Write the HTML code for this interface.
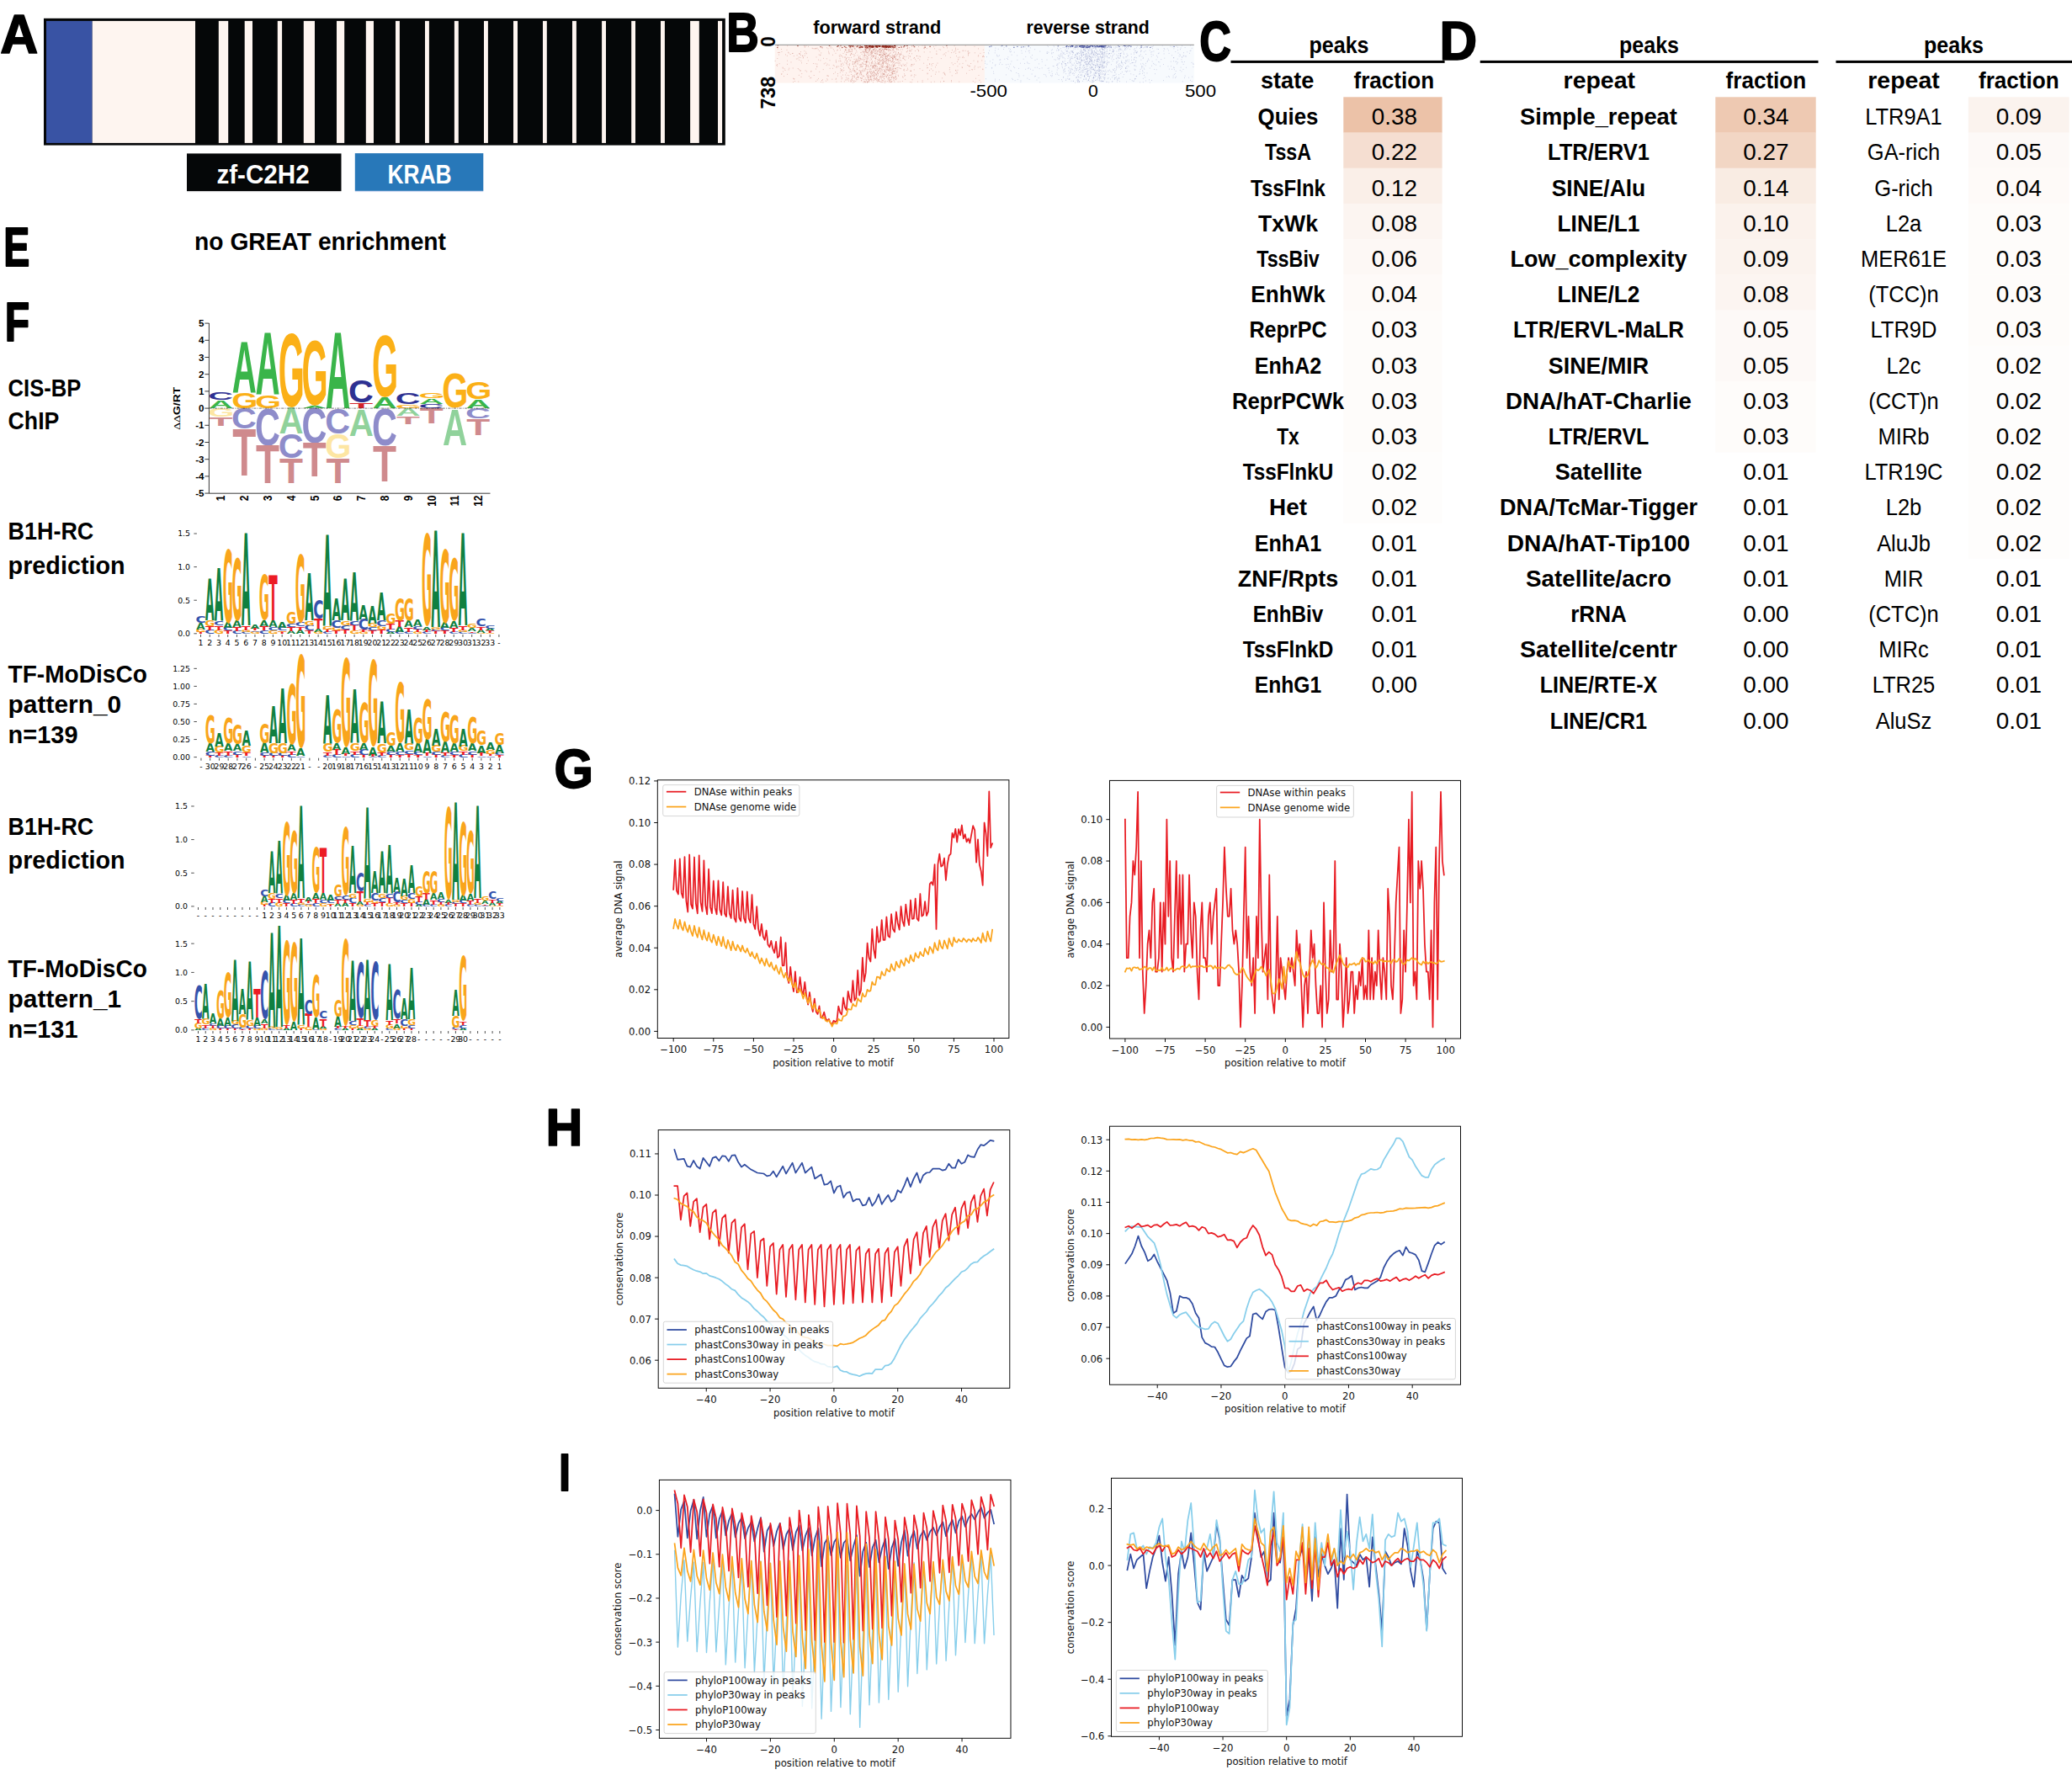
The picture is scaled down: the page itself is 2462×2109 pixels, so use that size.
<!DOCTYPE html>
<html><head><meta charset="utf-8"><title>figure</title>
<style>html,body{margin:0;padding:0;background:#fff}svg{display:block}</style></head>
<body>
<svg width="2462" height="2109" viewBox="0 0 2462 2109" font-family="'Liberation Sans', sans-serif" fill="#000">
<text transform="matrix(0.6230 0 0 0.6526 0.30 63.15)" font-size="100" fill="#000" font-weight="bold" stroke="#000" stroke-width="2.67" stroke-linejoin="round">A</text>
<text transform="matrix(0.5345 0 0 0.6541 863.17 60.95)" font-size="100" fill="#000" font-weight="bold" stroke="#000" stroke-width="2.86" stroke-linejoin="round">B</text>
<text transform="matrix(0.5216 0 0 0.6667 1425.31 71.50)" font-size="100" fill="#000" font-weight="bold" stroke="#000" stroke-width="2.86" stroke-linejoin="round">C</text>
<text transform="matrix(0.6180 0 0 0.6395 1710.42 70.95)" font-size="100" fill="#000" font-weight="bold" stroke="#000" stroke-width="2.7" stroke-linejoin="round">D</text>
<text transform="matrix(0.4652 0 0 0.6483 4.14 315.85)" font-size="100" fill="#000" font-weight="bold" stroke="#000" stroke-width="3.05" stroke-linejoin="round">E</text>
<text transform="matrix(0.4810 0 0 0.6483 5.73 404.75)" font-size="100" fill="#000" font-weight="bold" stroke="#000" stroke-width="3.01" stroke-linejoin="round">F</text>
<text transform="matrix(0.5972 0 0 0.6398 658.40 936.03)" font-size="100" fill="#000" font-weight="bold" stroke="#000" stroke-width="2.75" stroke-linejoin="round">G</text>
<text transform="matrix(0.6073 0 0 0.6352 648.39 1360.55)" font-size="100" fill="#000" font-weight="bold" stroke="#000" stroke-width="2.74" stroke-linejoin="round">H</text>
<text transform="matrix(0.5068 0 0 0.6352 664.06 1770.55)" font-size="100" fill="#000" font-weight="bold" stroke="#000" stroke-width="2.98" stroke-linejoin="round">I</text>
<rect x="52" y="21.8" width="809.8" height="150.8" fill="#050708"/>
<rect x="55" y="24.9" width="54.7" height="145" fill="#3953a4"/>
<rect x="109.7" y="24.9" width="122.3" height="145" fill="#fef5f0"/>
<rect x="259.8" y="24.9" width="11.4" height="145" fill="#fef5f0"/>
<rect x="290.7" y="24.9" width="9.3" height="145" fill="#fef5f0"/>
<rect x="329.8" y="24.9" width="5.3" height="145" fill="#fef5f0"/>
<rect x="360.8" y="24.9" width="13.2" height="145" fill="#fef5f0"/>
<rect x="400" y="24.9" width="9.2" height="145" fill="#fef5f0"/>
<rect x="434.8" y="24.9" width="9.2" height="145" fill="#fef5f0"/>
<rect x="470" y="24.9" width="4.9" height="145" fill="#fef5f0"/>
<rect x="505" y="24.9" width="4.9" height="145" fill="#fef5f0"/>
<rect x="539.9" y="24.9" width="4.9" height="145" fill="#fef5f0"/>
<rect x="575" y="24.9" width="4.9" height="145" fill="#fef5f0"/>
<rect x="610" y="24.9" width="5" height="145" fill="#fef5f0"/>
<rect x="645" y="24.9" width="4.8" height="145" fill="#fef5f0"/>
<rect x="680" y="24.9" width="4.9" height="145" fill="#fef5f0"/>
<rect x="715.1" y="24.9" width="4.9" height="145" fill="#fef5f0"/>
<rect x="750.2" y="24.9" width="4.8" height="145" fill="#fef5f0"/>
<rect x="785" y="24.9" width="4.9" height="145" fill="#fef5f0"/>
<rect x="820.1" y="24.9" width="10.7" height="145" fill="#fef5f0"/>
<rect x="853" y="24.9" width="5.1" height="145" fill="#fef5f0"/>
<rect x="222" y="182.4" width="183.5" height="44.6" fill="#050708"/>
<rect x="421.8" y="182.1" width="152.5" height="44.8" fill="#2878b9"/>
<rect x="222" y="227" width="183.5" height="1.2" fill="#d9d9d9"/>
<rect x="421.8" y="226.9" width="152.5" height="1.2" fill="#d5dcf3"/>
<text x="257.4" y="217.9" font-size="31.3" font-weight="bold" fill="#fff" textLength="110.3" lengthAdjust="spacingAndGlyphs">zf-C2H2</text>
<text x="460.4" y="218" font-size="31.3" font-weight="bold" fill="#fff" textLength="76.2" lengthAdjust="spacingAndGlyphs">KRAB</text>
<rect x="920.7" y="53.4" width="249.3" height="45.2" fill="#fef3ef"/>
<rect x="1170" y="53.4" width="248.8" height="45.2" fill="#f7fafd"/>
<path d="M935.1 76.3h.8M1028.4 57.0h.8M1026.1 90.4h.8M958.4 75.5h.8M1018.1 71.5h.8M1078.2 56.7h.8M945.9 70.0h.8M1036.4 75.3h.8M1126.5 61.0h.8M1055.6 55.1h.8M1049.2 69.6h.8M1011.2 63.6h.8M1082.8 89.2h.8M1056.9 59.7h.8M1050.7 54.7h.8M1058.9 68.3h.8M1058.6 88.6h.8M1059.8 64.9h.8M938.7 64.5h.8M1030.1 54.7h.8M1075.6 76.5h.8M946.7 65.6h.8M1062.4 84.9h.8M1044.9 61.8h.8M925.2 65.0h.8M1038.6 95.2h.8M1021.2 69.3h.8M984.2 61.1h.8M1034.8 60.9h.8M997.6 69.7h.8M970.6 76.2h.8M1042.2 54.0h.8M1073.9 82.3h.8M996.3 79.0h.8M1049.0 74.4h.8M1163.6 95.3h.8M1032.3 65.8h.8M1143.6 75.4h.8M999.2 91.0h.8M1027.0 66.1h.8M1047.6 62.3h.8M1057.1 85.7h.8M1080.7 66.6h.8M1005.6 57.9h.8M1050.9 70.6h.8M1034.3 78.3h.8M1081.0 67.3h.8M1065.4 71.1h.8M1069.9 54.4h.8M955.9 56.2h.8M1014.7 70.4h.8M1008.0 96.1h.8M1122.3 87.8h.8M999.3 66.1h.8M1043.2 94.9h.8M982.1 56.8h.8M1061.5 70.4h.8M1046.7 64.1h.8M1082.9 97.7h.8M1068.7 81.3h.8M1012.3 60.1h.8M1057.3 82.2h.8M1012.8 76.2h.8M1049.3 70.9h.8M1029.5 54.9h.8M1042.2 64.3h.8M1038.2 58.6h.8M1027.6 58.0h.8M1047.4 55.7h.8M1047.7 56.3h.8M1014.5 95.9h.8M1046.3 68.0h.8M1018.6 89.2h.8M1082.9 54.9h.8M1008.8 58.6h.8M1060.3 69.4h.8M982.4 93.8h.8M1052.7 71.8h.8M935.2 88.3h.8M1057.5 95.5h.8M997.5 67.2h.8M1036.2 86.7h.8M1146.8 60.3h.8M955.9 55.2h.8M971.8 58.8h.8M1029.1 88.1h.8M1109.9 97.1h.8M1044.4 58.8h.8M942.1 93.2h.8M1007.2 68.3h.8M1001.8 77.0h.8M972.0 71.1h.8M1045.0 81.9h.8M1063.2 87.0h.8M998.4 81.7h.8M1033.7 81.4h.8M1042.3 97.0h.8M1055.6 61.0h.8M1063.4 77.8h.8M1009.0 56.4h.8M1019.9 54.5h.8M1025.1 84.8h.8M1036.9 66.9h.8M1027.1 82.1h.8M1077.9 54.6h.8M1052.5 86.7h.8M1042.7 75.9h.8M1036.9 78.8h.8M1045.8 65.9h.8M1056.1 56.1h.8M1034.4 87.6h.8M1063.6 94.5h.8M973.4 60.6h.8M1098.8 54.4h.8M1082.3 90.0h.8M997.9 86.1h.8M1134.5 75.4h.8M1036.2 63.0h.8M1067.0 62.3h.8M1060.8 71.7h.8M1006.3 76.9h.8M1041.5 79.0h.8M965.6 57.6h.8M1059.1 92.4h.8M1069.2 71.5h.8M1018.3 73.7h.8M1081.3 97.5h.8M956.1 63.7h.8M999.7 93.8h.8M993.6 97.2h.8M969.5 57.4h.8M1043.1 54.6h.8M1039.0 92.4h.8M1048.7 59.2h.8M1043.6 76.6h.8M982.9 90.0h.8M1050.5 85.0h.8M1136.6 85.6h.8M1025.5 81.9h.8M1052.5 57.0h.8M1046.0 54.8h.8M1036.5 77.5h.8M1021.6 66.6h.8M1056.8 81.0h.8M1047.9 70.8h.8M1112.4 60.9h.8M1137.0 73.3h.8M1044.3 96.5h.8M1034.4 85.9h.8M1044.7 73.5h.8M1146.8 54.4h.8M1049.2 76.8h.8M1051.1 58.3h.8M1046.1 62.2h.8M1167.4 82.0h.8M1022.9 88.7h.8M1050.4 90.3h.8M1121.0 56.6h.8M1008.6 61.4h.8M1041.0 88.9h.8M1020.8 56.8h.8M1014.3 96.3h.8M1033.1 59.7h.8M1048.1 77.9h.8M1061.7 67.6h.8M1000.4 83.2h.8M1060.2 69.9h.8M953.5 66.1h.8M1076.8 61.9h.8M1090.6 69.3h.8M1033.1 56.3h.8M952.4 87.6h.8M1055.8 64.9h.8M1009.5 72.1h.8M1010.8 61.3h.8M1060.7 58.7h.8M1028.5 62.3h.8M1012.4 90.6h.8M1030.7 96.8h.8M1025.3 68.9h.8M1060.6 69.3h.8M1031.8 57.7h.8M1052.3 78.9h.8M1056.8 58.9h.8M1048.1 79.9h.8M1022.0 57.1h.8M1060.5 88.2h.8M1057.0 89.4h.8M1065.1 58.9h.8M1058.3 66.7h.8M1038.8 60.9h.8M1142.7 79.9h.8M1064.0 71.0h.8M1158.3 97.8h.8M1047.1 82.0h.8M1057.4 71.8h.8M1040.2 70.1h.8M1031.3 79.0h.8M1065.5 57.4h.8M989.2 65.3h.8M1021.3 83.9h.8M935.0 72.2h.8M1054.4 79.9h.8M1149.5 61.1h.8M1044.6 82.0h.8M1062.1 60.8h.8M1041.3 93.3h.8M1064.5 92.9h.8M1167.7 67.1h.8M948.4 97.0h.8M1045.0 58.9h.8M1043.9 94.5h.8M986.4 56.9h.8M1047.0 71.9h.8M1016.4 72.0h.8M1014.3 64.5h.8M999.1 96.8h.8M1038.2 85.8h.8M1039.0 63.7h.8M1051.7 89.9h.8M1033.1 57.8h.8M1050.0 64.4h.8M1005.1 70.7h.8M970.6 79.1h.8M1074.1 70.3h.8M1030.6 70.1h.8M1064.4 94.8h.8M1086.0 68.5h.8M1035.5 91.0h.8M1038.3 93.3h.8M1060.8 56.3h.8M1097.3 75.2h.8M1025.0 56.2h.8M984.5 62.8h.8M1054.0 70.4h.8M1042.1 79.7h.8M1058.8 56.2h.8M1053.1 72.0h.8M1031.2 92.7h.8M1028.4 82.2h.8M1091.0 60.7h.8M999.8 78.7h.8M1017.9 55.4h.8M1027.4 83.9h.8M1044.0 95.0h.8M1041.1 92.1h.8M1055.0 57.8h.8M977.1 94.8h.8M1155.2 82.9h.8M1003.4 73.8h.8M1068.6 74.3h.8M1048.2 58.2h.8M1013.7 83.2h.8M1053.7 76.3h.8M1045.3 93.3h.8M1062.3 84.4h.8M993.2 93.3h.8M1064.3 64.2h.8M1115.4 85.3h.8M1035.4 94.6h.8M950.7 84.1h.8M1046.5 97.6h.8M1033.6 89.7h.8M1011.0 97.0h.8M1101.7 87.0h.8M1063.9 56.0h.8M1016.4 96.5h.8M1037.5 78.6h.8M953.9 68.9h.8M1072.7 66.1h.8M1010.0 84.8h.8M1128.9 68.3h.8M928.3 88.3h.8M1046.0 72.6h.8M1029.6 62.6h.8M996.6 55.9h.8M1033.7 58.4h.8M1039.0 90.2h.8M972.7 65.0h.8M1066.0 70.6h.8M1029.9 56.9h.8M1120.0 55.6h.8M1058.7 90.2h.8M992.9 71.4h.8M1111.6 54.2h.8M1049.8 74.0h.8M1128.6 85.6h.8M1030.4 85.1h.8M1052.8 58.5h.8M1054.1 96.6h.8M1052.5 82.6h.8M1093.2 67.3h.8M1031.2 86.1h.8M1066.4 83.1h.8M976.1 56.8h.8M1011.0 85.8h.8M1050.6 58.8h.8M1037.2 95.3h.8M1051.0 64.5h.8M1135.4 63.3h.8M1040.3 61.9h.8M1082.8 76.6h.8M1037.5 86.6h.8M1012.0 93.8h.8M941.1 63.5h.8M1029.7 60.1h.8M1020.5 83.9h.8M1047.7 95.8h.8M960.9 90.5h.8M1060.2 85.4h.8M1065.1 93.1h.8M1082.9 76.6h.8M1062.3 61.9h.8M1050.8 83.8h.8M1087.6 89.2h.8M974.1 65.7h.8M1064.0 69.6h.8M1029.3 61.7h.8M988.3 57.0h.8M963.7 84.7h.8M1024.3 75.1h.8M1005.5 75.6h.8M1151.4 78.7h.8M1035.4 62.6h.8M1046.5 76.9h.8M1040.8 65.1h.8M1078.8 66.2h.8M1036.4 81.3h.8M1029.3 57.7h.8M944.1 96.5h.8M1052.8 90.7h.8M1004.6 59.3h.8M1004.8 64.9h.8M1037.2 97.7h.8M1063.4 54.4h.8M1008.3 70.6h.8M1015.2 91.0h.8M1033.8 68.9h.8M1005.2 64.9h.8M977.1 57.0h.8M1049.5 75.3h.8M1150.1 63.1h.8M1059.7 60.3h.8M1048.1 74.6h.8M1049.0 61.7h.8M1030.6 57.7h.8M1074.2 67.3h.8M999.1 76.2h.8M1041.4 95.7h.8M1062.9 54.2h.8M1039.8 75.8h.8M1054.5 66.1h.8M926.1 62.4h.8M1057.5 94.7h.8M1068.9 97.1h.8M934.6 59.4h.8M1048.5 54.1h.8M1038.1 59.1h.8M956.7 83.9h.8M982.6 89.9h.8M1039.4 57.7h.8M1005.9 95.1h.8M1053.0 91.7h.8M1058.3 71.8h.8M998.6 55.2h.8M1097.8 54.0h.8M1026.6 96.7h.8M1061.9 54.3h.8M1066.8 89.3h.8M1045.5 79.3h.8M1023.2 77.9h.8M1070.7 61.9h.8M1047.9 95.3h.8M943.4 93.8h.8M1027.6 60.8h.8M1040.8 59.5h.8M948.7 68.1h.8M1015.2 83.6h.8M1061.2 62.6h.8M1040.6 68.8h.8M1047.5 79.9h.8M1024.7 83.3h.8M1052.8 66.1h.8M1068.5 65.2h.8M1017.6 70.7h.8M1063.4 68.1h.8M1047.3 59.3h.8M1066.5 70.6h.8M1030.1 97.8h.8M1035.4 63.3h.8M1028.1 76.3h.8M1013.0 92.0h.8M1010.3 71.7h.8M1034.2 90.7h.8M1044.1 74.8h.8M998.7 78.2h.8M1040.7 81.2h.8M1061.4 87.2h.8M1072.7 92.0h.8M1021.5 77.1h.8M1008.4 89.8h.8M1014.3 79.5h.8M1029.3 54.0h.8M1070.1 81.6h.8M1047.2 60.5h.8M1038.7 77.7h.8M1045.8 90.9h.8M1151.6 62.7h.8M933.2 64.9h.8M949.0 63.8h.8M1030.1 73.2h.8M1063.4 64.7h.8M1139.4 97.1h.8M1037.4 59.7h.8M1069.0 68.8h.8M1045.2 72.2h.8M1015.8 73.1h.8M989.9 58.7h.8M1032.2 92.5h.8M1030.1 87.6h.8M1060.0 72.3h.8M1031.0 94.4h.8M1066.2 85.3h.8M952.1 74.8h.8M958.2 63.7h.8M1135.1 58.3h.8M1029.2 66.3h.8M1045.8 85.7h.8M1023.1 93.4h.8M1035.6 85.4h.8M1082.0 84.3h.8M1062.1 76.7h.8M951.6 91.4h.8M1057.2 89.8h.8M1054.7 65.7h.8M1035.4 87.5h.8M1031.3 89.0h.8M939.6 73.9h.8M1066.3 64.4h.8M1042.7 71.4h.8M1046.2 68.2h.8M923.7 58.0h.8M985.7 81.3h.8M1055.4 70.5h.8M1064.0 70.6h.8M1055.5 94.9h.8M1039.4 81.9h.8M1095.7 95.8h.8M1000.3 92.6h.8M1006.6 89.4h.8M1046.7 60.2h.8M1121.9 64.0h.8M1061.5 66.1h.8M1055.5 59.9h.8M1007.4 92.8h.8M1032.3 55.3h.8M1061.4 92.0h.8M1048.6 66.6h.8M1013.6 90.5h.8M1011.5 58.6h.8M1049.5 79.7h.8M1031.5 97.2h.8M1054.2 77.5h.8M1083.2 63.8h.8M1041.6 55.4h.8M1052.9 82.1h.8M1014.7 97.5h.8M1017.1 87.9h.8M1108.3 75.5h.8M1064.1 61.5h.8M1011.9 59.2h.8M1022.6 87.1h.8M1037.8 89.8h.8M1056.1 55.0h.8M1101.3 80.7h.8M1123.0 66.1h.8M1150.0 65.9h.8M1023.3 95.7h.8M1043.1 75.6h.8M1047.9 89.3h.8M1062.2 93.2h.8M1048.0 97.6h.8M951.5 72.4h.8M1043.3 87.4h.8M1028.0 78.7h.8M1017.8 72.8h.8M1162.0 57.9h.8M1067.6 70.1h.8M1029.9 89.9h.8M1079.2 69.0h.8M1048.6 65.2h.8M1026.3 94.6h.8M1015.4 65.9h.8M1035.1 77.2h.8M1055.6 54.0h.8M1028.2 56.9h.8M1083.1 58.9h.8M942.2 97.4h.8M1072.8 69.4h.8M1029.0 95.0h.8M1048.3 75.0h.8M931.1 90.6h.8M1053.7 88.7h.8M1054.3 58.4h.8M969.1 96.5h.8M1054.7 72.0h.8M1052.1 96.3h.8M1167.5 82.6h.8M1059.4 73.5h.8M1042.0 61.7h.8M1067.1 90.4h.8M1059.5 91.4h.8M1029.8 62.1h.8M1067.5 72.9h.8M1139.6 61.6h.8M1066.7 97.2h.8M1001.2 89.1h.8M1087.0 70.3h.8M1038.0 84.2h.8M1025.8 62.1h.8M1058.9 68.4h.8M1039.0 86.8h.8M1151.6 83.5h.8M1055.2 65.5h.8M1139.7 76.0h.8M1050.8 72.5h.8M1149.3 77.4h.8M1005.2 69.3h.8M1117.3 59.2h.8M950.6 68.3h.8M1049.8 87.8h.8M1061.5 57.3h.8M998.0 59.4h.8M1018.7 65.8h.8M1040.3 94.1h.8M925.7 75.7h.8M1104.0 75.7h.8M1014.5 56.9h.8M1067.6 77.3h.8M1029.8 64.1h.8M1017.2 59.8h.8M1059.6 96.8h.8M1043.2 89.1h.8M1053.4 79.6h.8M1037.8 93.3h.8M1063.2 92.1h.8M1040.0 74.6h.8M1157.5 80.2h.8M1035.0 74.7h.8M1032.4 65.2h.8M977.2 56.0h.8M1008.8 85.6h.8M1048.8 77.7h.8M1069.4 59.1h.8M1133.7 54.4h.8M1038.2 85.4h.8M1046.7 67.8h.8M1052.9 63.8h.8M1044.7 69.6h.8M974.6 65.2h.8M1058.4 94.5h.8M1049.2 66.3h.8M1153.3 75.5h.8M1110.0 57.8h.8M1045.0 55.5h.8M1128.1 80.5h.8M1095.6 54.2h.8M1035.9 55.9h.8M1054.6 93.8h.8M1034.9 66.1h.8M1040.9 83.0h.8M1040.5 83.3h.8M1047.6 85.3h.8M1016.1 78.3h.8M1022.7 69.9h.8M1056.1 92.8h.8M1044.2 65.3h.8M1048.4 58.5h.8M1143.0 68.3h.8M969.1 82.0h.8M1060.0 86.6h.8M1076.9 83.5h.8M1039.5 60.1h.8M1046.5 89.2h.8M1020.6 76.9h.8M1056.9 69.4h.8M1013.4 82.1h.8M1013.1 76.6h.8M1029.0 72.7h.8M1056.8 66.0h.8M1058.5 68.3h.8M1044.1 58.9h.8M1025.1 76.2h.8M1057.9 62.8h.8M1084.6 77.0h.8M974.5 71.8h.8M1046.7 77.8h.8M1023.0 84.4h.8M1055.5 69.5h.8M1056.2 96.3h.8M1132.1 76.8h.8M1049.8 82.5h.8M1056.9 67.6h.8M1038.5 77.3h.8M1011.8 96.0h.8M1157.9 62.8h.8M1039.1 87.0h.8M1047.4 65.4h.8M1047.4 79.2h.8M984.0 90.3h.8M1032.5 95.9h.8M1089.8 58.8h.8M1051.5 57.3h.8M980.5 74.9h.8M1046.4 91.5h.8M1033.9 77.7h.8M1167.1 67.3h.8M982.7 76.1h.8M1119.3 92.8h.8M995.2 90.1h.8M1148.0 87.2h.8M1048.6 80.0h.8M1048.9 63.3h.8M1012.4 54.2h.8M1082.9 78.1h.8M1055.8 89.2h.8M1046.6 87.7h.8M1048.7 87.9h.8M1003.9 71.3h.8M1034.0 91.3h.8M1062.2 87.2h.8M1041.6 87.8h.8M920.7 72.4h.8M1021.2 58.0h.8M1013.2 98.1h.8M1029.1 77.2h.8M1060.8 57.9h.8M1015.4 85.4h.8M1073.9 54.6h.8M1024.6 74.6h.8M1034.7 56.7h.8M1028.7 56.6h.8M949.9 63.8h.8M962.4 92.7h.8M1004.2 95.0h.8M1162.6 89.5h.8M1040.7 63.5h.8M953.1 66.5h.8M1052.2 67.8h.8M1032.8 59.4h.8M1029.1 73.8h.8M1051.6 66.9h.8M1019.2 91.8h.8M1050.6 64.0h.8M1050.8 88.5h.8M1054.6 79.0h.8M1018.2 82.7h.8M1023.1 55.1h.8M1066.5 74.2h.8M1060.9 84.3h.8M977.8 82.6h.8M1044.3 70.4h.8M1092.6 81.6h.8M937.4 81.2h.8M1030.5 67.6h.8M1052.7 71.0h.8M1051.5 69.6h.8M1043.5 74.9h.8M1028.3 80.6h.8M1056.1 94.9h.8M1044.7 76.6h.8M1168.1 66.3h.8M1015.5 76.0h.8M1031.7 82.2h.8M1143.0 80.3h.8M997.8 65.0h.8M1087.0 60.5h.8M1064.6 85.9h.8M932.6 83.5h.8M1022.4 56.4h.8M1047.6 82.9h.8M1019.4 90.9h.8M1064.3 88.1h.8M1041.5 62.2h.8M1034.2 62.8h.8M1041.7 56.2h.8M1037.4 88.9h.8M1053.9 79.8h.8M1032.0 60.9h.8M1075.3 94.3h.8M1036.1 54.4h.8M983.6 57.9h.8M1035.8 61.1h.8M1138.2 68.2h.8M1047.8 91.4h.8M1028.4 58.6h.8M1162.3 65.8h.8M1027.3 97.4h.8M968.8 58.1h.8M1055.8 58.6h.8M1027.0 62.0h.8M1106.8 78.0h.8M1038.5 58.3h.8M1048.2 72.9h.8M993.1 73.9h.8M969.6 67.9h.8M1061.6 55.8h.8M1024.1 93.6h.8M1050.0 60.3h.8M1056.2 84.1h.8M1002.6 54.8h.8M1069.6 56.3h.8M1045.8 64.4h.8M1106.4 76.2h.8M1007.4 79.1h.8M1017.0 78.6h.8M1056.0 72.0h.8M1140.0 68.0h.8M1147.4 72.2h.8M1042.1 73.5h.8M1053.2 56.3h.8M1015.5 74.5h.8M1042.4 93.8h.8M1063.3 81.5h.8M1113.6 75.1h.8M1017.7 82.1h.8M1081.6 84.2h.8M1024.3 91.7h.8M1052.3 69.2h.8M1011.9 84.0h.8M1028.7 76.0h.8M1036.4 89.4h.8M1022.7 59.0h.8M928.1 58.5h.8M1038.2 79.2h.8M992.6 63.3h.8M1122.8 89.1h.8M1053.2 69.5h.8M1037.8 62.2h.8M1127.9 82.8h.8M1021.3 87.8h.8M1046.2 84.1h.8M1029.5 74.5h.8M1091.1 59.8h.8M1033.7 94.5h.8M1016.9 88.7h.8M1150.3 60.9h.8M1030.0 86.6h.8M985.6 71.7h.8M1018.5 87.1h.8M1030.8 92.7h.8M1032.1 97.2h.8M1054.7 82.6h.8M1058.9 86.0h.8M1011.0 68.3h.8M1022.0 69.1h.8M1061.7 78.6h.8M1061.1 95.0h.8M1104.7 61.8h.8M1006.2 62.3h.8M1042.3 60.3h.8M1022.0 85.3h.8M1039.5 63.3h.8M1029.2 73.9h.8M1060.4 70.2h.8M1029.2 58.0h.8M1025.7 90.7h.8M1057.3 63.3h.8M1062.4 67.0h.8M1008.0 79.8h.8M1036.2 79.6h.8M1070.9 77.9h.8M1056.3 80.1h.8M1028.6 61.0h.8M1049.3 95.7h.8M1112.6 64.2h.8M1061.2 59.9h.8M1057.4 82.9h.8M943.3 93.9h.8M1028.3 73.7h.8M995.6 54.0h.8M1089.2 66.5h.8M1062.5 67.8h.8M1138.5 70.2h.8M923.0 78.3h.8M1059.1 55.0h.8M1074.4 77.8h.8M1055.9 97.7h.8M1057.1 71.6h.8M1007.9 62.1h.8M942.9 66.5h.8M1023.9 79.2h.8M983.1 95.0h.8M941.7 63.4h.8M1066.5 71.6h.8M1028.5 68.8h.8M1034.8 95.0h.8M1042.9 83.2h.8M1026.6 73.0h.8M1040.0 79.3h.8M1070.9 55.9h.8M1031.4 65.4h.8M1017.5 54.9h.8M1137.6 83.3h.8M1009.4 83.0h.8M1051.7 69.2h.8M1121.3 96.6h.8M1061.5 66.5h.8M1082.0 60.6h.8M1016.2 63.2h.8M1015.7 57.4h.8M1075.0 89.6h.8M1054.6 83.6h.8M1029.2 78.8h.8M1037.5 66.9h.8M1050.9 84.9h.8M1044.6 83.5h.8M1164.5 63.4h.8M1061.9 84.6h.8M1019.8 69.1h.8M1060.9 74.2h.8M1016.4 74.4h.8M1005.9 94.0h.8M1030.2 57.1h.8M1112.1 77.3h.8M1078.1 60.1h.8M1132.6 62.1h.8M1064.4 82.9h.8M1048.7 68.6h.8M947.8 81.5h.8M1031.9 54.1h.8M1066.2 80.6h.8M1022.3 76.4h.8M1060.8 92.5h.8M1018.6 94.6h.8M1027.3 70.4h.8M1026.7 84.1h.8M1165.2 97.8h.8M1080.1 60.0h.8M1058.8 97.2h.8M1035.7 89.8h.8M1042.2 54.6h.8M1023.7 64.4h.8M1025.6 97.9h.8M1005.7 60.5h.8M989.0 81.3h.8M1045.1 58.7h.8M1046.2 57.6h.8M1077.5 57.6h.8M1032.3 79.7h.8M1102.8 68.3h.8M1032.5 94.3h.8M1078.0 81.2h.8M1106.0 81.9h.8M1014.7 55.6h.8M1030.6 91.4h.8M1002.4 83.5h.8M1085.5 69.3h.8M1157.6 82.2h.8M924.1 62.5h.8M978.8 75.8h.8M1008.2 80.5h.8M1020.1 56.0h.8M1060.5 90.5h.8M1067.1 62.6h.8M975.4 62.9h.8M1135.1 57.1h.8M1051.0 65.7h.8M1045.3 65.6h.8M1024.7 89.7h.8M1054.3 89.7h.8M1032.5 91.0h.8M1008.4 59.7h.8M1058.6 89.2h.8M1076.0 67.3h.8M1077.4 61.4h.8M1042.6 56.4h.8M1019.9 73.6h.8M1053.0 74.1h.8M1029.1 88.9h.8M1023.4 95.8h.8M1024.4 70.8h.8M1043.3 54.8h.8M1063.8 91.1h.8M1036.9 59.5h.8M1030.2 57.1h.8M957.5 54.6h.8M1015.2 73.8h.8M1092.4 71.0h.8M1053.3 63.1h.8M1024.7 61.4h.8M1026.8 68.1h.8M1031.8 63.3h.8M976.3 56.0h.8M1027.6 65.9h.8M995.0 87.6h.8M1125.1 56.8h.8M1041.8 70.4h.8M1030.5 90.8h.8M936.9 63.0h.8M1055.4 91.3h.8M1037.3 78.6h.8M1022.7 70.8h.8M1022.7 62.3h.8M1053.6 75.7h.8M1040.2 54.4h.8M1034.9 54.5h.8M1044.8 74.8h.8M1052.7 85.3h.8M1041.6 94.8h.8M999.1 84.1h.8M1063.2 81.2h.8M958.9 68.3h.8M1050.6 84.3h.8M1014.9 89.1h.8M1005.3 86.8h.8M1022.4 86.7h.8M1034.1 91.6h.8M1047.2 93.8h.8M1036.4 73.7h.8M1071.0 78.5h.8M1052.0 64.0h.8M1039.7 54.0h.8M1060.3 87.8h.8M1051.0 62.2h.8M1059.4 82.1h.8M1009.6 54.4h.8M966.9 57.9h.8M1015.2 91.7h.8M1037.2 79.8h.8M1039.3 73.6h.8M1001.2 75.2h.8M1029.8 59.0h.8M1066.7 75.4h.8M1062.2 56.8h.8M1050.0 87.0h.8M1031.4 73.4h.8M1033.3 84.5h.8M1167.9 59.2h.8M1068.4 63.9h.8M1011.3 63.9h.8M1057.6 97.4h.8M1028.8 54.3h.8M1010.2 65.5h.8M1046.7 60.9h.8M1018.5 87.2h.8M1035.4 62.9h.8M1130.1 97.0h.8M1123.6 62.7h.8M1048.1 87.0h.8M1062.5 97.5h.8M1004.0 59.2h.8M1044.5 76.0h.8M936.7 82.9h.8M1025.7 61.8h.8M1055.2 71.6h.8M1027.5 61.3h.8M1055.4 92.9h.8M1091.7 66.9h.8M1012.2 95.4h.8M1057.0 77.4h.8M1026.5 63.9h.8M1085.8 82.9h.8M1097.2 57.2h.8M1053.4 59.6h.8M1042.0 56.2h.8M1020.3 71.5h.8M1049.4 72.9h.8M1045.5 61.1h.8M1059.4 83.4h.8M1065.5 65.1h.8M1058.6 79.1h.8M1045.5 62.3h.8M935.3 54.6h.8M1102.2 94.0h.8M955.5 60.6h.8M1064.3 74.4h.8M1036.7 86.8h.8M1042.5 56.3h.8M1032.4 60.1h.8M1063.5 69.0h.8M1041.4 92.2h.8M1085.8 76.2h.8M1057.9 80.3h.8M1073.4 67.2h.8M1041.2 55.9h.8M1054.6 65.9h.8M924.9 62.4h.8M1101.9 80.5h.8M1143.9 67.2h.8M1033.1 85.1h.8M1073.9 54.3h.8M1003.7 67.8h.8M1023.5 79.5h.8M1122.2 88.0h.8M1130.6 74.8h.8M954.1 68.0h.8M1047.0 91.5h.8M1101.3 77.9h.8M1097.8 61.9h.8M1063.4 67.5h.8M1027.4 76.5h.8M1066.0 55.0h.8M1039.8 83.7h.8M1050.6 61.7h.8M1023.3 86.7h.8M1048.9 71.4h.8M1014.3 66.8h.8M1043.2 60.5h.8M1039.6 55.0h.8M1161.8 80.0h.8M999.7 82.7h.8M1005.0 74.9h.8M1028.8 73.4h.8M929.7 80.2h.8M1049.6 88.1h.8M1029.2 77.8h.8M1022.8 55.3h.8M1156.6 72.2h.8M1054.6 75.6h.8M1043.5 71.8h.8M1112.4 64.0h.8M1058.0 83.4h.8M1055.7 66.4h.8M1022.2 70.0h.8M1055.9 83.4h.8M1063.3 66.3h.8M1161.5 73.8h.8M1050.4 96.4h.8M1015.8 54.5h.8M1028.5 94.6h.8M1008.7 68.7h.8M923.0 76.6h.8M1033.7 57.7h.8M1050.5 79.3h.8M1040.3 83.6h.8M1098.1 57.7h.8M1072.7 76.2h.8M963.4 92.3h.8M1063.4 84.2h.8M1020.3 57.4h.8M1117.9 69.6h.8M1030.4 72.1h.8M1157.6 55.3h.8M1035.1 70.6h.8M1017.3 92.5h.8M976.0 95.6h.8M1062.0 73.3h.8M1006.1 72.4h.8M994.1 59.9h.8M936.0 62.2h.8M1034.1 94.0h.8M990.9 60.7h.8M1015.1 84.3h.8M1040.2 77.8h.8M1031.9 95.0h.8M1035.3 60.6h.8M994.0 79.9h.8M1071.9 96.5h.8M1025.1 61.8h.8M1011.4 94.5h.8M1041.5 75.8h.8M1067.4 63.8h.8M955.8 66.0h.8M1010.6 55.0h.8M1120.6 86.7h.8M1081.7 84.4h.8M1101.7 87.7h.8M1069.3 65.3h.8M1051.8 85.6h.8M1044.8 58.1h.8M948.9 89.4h.8M1046.6 71.8h.8M1055.2 73.7h.8M1052.9 70.8h.8M1066.8 59.2h.8M921.0 95.2h.8M1028.1 59.9h.8M1059.4 73.6h.8M1008.7 76.6h.8M1004.4 58.8h.8M955.2 54.4h.8M1135.4 87.5h.8M1050.2 64.3h.8M1027.5 65.5h.8M1049.0 91.4h.8M1161.9 66.9h.8M1105.9 97.6h.8M1037.7 90.6h.8M1022.5 62.7h.8M970.2 79.2h.8M1030.3 62.6h.8M981.9 69.8h.8M1042.6 81.6h.8M1012.7 73.4h.8M1029.5 79.2h.8M949.9 64.2h.8M1064.3 55.7h.8M1047.7 83.4h.8M1028.4 60.4h.8M994.3 78.7h.8M1060.4 68.5h.8M1017.7 56.4h.8M1069.7 64.7h.8M1030.3 97.6h.8M1038.5 66.2h.8M1039.8 69.4h.8M1062.0 68.1h.8M1049.7 64.3h.8M1055.8 84.4h.8M1049.6 87.5h.8M966.3 75.5h.8M1028.6 59.6h.8M1121.1 96.6h.8M1048.3 70.7h.8M1051.6 58.4h.8M1075.4 71.3h.8M1001.1 85.0h.8M1040.2 87.9h.8M1056.5 96.1h.8M1041.8 85.7h.8M1050.5 91.4h.8M1035.3 64.9h.8M1052.1 75.0h.8M1031.1 78.1h.8M1032.7 74.2h.8M1039.7 69.2h.8M1052.8 58.6h.8M1158.0 78.5h.8M1058.7 96.9h.8M993.3 79.9h.8M1035.9 79.8h.8M1117.2 97.2h.8M1061.1 81.4h.8M1049.0 75.2h.8M1019.8 91.6h.8M988.5 94.2h.8M1088.3 72.3h.8M1053.5 58.7h.8M960.2 55.3h.8M1028.3 81.5h.8M1005.2 69.0h.8M1017.3 94.8h.8M1013.7 81.4h.8M1022.5 56.4h.8M1001.6 63.5h.8M1027.8 92.8h.8M1047.7 79.0h.8M1061.3 78.7h.8M1017.6 61.9h.8M1064.9 74.9h.8M1062.6 55.5h.8M1027.2 55.9h.8M1035.6 63.7h.8M1052.6 56.3h.8M1043.3 74.6h.8M1130.2 95.7h.8M1028.0 58.7h.8M1080.1 63.6h.8M1054.1 82.1h.8M950.6 83.8h.8M1045.5 91.2h.8M947.5 69.8h.8M1033.8 64.1h.8M1005.0 92.1h.8M1040.2 78.8h.8M1050.9 67.8h.8M1005.9 56.4h.8M1168.8 67.5h.8M1013.0 89.9h.8M963.2 85.0h.8M1010.3 95.8h.8M1034.5 54.4h.8M1056.3 64.1h.8M1025.6 75.9h.8M1040.6 88.0h.8M1057.4 55.0h.8M1055.0 59.4h.8M1016.7 93.5h.8M1106.2 90.5h.8M1027.0 64.1h.8M1053.3 83.4h.8M1025.4 66.5h.8M1010.2 61.3h.8M1081.2 59.8h.8M1130.8 89.9h.8M1030.1 86.1h.8M1115.7 58.7h.8M1012.4 58.2h.8M1030.7 77.3h.8M1022.4 79.2h.8M1057.4 83.4h.8M1086.1 88.9h.8M1029.5 96.1h.8M958.3 85.1h.8M948.9 82.7h.8M984.7 77.3h.8M1031.6 90.3h.8M1003.5 68.2h.8M1028.9 72.3h.8M1021.4 71.9h.8M1022.4 56.2h.8M1059.6 87.6h.8M1044.9 65.5h.8M1009.3 75.7h.8M1034.9 88.7h.8M1055.3 87.6h.8M1038.1 88.7h.8M1106.7 68.6h.8M1072.3 69.0h.8M1063.0 54.3h.8M1035.4 75.2h.8M1150.6 63.3h.8M1034.4 91.8h.8M1050.3 98.0h.8M999.4 76.1h.8M1058.7 92.5h.8M968.7 75.8h.8M1121.5 86.2h.8M1043.0 84.3h.8M1065.4 66.5h.8M1016.8 70.1h.8M1033.5 82.8h.8M1051.5 58.4h.8M1064.2 90.5h.8M1043.2 96.0h.8M1164.1 79.6h.8M1048.9 62.9h.8M1070.1 63.7h.8M1043.6 84.0h.8M1050.1 58.4h.8M1083.7 94.8h.8M934.9 66.3h.8M1042.3 85.1h.8M997.4 57.2h.8M1034.8 67.5h.8M1010.4 97.0h.8M1044.6 64.8h.8M1022.3 92.5h.8M1055.9 76.6h.8M1010.1 82.3h.8M1131.0 59.5h.8M1044.0 80.9h.8M1058.9 57.7h.8M984.8 63.9h.8M1055.2 55.0h.8M1033.9 62.0h.8M970.8 95.0h.8M923.4 69.5h.8M1008.9 77.6h.8M1012.1 64.4h.8M1050.5 57.4h.8M1020.2 67.8h.8M1018.2 87.8h.8M1025.0 59.8h.8M1051.9 81.0h.8M1012.2 92.9h.8M998.6 72.9h.8M966.8 89.5h.8M992.0 85.9h.8M1057.9 73.6h.8M1078.0 57.3h.8M1043.8 55.4h.8M1035.4 96.1h.8M1060.8 79.3h.8M1070.6 64.7h.8M1027.4 58.3h.8M1104.1 83.5h.8M1040.8 77.9h.8M1050.8 65.1h.8M1071.8 58.9h.8M1036.6 68.4h.8M1019.7 69.9h.8M957.3 62.0h.8M1136.9 86.9h.8M1021.4 89.0h.8M1073.2 83.2h.8M1014.1 84.2h.8M1048.9 72.6h.8M1058.9 86.5h.8M1040.3 93.9h.8M1032.9 75.9h.8M1033.9 55.4h.8M1033.1 58.8h.8M931.8 81.9h.8M1052.4 75.1h.8M1042.8 60.6h.8M1051.7 97.9h.8M1009.9 65.2h.8M1078.4 82.8h.8M973.4 85.4h.8M1012.1 61.6h.8M1054.2 68.3h.8M1061.8 68.2h.8M1021.9 78.2h.8M1051.2 83.8h.8M1155.8 96.6h.8M1054.2 66.6h.8M1058.2 60.2h.8M1029.9 82.7h.8M1046.9 76.0h.8M1072.2 91.1h.8M1073.9 77.7h.8M1008.7 81.5h.8M1054.8 71.6h.8M1000.1 57.0h.8M1064.8 58.7h.8M1016.6 86.2h.8M1044.9 59.9h.8M1044.4 61.9h.8M1052.9 91.0h.8M1059.3 77.3h.8M1017.3 72.7h.8M1053.6 67.3h.8M1026.6 66.0h.8M1074.0 87.9h.8M1062.5 65.5h.8M1060.4 58.9h.8M1035.7 74.1h.8M1062.3 77.3h.8M1037.6 54.9h.8M1027.8 97.9h.8M1073.1 68.9h.8M1088.9 66.5h.8M1042.1 90.6h.8M1003.1 61.7h.8M1053.1 79.9h.8M1060.6 69.7h.8M1036.3 61.9h.8M1018.4 91.5h.8M1052.1 66.2h.8M1074.3 83.9h.8M998.9 83.7h.8M977.5 97.8h.8M1013.9 78.7h.8M1028.1 97.2h.8M1036.6 65.2h.8M968.5 57.5h.8M990.8 78.3h.8M1060.4 76.0h.8M1035.4 69.8h.8M1008.0 60.3h.8M1045.0 71.1h.8M1055.7 79.6h.8M1038.1 80.9h.8M1050.8 73.7h.8M1003.8 59.9h.8M1070.5 72.0h.8M1032.1 58.8h.8M1057.3 59.3h.8M1033.6 71.3h.8M1063.2 75.6h.8M1052.8 67.1h.8M996.4 72.6h.8M1045.0 81.2h.8M997.9 72.2h.8M1065.0 85.4h.8M1143.5 60.3h.8M1052.2 57.0h.8M1038.1 66.7h.8M1081.8 78.2h.8M1074.4 90.2h.8M1064.1 81.5h.8M1039.0 94.1h.8M964.7 57.2h.8M1026.7 96.9h.8M1030.3 67.4h.8M1034.8 84.5h.8M1015.1 57.8h.8M1018.2 73.0h.8M1032.4 57.0h.8M1138.0 71.0h.8M999.7 66.7h.8M1019.1 92.4h.8M1046.0 59.1h.8M1049.3 88.8h.8M1043.1 68.2h.8M1042.9 96.0h.8M1045.2 96.7h.8M1053.6 79.5h.8M1007.9 58.7h.8M1120.6 64.9h.8M1039.5 72.1h.8M1029.9 97.8h.8M1021.9 84.8h.8M1030.5 87.7h.8M1083.1 55.0h.8M1063.5 90.5h.8M930.0 85.0h.8M1006.5 74.2h.8M1034.2 86.4h.8M1060.4 66.4h.8M1037.6 59.0h.8M1154.4 82.6h.8M1130.0 62.6h.8M989.8 77.4h.8M1166.4 71.9h.8M1090.2 97.1h.8M1039.6 89.3h.8M1061.4 82.7h.8M1037.1 84.6h.8M1018.7 86.6h.8M1031.0 69.0h.8M1136.2 66.7h.8M1067.6 80.3h.8M1059.9 67.0h.8M1054.9 83.4h.8M1013.3 73.5h.8M1023.4 88.8h.8M1058.0 97.6h.8M1066.7 58.6h.8M1052.1 73.3h.8M951.0 65.5h.8M1013.8 53.9h.8M1039.3 68.9h.8M975.2 97.5h.8M1080.3 56.8h.8M1053.9 89.3h.8M1042.3 82.1h.8M1102.0 70.9h.8M1060.9 78.5h.8M1002.9 96.9h.8M951.0 61.6h.8M1135.4 60.0h.8M1035.0 61.2h.8M1020.1 68.1h.8M1044.6 85.8h.8M1037.8 61.8h.8M1039.9 63.9h.8M1013.2 75.2h.8M1095.8 83.5h.8M1150.5 78.1h.8M1027.6 59.3h.8M1025.6 70.6h.8M1044.7 64.7h.8M1061.7 73.9h.8M1082.3 71.0h.8M1029.1 57.7h.8M1077.4 75.0h.8M1013.2 53.9h.8M1040.7 67.1h.8M1076.3 78.2h.8M928.5 87.7h.8M1060.3 72.3h.8M1144.8 68.6h.8M1068.5 75.4h.8M1037.2 66.8h.8M1047.2 67.4h.8M1150.1 64.8h.8M990.3 87.6h.8M1004.1 89.0h.8M1022.5 55.3h.8M1051.4 63.0h.8M1062.5 56.0h.8M1060.2 82.3h.8M1011.3 88.5h.8M1064.0 62.9h.8M970.7 57.2h.8M1060.5 80.9h.8M1062.2 96.0h.8M1042.8 87.2h.8M1005.7 62.5h.8M1038.9 57.0h.8M981.1 96.2h.8M1042.4 63.9h.8M1055.6 77.8h.8M1048.4 75.7h.8M1061.3 84.9h.8M986.8 55.4h.8M1159.2 93.2h.8M1042.0 86.4h.8M929.9 81.1h.8M1044.7 91.5h.8M1137.7 58.5h.8M1049.4 55.5h.8M1032.5 95.7h.8M1048.7 66.1h.8M1051.1 72.7h.8M1060.1 54.5h.8M1001.0 67.9h.8M993.0 73.2h.8M978.1 69.3h.8M1016.1 73.5h.8M1002.2 80.8h.8M1046.8 97.3h.8M1060.7 84.4h.8M1046.9 57.1h.8M1016.5 84.6h.8M1035.8 60.8h.8M1013.4 55.8h.8M1111.1 79.8h.8M1010.4 57.8h.8M1057.8 81.2h.8M1104.0 76.6h.8M1024.3 54.9h.8M1080.7 61.0h.8M941.8 81.0h.8M1045.3 82.0h.8M1056.7 81.8h.8M1012.9 54.8h.8M1151.8 78.7h.8M1018.3 76.1h.8M992.7 94.3h.8M1040.6 58.6h.8M1036.5 66.7h.8M1021.7 86.3h.8M1052.1 58.7h.8M1024.4 84.2h.8M1064.8 80.6h.8M1068.4 67.0h.8M922.4 77.6h.8M1045.9 81.2h.8M1049.6 59.4h.8M1054.1 80.7h.8M1021.4 80.2h.8M1026.1 72.2h.8M1014.9 75.7h.8M1053.6 54.8h.8M1069.7 77.1h.8M1050.4 93.9h.8M1032.6 55.7h.8M1034.7 93.7h.8M1018.8 75.7h.8M949.3 71.3h.8M1061.3 77.4h.8M1056.5 92.5h.8M1060.1 87.2h.8M1031.1 62.3h.8M996.8 66.3h.8M928.5 61.5h.8M1060.1 54.7h.8M1044.3 71.8h.8M1024.7 78.6h.8M1032.3 85.9h.8M1040.0 67.1h.8M1031.9 61.0h.8M1135.5 83.9h.8M1037.7 91.2h.8M1022.6 55.9h.8M1020.2 71.7h.8M1134.3 61.0h.8M1055.9 82.0h.8M1040.3 60.3h.8M1108.2 83.8h.8M1023.2 76.4h.8M959.9 72.0h.8M1050.0 93.4h.8M1035.9 72.3h.8M1068.2 67.6h.8M1034.3 65.1h.8M1045.2 65.3h.8M1029.7 69.2h.8M1048.0 68.1h.8M1139.6 62.3h.8M1061.1 92.7h.8M981.8 77.7h.8M1048.5 91.1h.8M1064.1 54.1h.8M1095.7 97.5h.8M1085.8 91.2h.8M1053.6 78.5h.8M1059.7 84.9h.8M1168.7 62.5h.8M1007.9 93.8h.8M1034.5 82.5h.8M1063.0 92.5h.8M1029.6 70.4h.8M1135.1 83.4h.8M1009.2 60.8h.8M1111.2 88.2h.8M1109.1 55.4h.8M1038.9 80.8h.8M1018.4 80.9h.8M1064.3 57.4h.8M1061.6 57.9h.8M1034.2 57.5h.8M995.0 59.3h.8M972.1 93.4h.8M1091.0 55.5h.8M1041.1 89.0h.8M1037.3 80.3h.8M1022.6 92.7h.8M1111.8 85.7h.8M1038.9 77.8h.8M1015.6 58.6h.8M1038.5 75.9h.8M1161.5 72.6h.8M1039.0 78.0h.8M1031.9 58.1h.8M1100.9 57.6h.8M1053.2 58.6h.8M1052.0 67.8h.8M1036.8 58.7h.8M1030.7 57.4h.8M1144.4 60.2h.8M1048.1 65.5h.8M1006.2 72.6h.8M1048.9 60.7h.8M1137.5 78.7h.8M1049.8 88.4h.8" stroke="#a8382a" stroke-opacity="0.4" stroke-width=".8" fill="none"/>
<path d="M1305.9 64.2h.8M1292.7 62.7h.8M1402.0 66.0h.8M1272.1 69.7h.8M1317.1 64.6h.8M1326.0 82.1h.8M1417.5 79.5h.8M1305.6 87.3h.8M1287.9 90.6h.8M1332.5 59.2h.8M1344.1 71.3h.8M1300.1 60.4h.8M1278.5 78.3h.8M1312.1 73.7h.8M1285.2 63.9h.8M1263.7 68.7h.8M1282.4 80.7h.8M1184.5 66.7h.8M1404.1 67.7h.8M1291.6 85.5h.8M1325.7 56.1h.8M1301.9 63.0h.8M1235.4 97.7h.8M1317.7 74.1h.8M1281.9 66.2h.8M1268.3 93.1h.8M1335.7 74.6h.8M1277.9 83.3h.8M1300.9 83.2h.8M1305.5 87.5h.8M1264.4 82.3h.8M1401.8 83.5h.8M1305.9 79.8h.8M1303.6 67.0h.8M1178.3 80.4h.8M1293.8 66.9h.8M1242.8 90.9h.8M1182.5 57.1h.8M1382.1 95.6h.8M1222.2 54.5h.8M1304.4 69.7h.8M1309.3 57.0h.8M1312.1 59.6h.8M1182.5 76.9h.8M1302.7 55.1h.8M1359.4 82.3h.8M1297.5 73.2h.8M1299.7 88.3h.8M1281.1 54.2h.8M1204.8 56.3h.8M1326.2 75.0h.8M1312.6 85.2h.8M1299.9 83.4h.8M1348.0 83.3h.8M1229.6 71.4h.8M1309.3 88.2h.8M1373.3 77.2h.8M1305.6 67.6h.8M1292.2 69.2h.8M1285.1 54.0h.8M1348.4 60.7h.8M1274.0 64.9h.8M1229.6 80.3h.8M1305.4 54.8h.8M1250.1 67.6h.8M1308.5 63.4h.8M1331.1 77.7h.8M1288.4 91.6h.8M1305.4 54.0h.8M1284.2 89.3h.8M1283.4 69.1h.8M1316.6 54.4h.8M1314.2 97.3h.8M1258.3 70.8h.8M1310.1 58.7h.8M1299.5 76.6h.8M1262.1 80.7h.8M1295.1 70.8h.8M1295.3 90.4h.8M1307.7 96.2h.8M1306.3 83.0h.8M1263.2 91.6h.8M1280.5 97.7h.8M1305.9 89.4h.8M1395.9 87.4h.8M1378.0 78.6h.8M1371.4 76.3h.8M1324.9 92.4h.8M1335.2 64.3h.8M1226.9 83.4h.8M1249.4 62.8h.8M1308.8 72.0h.8M1282.0 63.4h.8M1338.5 81.3h.8M1310.7 96.8h.8M1291.9 56.4h.8M1347.7 68.5h.8M1287.3 77.6h.8M1307.4 73.3h.8M1196.3 69.5h.8M1308.3 84.5h.8M1281.7 70.6h.8M1273.9 87.6h.8M1235.4 61.1h.8M1309.3 64.5h.8M1275.8 87.6h.8M1306.5 93.0h.8M1297.4 57.4h.8M1255.8 76.2h.8M1294.2 69.6h.8M1251.7 78.8h.8M1308.5 79.7h.8M1287.4 94.3h.8M1257.0 58.9h.8M1285.6 83.3h.8M1315.2 74.7h.8M1305.1 73.6h.8M1369.3 55.6h.8M1309.6 58.3h.8M1310.9 92.9h.8M1305.8 80.5h.8M1314.7 61.6h.8M1415.6 74.4h.8M1308.7 68.1h.8M1286.4 55.2h.8M1289.0 66.9h.8M1208.3 66.0h.8M1279.3 73.3h.8M1258.4 74.9h.8M1388.7 63.4h.8M1287.4 57.8h.8M1285.4 66.4h.8M1282.1 82.5h.8M1172.2 67.6h.8M1323.4 89.8h.8M1277.3 98.1h.8M1300.9 87.5h.8M1333.2 79.4h.8M1297.6 79.8h.8M1349.8 62.6h.8M1232.2 80.2h.8M1281.1 62.6h.8M1315.0 72.1h.8M1261.5 76.9h.8M1308.6 55.1h.8M1345.9 96.6h.8M1286.9 65.1h.8M1219.3 58.0h.8M1291.9 57.3h.8M1307.3 86.5h.8M1279.5 54.0h.8M1295.2 54.9h.8M1290.6 56.6h.8M1278.9 81.9h.8M1304.3 70.5h.8M1296.8 72.1h.8M1313.9 85.6h.8M1249.5 84.9h.8M1285.9 79.8h.8M1309.9 58.6h.8M1365.2 94.8h.8M1316.5 83.9h.8M1346.3 74.5h.8M1284.6 62.0h.8M1382.7 57.5h.8M1307.8 74.9h.8M1303.6 68.8h.8M1231.6 95.1h.8M1294.7 67.2h.8M1257.9 69.6h.8M1225.7 88.0h.8M1319.4 53.9h.8M1299.8 56.3h.8M1304.3 66.8h.8M1297.7 82.7h.8M1294.8 76.3h.8M1315.3 67.0h.8M1302.9 59.9h.8M1375.9 63.6h.8M1290.3 65.5h.8M1338.3 67.6h.8M1310.9 71.0h.8M1294.0 91.2h.8M1293.3 75.3h.8M1339.5 57.9h.8M1278.0 64.6h.8M1359.8 56.0h.8M1278.0 73.2h.8M1329.1 79.9h.8M1357.1 83.8h.8M1311.7 71.9h.8M1344.5 74.8h.8M1364.7 71.4h.8M1283.6 77.6h.8M1268.8 66.1h.8M1305.2 84.5h.8M1302.9 70.8h.8M1221.4 81.4h.8M1292.7 59.7h.8M1283.4 86.1h.8M1404.8 96.9h.8M1285.7 61.9h.8M1309.7 63.7h.8M1301.0 95.4h.8M1307.9 54.5h.8M1193.4 70.2h.8M1357.5 79.5h.8M1297.8 92.8h.8M1184.0 65.2h.8M1312.7 65.7h.8M1256.1 88.1h.8M1290.7 75.9h.8M1263.1 84.1h.8M1282.1 96.8h.8M1301.4 58.7h.8M1310.8 80.2h.8M1271.1 82.9h.8M1282.8 74.1h.8M1358.9 81.1h.8M1302.3 65.9h.8M1336.9 73.9h.8M1385.8 91.5h.8M1403.6 84.9h.8M1289.9 94.4h.8M1300.9 68.4h.8M1267.5 63.5h.8M1300.5 89.3h.8M1290.5 67.0h.8M1322.2 82.4h.8M1289.6 82.2h.8M1318.6 59.6h.8M1283.7 68.7h.8M1297.1 61.0h.8M1290.3 69.6h.8M1332.9 85.5h.8M1331.1 66.6h.8M1297.4 75.5h.8M1298.7 77.4h.8M1292.2 83.9h.8M1268.2 74.7h.8M1298.3 66.9h.8M1282.7 92.1h.8M1360.7 60.4h.8M1376.7 63.0h.8M1312.6 55.6h.8M1280.6 56.1h.8M1299.6 96.6h.8M1299.3 93.8h.8M1299.6 54.6h.8M1277.5 65.1h.8M1284.4 71.3h.8M1303.3 77.7h.8M1407.2 92.4h.8M1293.9 73.8h.8M1290.0 75.2h.8M1284.4 66.5h.8M1357.1 87.3h.8M1292.2 76.6h.8M1287.4 55.3h.8M1358.9 61.7h.8M1178.3 81.1h.8M1175.9 72.8h.8M1315.3 97.4h.8M1213.8 63.2h.8M1284.7 71.9h.8M1269.1 80.4h.8M1296.9 72.4h.8M1291.8 83.9h.8M1321.4 66.8h.8M1306.2 77.0h.8M1287.4 58.8h.8M1341.9 84.4h.8M1406.4 66.6h.8M1280.5 56.4h.8M1281.3 73.6h.8M1309.8 53.9h.8M1290.2 63.5h.8M1301.8 56.3h.8M1302.2 58.1h.8M1288.3 90.0h.8M1308.3 69.8h.8M1290.8 67.9h.8M1271.3 54.9h.8M1305.0 68.4h.8M1273.0 60.8h.8M1393.6 92.2h.8M1304.8 55.8h.8M1391.0 78.7h.8M1309.6 67.8h.8M1311.7 88.7h.8M1296.2 97.7h.8M1290.5 76.4h.8M1190.5 76.6h.8M1321.5 96.7h.8M1296.1 72.0h.8M1324.4 92.9h.8M1330.4 58.5h.8M1337.1 81.4h.8M1287.5 85.6h.8M1277.5 67.9h.8M1315.8 54.2h.8M1293.3 75.5h.8M1285.1 60.3h.8M1276.2 75.1h.8M1323.7 64.1h.8M1251.5 54.1h.8M1307.2 88.1h.8M1291.1 67.7h.8M1295.9 70.3h.8M1290.1 73.7h.8M1350.1 90.6h.8M1306.8 76.6h.8M1262.4 73.1h.8M1266.8 61.4h.8M1299.1 82.6h.8M1340.6 79.1h.8M1309.4 77.9h.8M1295.3 77.7h.8M1305.2 87.9h.8M1302.0 62.7h.8M1210.5 89.2h.8M1283.4 89.1h.8M1392.6 55.7h.8M1284.8 88.3h.8M1307.5 67.9h.8M1210.6 91.0h.8M1307.1 59.3h.8M1332.3 81.4h.8M1316.3 68.8h.8M1299.1 92.4h.8M1301.0 64.4h.8M1306.0 71.6h.8M1331.2 82.4h.8M1281.4 74.0h.8M1282.1 96.9h.8M1338.5 73.1h.8M1282.1 85.9h.8M1379.4 70.6h.8M1301.4 86.6h.8M1288.1 74.5h.8M1287.5 59.4h.8M1277.3 77.3h.8M1299.7 60.7h.8M1312.1 67.7h.8M1403.5 70.7h.8M1357.4 54.1h.8M1294.6 60.3h.8M1350.0 68.7h.8M1269.8 87.8h.8M1349.6 78.8h.8M1223.9 56.8h.8M1273.4 82.5h.8M1270.6 93.9h.8M1304.2 76.8h.8M1299.1 64.9h.8M1326.4 73.2h.8M1330.5 79.9h.8M1262.7 63.0h.8M1284.3 70.5h.8M1290.5 70.2h.8M1283.6 59.1h.8M1320.3 63.3h.8M1299.7 74.2h.8M1271.0 70.8h.8M1315.9 93.6h.8M1315.0 58.7h.8M1185.8 58.3h.8M1361.0 96.0h.8M1372.1 87.7h.8M1404.3 68.2h.8M1268.7 74.8h.8M1305.3 92.0h.8M1332.2 73.6h.8M1269.8 66.1h.8M1230.1 90.4h.8M1274.4 69.7h.8M1310.2 66.6h.8M1291.4 56.7h.8M1322.6 83.4h.8M1303.5 83.6h.8M1294.5 67.4h.8M1356.5 78.3h.8M1358.0 68.3h.8M1307.4 61.7h.8M1295.7 72.6h.8M1303.3 70.6h.8M1269.1 83.9h.8M1296.7 65.3h.8M1290.1 93.8h.8M1292.5 56.6h.8M1362.7 73.4h.8M1264.8 81.6h.8M1291.8 96.0h.8M1294.8 73.9h.8M1172.5 76.2h.8M1329.7 75.7h.8M1295.0 55.7h.8M1363.8 54.3h.8M1333.8 91.5h.8M1348.6 74.5h.8M1309.3 63.6h.8M1370.1 54.0h.8M1343.4 87.8h.8M1354.2 87.6h.8M1302.8 77.1h.8M1293.2 74.5h.8M1187.1 76.2h.8M1360.1 56.2h.8M1374.2 66.3h.8M1302.9 63.7h.8M1212.6 95.8h.8M1264.2 56.4h.8M1170.1 72.8h.8M1255.5 86.2h.8M1279.9 80.5h.8M1357.6 84.9h.8M1324.4 89.5h.8M1296.1 79.1h.8M1304.3 84.0h.8M1221.8 60.7h.8M1301.3 89.9h.8M1197.2 70.5h.8M1292.7 55.5h.8M1326.0 91.4h.8M1272.4 60.7h.8M1255.8 83.1h.8M1304.2 64.4h.8M1312.0 89.2h.8M1306.5 64.5h.8M1311.4 84.7h.8M1282.9 74.2h.8M1294.2 70.1h.8M1289.9 85.2h.8M1259.1 65.3h.8M1364.1 70.0h.8M1359.2 89.4h.8M1307.0 76.3h.8M1297.4 63.9h.8M1233.7 92.6h.8M1297.6 97.1h.8M1221.9 80.7h.8M1295.7 68.6h.8M1274.2 61.2h.8M1311.2 56.1h.8M1343.0 55.7h.8M1305.3 78.7h.8M1349.6 72.2h.8M1310.7 75.8h.8M1197.6 76.4h.8M1296.5 71.8h.8M1260.4 65.0h.8M1261.1 94.7h.8M1174.2 62.7h.8M1293.2 54.7h.8M1292.5 87.2h.8M1277.5 66.0h.8M1312.5 57.6h.8M1331.4 87.4h.8M1292.1 76.0h.8M1312.4 62.1h.8M1324.6 57.3h.8M1225.6 69.2h.8M1280.3 94.4h.8M1288.9 82.5h.8M1208.5 71.3h.8M1318.9 66.4h.8M1302.8 65.8h.8M1266.6 77.6h.8M1279.6 95.3h.8M1327.6 95.5h.8M1300.7 71.9h.8M1370.1 75.4h.8M1297.6 55.6h.8M1301.1 80.2h.8M1312.1 94.7h.8M1275.5 58.0h.8M1328.3 72.1h.8M1281.1 91.9h.8M1260.8 60.4h.8M1367.4 62.1h.8M1309.6 77.3h.8M1284.3 81.1h.8M1300.8 62.3h.8M1288.9 60.4h.8M1316.5 73.5h.8M1274.5 77.5h.8M1340.8 73.3h.8M1310.7 62.8h.8M1338.6 84.9h.8M1399.0 74.3h.8M1309.2 88.0h.8M1292.9 62.1h.8M1284.7 65.0h.8M1394.0 68.7h.8M1203.1 94.6h.8M1318.9 55.9h.8M1198.9 78.9h.8M1262.2 73.6h.8M1289.5 68.0h.8M1319.7 55.2h.8M1266.0 77.0h.8M1386.8 58.0h.8M1257.6 89.3h.8M1201.0 61.1h.8M1299.7 64.9h.8M1181.9 96.2h.8M1328.6 68.2h.8M1279.2 75.2h.8M1312.1 69.9h.8M1288.6 54.1h.8M1304.0 77.2h.8M1413.7 60.5h.8M1307.6 83.1h.8M1269.7 94.3h.8M1312.2 54.9h.8M1282.7 78.2h.8M1295.5 64.3h.8M1292.3 65.5h.8M1330.8 67.0h.8M1241.9 89.0h.8M1298.4 89.2h.8M1279.6 63.2h.8M1222.7 94.4h.8M1296.5 67.6h.8M1404.2 54.5h.8M1398.0 75.9h.8M1302.9 61.0h.8M1179.5 70.9h.8M1272.6 96.2h.8M1276.8 55.4h.8M1396.2 92.4h.8M1192.7 56.3h.8M1250.8 78.5h.8M1304.6 79.3h.8M1180.4 87.5h.8M1322.3 65.5h.8M1334.2 61.0h.8M1285.6 85.4h.8M1409.1 66.9h.8M1330.3 69.1h.8M1201.3 84.6h.8M1296.7 62.6h.8M1303.9 55.5h.8M1354.9 64.8h.8M1305.6 89.4h.8M1269.0 67.0h.8M1417.7 76.5h.8M1271.2 74.0h.8M1282.7 80.7h.8M1293.3 55.6h.8M1283.8 62.4h.8M1310.7 91.2h.8M1293.3 83.6h.8M1307.2 65.8h.8M1313.9 57.3h.8M1289.7 61.1h.8M1249.4 63.8h.8M1204.8 62.1h.8M1312.3 93.3h.8M1328.9 65.7h.8M1355.1 76.0h.8M1337.1 71.9h.8M1414.0 95.4h.8M1332.9 74.8h.8M1292.5 81.5h.8M1218.4 67.4h.8M1338.3 79.3h.8M1185.6 66.9h.8M1282.8 79.9h.8M1343.4 55.4h.8M1293.0 90.5h.8M1287.1 62.8h.8M1297.1 60.9h.8M1256.7 70.1h.8M1276.4 68.4h.8M1346.9 58.8h.8M1264.9 64.5h.8M1359.3 86.6h.8M1279.0 83.6h.8M1279.7 67.8h.8M1187.0 94.8h.8M1344.2 67.8h.8M1255.2 77.5h.8M1319.0 54.0h.8M1192.2 58.5h.8M1313.4 83.3h.8M1289.7 81.7h.8M1296.8 80.9h.8M1270.8 86.9h.8M1261.7 79.2h.8M1356.6 67.1h.8M1288.0 82.8h.8M1322.1 89.8h.8M1365.8 81.0h.8M1273.2 69.3h.8M1309.4 81.2h.8M1179.2 74.8h.8M1318.3 63.6h.8M1298.6 82.3h.8M1313.4 73.3h.8M1336.8 84.6h.8M1347.1 62.4h.8M1283.0 75.7h.8M1329.1 78.5h.8M1306.2 80.1h.8M1321.6 72.6h.8M1350.8 54.9h.8M1310.6 78.6h.8M1337.1 75.5h.8M1248.9 59.9h.8M1273.6 54.1h.8M1207.4 86.5h.8M1396.6 73.2h.8M1300.7 91.6h.8M1263.5 74.1h.8M1285.4 90.1h.8M1195.1 88.9h.8M1399.2 59.6h.8M1354.7 82.3h.8M1414.6 60.0h.8M1187.5 71.1h.8M1341.2 71.1h.8M1246.6 86.3h.8M1392.2 82.3h.8M1306.6 74.6h.8M1301.5 95.3h.8M1258.8 69.2h.8M1340.0 56.0h.8M1286.9 81.9h.8M1261.0 76.0h.8M1271.6 83.7h.8M1376.2 58.5h.8M1277.6 81.6h.8M1328.8 58.4h.8M1308.6 70.4h.8M1309.6 84.2h.8M1328.9 93.7h.8M1369.8 65.3h.8M1295.8 69.1h.8M1326.6 61.0h.8M1307.3 83.6h.8M1303.1 72.4h.8M1174.5 63.8h.8M1293.2 94.2h.8M1410.3 61.8h.8M1416.3 91.2h.8M1294.2 91.6h.8M1314.1 79.8h.8M1324.4 85.6h.8M1339.1 71.3h.8M1279.2 67.2h.8M1312.9 89.0h.8M1265.4 78.9h.8M1323.9 92.9h.8M1312.3 62.9h.8M1270.5 62.9h.8M1296.6 79.5h.8M1283.6 63.7h.8M1326.9 97.2h.8M1305.0 70.3h.8M1212.5 97.3h.8M1368.1 95.5h.8M1277.4 58.2h.8M1292.9 59.4h.8M1382.1 76.5h.8M1240.2 88.4h.8M1313.1 88.0h.8M1198.1 81.8h.8M1338.2 97.2h.8M1301.1 66.7h.8M1278.9 81.8h.8M1326.5 65.1h.8M1330.7 65.1h.8M1305.5 82.6h.8M1308.4 58.2h.8M1322.7 59.2h.8M1334.9 69.0h.8M1415.8 96.6h.8M1288.0 90.6h.8M1298.3 76.5h.8M1287.8 80.6h.8M1318.0 68.8h.8M1171.0 93.7h.8M1312.0 73.9h.8M1307.0 92.1h.8M1303.5 72.4h.8M1286.1 96.4h.8M1282.0 74.8h.8M1316.6 92.5h.8M1310.5 59.6h.8M1267.0 57.3h.8M1246.1 83.7h.8M1309.1 55.7h.8M1394.4 68.6h.8M1307.8 93.3h.8M1269.8 62.0h.8M1301.8 90.5h.8M1291.3 81.8h.8M1237.8 73.1h.8M1406.2 62.7h.8M1296.7 72.8h.8M1389.2 91.4h.8M1245.8 80.9h.8M1231.8 70.3h.8M1310.5 80.6h.8M1298.8 54.2h.8M1277.3 65.4h.8M1306.2 89.8h.8M1281.1 88.6h.8M1284.1 61.2h.8M1256.2 57.4h.8M1265.3 75.7h.8M1294.9 81.8h.8M1299.4 82.9h.8M1314.4 75.5h.8M1272.6 78.4h.8M1289.1 74.8h.8M1287.6 58.2h.8M1271.4 64.0h.8M1312.2 74.8h.8M1182.0 94.1h.8M1277.8 56.3h.8M1265.2 84.8h.8M1264.6 84.8h.8M1234.7 81.6h.8M1289.0 56.5h.8M1237.7 80.8h.8M1270.6 89.4h.8M1317.3 97.9h.8M1293.2 54.3h.8M1294.6 72.4h.8M1402.7 80.1h.8M1187.2 65.9h.8M1337.1 80.3h.8M1304.4 91.2h.8M1308.3 72.3h.8M1300.2 61.8h.8M1289.5 73.6h.8M1200.0 61.8h.8M1319.4 84.8h.8M1319.9 56.9h.8M1382.5 60.6h.8M1355.2 61.6h.8M1302.5 63.6h.8M1330.4 57.7h.8M1329.4 93.1h.8M1338.2 56.5h.8M1309.9 75.1h.8M1301.0 57.4h.8M1286.8 83.6h.8M1287.7 60.5h.8M1274.7 86.7h.8M1307.6 67.8h.8M1320.6 70.1h.8M1291.5 78.0h.8M1249.8 89.7h.8M1361.3 55.1h.8M1302.0 87.0h.8M1311.4 73.7h.8M1182.2 78.0h.8M1296.3 63.4h.8M1284.4 59.3h.8M1299.3 92.5h.8M1304.4 83.4h.8M1289.9 87.6h.8M1278.7 92.5h.8M1350.7 62.0h.8M1331.9 63.1h.8M1347.8 77.6h.8M1297.2 75.9h.8M1274.8 96.3h.8M1301.3 85.9h.8M1291.7 79.0h.8M1254.0 88.2h.8M1394.1 80.1h.8M1322.5 61.6h.8M1405.6 82.4h.8M1289.1 57.9h.8M1209.7 87.5h.8M1309.2 61.9h.8M1298.1 54.5h.8M1310.3 58.7h.8M1303.2 73.6h.8M1259.0 67.3h.8M1273.9 62.3h.8M1405.8 76.4h.8M1290.8 82.1h.8M1355.5 71.2h.8M1317.4 68.7h.8M1301.7 56.8h.8M1348.4 68.1h.8M1333.0 55.2h.8M1274.9 62.5h.8M1332.2 74.1h.8M1283.9 92.5h.8M1272.5 67.8h.8M1390.4 55.2h.8M1282.8 77.2h.8M1257.7 94.5h.8M1237.6 70.6h.8M1296.4 59.5h.8M1281.2 83.8h.8M1287.0 68.7h.8M1305.3 89.0h.8M1294.4 83.2h.8M1291.1 66.0h.8M1383.4 58.4h.8M1277.0 80.7h.8M1300.3 71.6h.8M1303.2 79.6h.8M1263.8 62.9h.8M1309.8 79.2h.8M1279.0 91.5h.8M1337.8 72.1h.8M1298.9 64.3h.8M1294.6 96.6h.8M1342.3 58.6h.8M1360.7 78.0h.8M1329.5 77.3h.8M1212.2 75.2h.8M1258.5 67.1h.8M1291.5 86.3h.8M1205.7 95.6h.8M1304.4 64.5h.8M1293.3 63.6h.8M1321.9 58.4h.8M1234.1 75.9h.8M1244.2 63.4h.8M1290.1 76.5h.8M1402.2 58.7h.8M1311.0 74.1h.8M1298.5 95.9h.8M1357.9 97.7h.8M1277.5 85.7h.8M1367.6 64.4h.8M1303.5 53.9h.8M1317.5 63.6h.8M1311.5 64.4h.8M1308.1 79.6h.8M1294.9 70.7h.8M1279.5 63.9h.8M1360.3 91.8h.8M1387.6 78.8h.8M1256.7 76.0h.8M1288.7 64.5h.8M1291.8 72.2h.8M1309.9 58.8h.8M1388.0 90.6h.8M1266.9 60.5h.8M1290.6 57.2h.8M1260.8 67.1h.8M1272.1 85.7h.8M1317.7 56.1h.8M1281.3 91.0h.8M1304.6 72.1h.8M1370.5 60.9h.8M1301.2 80.5h.8M1222.6 75.6h.8M1262.5 68.8h.8M1298.6 68.5h.8M1382.7 63.9h.8M1353.6 66.8h.8M1291.0 63.8h.8M1311.2 87.8h.8M1289.3 66.0h.8M1298.6 54.1h.8M1286.1 62.3h.8M1409.1 80.3h.8M1311.7 65.8h.8M1303.0 95.2h.8M1218.3 61.2h.8M1305.8 84.5h.8M1294.2 93.4h.8M1288.4 89.8h.8M1256.3 77.8h.8M1368.2 78.2h.8M1281.1 96.0h.8M1344.8 95.6h.8M1285.7 83.4h.8M1353.5 66.3h.8M1277.7 71.6h.8M1199.3 60.8h.8M1289.3 60.7h.8M1399.0 56.1h.8M1299.7 73.1h.8M1394.2 72.7h.8M1380.8 54.2h.8M1358.5 76.8h.8M1306.1 83.9h.8M1413.0 63.3h.8M1298.0 62.3h.8M1289.4 59.5h.8M1245.0 55.4h.8M1291.5 73.0h.8M1279.9 97.0h.8M1290.0 92.8h.8M1280.0 69.2h.8M1270.7 68.8h.8M1294.4 56.4h.8M1257.1 60.0h.8M1310.2 64.2h.8M1310.3 65.7h.8M1181.8 62.8h.8M1303.4 94.3h.8M1270.5 85.6h.8M1293.4 60.0h.8M1218.4 55.7h.8M1269.7 80.1h.8M1285.0 71.3h.8M1296.3 80.8h.8M1342.5 94.3h.8M1304.9 79.5h.8M1282.0 67.8h.8M1268.5 90.4h.8M1296.7 58.7h.8M1290.6 70.4h.8M1312.8 87.6h.8M1283.2 61.2h.8M1349.7 90.5h.8M1288.8 68.0h.8M1301.4 62.1h.8M1280.4 63.7h.8M1292.4 88.4h.8M1297.0 63.7h.8M1294.3 76.3h.8M1337.1 81.1h.8M1291.8 87.6h.8M1299.1 77.1h.8M1292.0 84.4h.8M1257.4 81.3h.8M1279.5 75.4h.8M1200.4 76.0h.8M1331.4 58.2h.8M1285.2 72.2h.8M1336.0 56.0h.8M1401.5 64.6h.8M1213.4 60.3h.8M1314.6 65.6h.8M1323.0 70.5h.8M1288.4 58.8h.8M1299.5 63.3h.8M1262.4 67.3h.8M1284.0 76.4h.8M1290.9 72.9h.8M1311.8 56.5h.8M1273.0 76.0h.8M1308.5 91.2h.8M1312.5 58.0h.8M1357.5 75.4h.8M1251.1 62.6h.8M1258.1 59.3h.8M1315.1 67.4h.8M1261.9 96.7h.8M1397.1 91.1h.8M1310.0 96.1h.8M1309.6 74.1h.8M1267.9 59.9h.8M1393.7 90.1h.8M1373.6 70.9h.8M1310.9 54.4h.8M1282.8 82.9h.8M1417.4 75.4h.8M1326.4 69.8h.8M1363.2 72.3h.8M1347.1 96.1h.8M1277.2 79.7h.8M1180.0 85.2h.8M1171.2 80.5h.8M1397.5 54.8h.8M1295.4 80.6h.8M1220.8 75.1h.8M1306.4 85.1h.8M1322.7 60.3h.8M1356.0 60.2h.8M1295.1 67.3h.8M1403.8 73.2h.8M1287.2 65.0h.8M1215.7 70.2h.8M1361.0 75.3h.8M1265.1 69.9h.8M1349.5 62.3h.8M1347.0 70.3h.8M1296.9 95.2h.8M1325.9 78.4h.8M1299.3 65.0h.8M1348.0 57.7h.8M1347.6 82.2h.8M1306.1 79.7h.8M1348.8 60.2h.8M1332.6 74.9h.8M1287.7 72.5h.8M1306.8 90.9h.8M1347.6 78.1h.8M1271.1 74.8h.8M1294.1 73.5h.8M1322.1 61.8h.8M1316.4 88.5h.8M1264.8 72.6h.8M1208.9 94.4h.8M1299.2 57.4h.8M1293.4 76.9h.8M1290.8 85.6h.8M1241.8 77.6h.8M1295.8 89.7h.8M1323.4 83.4h.8M1299.9 89.5h.8M1346.9 71.1h.8M1297.6 67.9h.8M1274.6 77.1h.8M1305.6 95.5h.8M1307.9 96.8h.8M1309.6 73.7h.8M1353.9 85.0h.8M1312.0 55.8h.8M1337.5 58.9h.8M1275.2 63.0h.8M1362.6 86.9h.8M1307.3 67.2h.8M1310.3 67.4h.8M1280.0 70.6h.8M1188.4 70.9h.8M1295.8 86.1h.8M1321.1 97.1h.8M1280.5 75.7h.8M1309.3 78.6h.8M1284.7 65.6h.8M1339.6 78.2h.8M1306.9 77.9h.8M1270.8 81.4h.8M1353.4 88.1h.8M1304.7 61.2h.8M1300.2 55.6h.8M1270.0 93.9h.8M1339.6 65.5h.8M1308.4 64.7h.8M1347.1 64.1h.8M1304.1 64.4h.8M1222.7 60.2h.8M1314.7 76.9h.8M1290.3 57.7h.8M1303.7 75.9h.8M1295.6 84.8h.8M1267.9 61.4h.8M1332.4 72.1h.8M1312.1 80.2h.8M1334.0 76.9h.8M1305.4 55.7h.8M1271.5 71.4h.8M1170.2 75.3h.8M1308.5 61.8h.8M1275.1 96.4h.8M1327.2 94.7h.8M1310.1 78.1h.8M1224.4 67.8h.8M1201.5 72.9h.8M1269.4 57.9h.8M1392.1 65.8h.8M1301.4 78.7h.8M1331.0 63.5h.8M1290.4 79.7h.8M1265.7 59.1h.8M1294.1 79.8h.8M1259.9 57.7h.8M1263.3 92.0h.8M1299.0 92.0h.8M1328.9 69.3h.8M1256.3 68.6h.8M1294.5 57.7h.8M1306.0 80.5h.8M1289.3 88.1h.8M1299.3 81.6h.8M1300.2 83.9h.8M1327.6 66.6h.8M1307.1 79.9h.8M1304.0 85.9h.8M1254.1 71.2h.8M1321.4 61.0h.8M1284.6 72.5h.8M1307.4 62.0h.8M1330.0 96.7h.8M1297.4 62.4h.8M1310.7 80.7h.8M1309.6 61.4h.8M1290.4 70.3h.8M1243.5 63.1h.8M1356.4 80.9h.8M1334.7 63.1h.8M1290.9 89.1h.8M1313.0 55.7h.8M1245.5 62.2h.8M1293.3 67.8h.8M1322.7 60.4h.8M1354.3 97.8h.8M1303.9 93.1h.8M1318.0 83.2h.8M1337.2 57.4h.8M1299.6 87.0h.8M1189.7 54.9h.8M1307.4 61.1h.8M1320.7 85.7h.8M1279.6 62.9h.8M1198.5 57.8h.8M1286.0 85.8h.8M1396.8 84.5h.8M1305.7 90.9h.8M1312.0 63.1h.8M1301.6 86.4h.8M1252.5 70.7h.8M1291.8 61.7h.8M1305.4 81.7h.8M1299.1 91.5h.8M1334.3 67.8h.8M1210.0 81.4h.8M1279.0 69.6h.8M1278.4 92.0h.8M1400.7 66.8h.8M1289.8 64.5h.8M1394.8 80.6h.8M1266.3 87.7h.8M1286.3 71.7h.8M1302.3 84.0h.8M1365.9 98.1h.8M1298.6 97.3h.8M1316.3 74.7h.8M1300.7 77.4h.8M1278.4 55.2h.8M1399.6 63.0h.8M1304.8 70.1h.8M1329.0 88.7h.8M1405.8 66.0h.8M1371.2 82.4h.8M1376.2 73.5h.8M1313.5 67.4h.8M1398.8 70.1h.8M1312.3 78.9h.8M1202.3 93.3h.8M1287.4 58.8h.8M1336.0 59.4h.8M1369.0 57.6h.8M1287.4 64.9h.8M1261.7 61.8h.8M1394.5 57.8h.8M1322.3 61.2h.8M1220.3 74.0h.8M1272.0 73.7h.8M1175.0 60.1h.8M1276.0 84.1h.8M1293.4 65.8h.8M1397.5 73.3h.8M1310.8 74.1h.8M1338.2 85.5h.8M1373.7 82.7h.8M1335.1 88.6h.8M1408.0 66.9h.8M1283.2 55.2h.8M1365.8 59.8h.8M1287.8 77.5h.8M1226.0 65.6h.8M1323.9 94.4h.8M1310.8 84.3h.8M1279.7 69.0h.8M1249.4 90.8h.8M1271.6 85.8h.8M1249.9 87.7h.8M1306.4 96.1h.8M1313.8 63.8h.8M1302.4 75.8h.8M1316.4 84.9h.8M1357.9 93.3h.8M1273.6 67.7h.8M1302.7 87.1h.8M1285.2 56.9h.8M1288.2 71.0h.8M1412.2 92.2h.8M1343.7 64.2h.8M1188.9 55.0h.8M1332.0 78.8h.8M1268.9 57.1h.8M1272.6 61.8h.8M1284.0 74.2h.8M1290.6 77.2h.8M1348.7 82.9h.8M1265.3 75.7h.8M1280.0 96.0h.8M1296.4 69.0h.8M1297.9 60.8h.8M1306.2 59.2h.8M1301.6 77.5h.8M1270.9 55.6h.8M1256.2 80.2h.8M1339.4 66.4h.8M1276.7 68.1h.8M1250.1 58.9h.8M1274.5 60.6h.8M1402.7 56.9h.8M1252.0 55.3h.8M1338.6 63.9h.8M1255.2 60.0h.8M1390.9 73.2h.8M1337.4 67.8h.8M1200.5 83.5h.8M1307.4 55.4h.8M1204.2 79.4h.8M1309.2 68.8h.8M1294.5 72.4h.8M1263.5 86.4h.8M1283.9 85.0h.8M1310.1 96.4h.8M1367.8 55.4h.8M1299.8 56.7h.8M1293.2 95.4h.8M1263.7 83.0h.8M1297.9 95.8h.8M1287.3 62.3h.8M1266.0 95.5h.8M1281.2 95.1h.8M1299.8 66.4h.8M1317.9 63.5h.8M1291.7 88.6h.8M1354.3 57.5h.8M1331.1 65.7h.8M1306.2 94.2h.8M1309.1 76.7h.8M1244.8 81.4h.8M1325.7 88.1h.8M1266.4 94.0h.8M1294.5 58.8h.8M1275.7 89.4h.8M1295.0 87.1h.8M1323.9 81.6h.8M1329.2 60.7h.8M1327.1 79.9h.8M1327.8 68.3h.8M1284.5 64.2h.8M1321.2 91.9h.8M1388.9 82.1h.8M1243.8 61.7h.8M1188.3 74.3h.8M1396.4 61.5h.8M1367.8 67.1h.8M1348.9 93.6h.8M1218.3 82.3h.8M1288.4 79.9h.8M1348.0 94.1h.8M1350.3 63.0h.8M1315.0 76.8h.8M1407.7 56.5h.8M1298.1 97.9h.8M1388.1 59.9h.8M1342.7 75.7h.8M1295.5 77.1h.8M1257.2 65.9h.8M1248.0 89.7h.8M1327.6 56.1h.8M1220.4 93.0h.8M1205.3 80.6h.8M1292.2 90.6h.8M1243.6 71.1h.8M1306.2 70.1h.8M1339.5 84.2h.8M1394.9 88.6h.8M1377.4 73.9h.8M1329.0 63.5h.8M1309.0 72.4h.8M1309.8 62.5h.8M1291.7 58.3h.8M1301.3 78.4h.8M1350.0 56.8h.8M1270.1 54.2h.8M1329.2 59.2h.8M1346.6 88.8h.8M1309.7 96.6h.8M1293.0 95.4h.8M1310.8 68.7h.8M1298.9 55.7h.8M1270.0 72.6h.8M1287.4 71.2h.8M1195.2 76.8h.8M1326.0 80.1h.8M1294.5 64.1h.8M1215.8 89.8h.8M1224.0 82.2h.8M1222.8 62.8h.8M1302.2 84.6h.8M1345.2 74.5h.8M1282.2 70.0h.8M1308.0 77.1h.8M1262.6 56.3h.8M1375.0 68.0h.8M1229.3 58.7h.8M1280.2 90.1h.8M1291.8 69.2h.8M1325.8 69.1h.8M1201.7 65.2h.8M1368.5 61.5h.8M1292.2 67.7h.8M1289.0 55.0h.8M1292.4 73.9h.8M1317.9 56.9h.8M1383.4 69.1h.8M1315.4 63.6h.8M1274.1 54.8h.8M1308.1 95.9h.8M1280.0 64.6h.8M1330.9 63.5h.8M1414.1 54.0h.8M1297.9 79.8h.8M1297.1 70.8h.8M1297.3 74.5h.8M1281.8 97.6h.8M1295.9 86.1h.8M1311.8 92.3h.8M1182.1 60.1h.8M1279.9 70.1h.8M1321.2 68.0h.8M1266.1 75.6h.8M1273.8 82.8h.8M1357.8 69.6h.8M1320.1 76.7h.8M1292.5 56.6h.8M1324.4 85.9h.8M1297.1 59.2h.8M1200.1 58.7h.8M1300.4 71.2h.8M1286.3 62.7h.8M1286.7 77.4h.8M1314.8 60.6h.8M1327.0 74.0h.8M1323.3 56.0h.8M1296.7 82.6h.8M1309.3 57.3h.8M1306.0 54.3h.8M1305.3 63.8h.8M1374.6 58.2h.8M1289.0 72.8h.8M1331.1 59.2h.8M1294.5 57.2h.8M1195.8 80.4h.8M1355.1 60.1h.8M1295.4 84.7h.8M1319.1 94.1h.8M1306.3 59.9h.8M1307.9 56.8h.8M1313.8 78.8h.8M1286.7 56.3h.8M1404.6 73.9h.8M1217.2 75.4h.8M1263.3 63.9h.8M1325.5 83.6h.8M1312.6 61.6h.8M1244.0 54.0h.8M1309.4 96.8h.8M1303.3 73.5h.8M1283.9 68.7h.8M1271.5 55.8h.8M1297.1 80.3h.8M1303.3 72.2h.8M1294.0 65.9h.8M1407.7 90.2h.8M1261.3 75.4h.8M1306.2 89.2h.8M1328.3 76.9h.8M1361.3 64.5h.8M1279.0 54.4h.8M1348.0 93.4h.8M1285.3 66.8h.8M1326.8 93.3h.8M1356.1 79.3h.8M1349.2 72.8h.8M1292.3 90.2h.8M1329.1 92.2h.8M1394.9 82.7h.8M1296.7 61.6h.8M1368.7 73.0h.8M1309.2 86.2h.8M1291.6 70.3h.8M1312.0 57.2h.8M1358.1 56.8h.8M1350.8 61.3h.8M1292.6 88.6h.8M1318.4 59.8h.8M1280.5 58.2h.8M1272.9 81.3h.8M1336.0 58.1h.8M1325.5 55.7h.8M1306.4 91.8h.8M1287.4 79.0h.8M1197.5 67.8h.8M1268.5 69.4h.8M1312.6 92.1h.8M1229.0 90.8h.8M1407.1 73.5h.8M1309.0 68.4h.8M1287.5 94.1h.8M1415.8 57.3h.8M1204.4 54.1h.8M1306.1 93.3h.8M1260.4 63.4h.8M1274.0 61.8h.8M1261.7 65.3h.8" stroke="#5560a8" stroke-opacity="0.36" stroke-width=".8" fill="none"/>
<path d="M1040.2 54.5h1.5M1023.0 55.8h1.5M995.2 54.5h1.5M1098.4 56.2h1.5M1042.8 54.5h1.5M1036.2 54.9h1.5M1033.3 54.8h1.5M1020.5 56.2h1.5M1059.9 54.9h1.5M1030.3 56.3h1.5M1044.6 55.0h1.5M1048.1 54.7h1.5M1033.4 56.2h1.5M1048.7 54.3h1.5M1085.8 55.7h1.5M1042.2 54.8h1.5M1029.2 55.1h1.5M1041.6 55.6h1.5M1053.6 55.4h1.5M1013.1 54.8h1.5M1050.9 54.4h1.5M1026.8 54.0h1.5M1074.2 54.5h1.5M1051.0 55.3h1.5M1053.7 55.4h1.5M1084.7 54.0h1.5M1011.1 54.5h1.5M1044.3 55.3h1.5M1046.4 54.9h1.5M1062.0 54.0h1.5M1049.2 56.1h1.5M1051.8 54.5h1.5M1037.0 54.9h1.5M947.2 54.6h1.5M1041.7 56.3h1.5M1053.1 55.5h1.5M974.4 55.7h1.5M1057.3 56.5h1.5M1052.5 56.4h1.5M1104.4 55.3h1.5M1040.3 56.2h1.5M1031.6 54.4h1.5M1033.7 54.5h1.5M1055.1 56.4h1.5M1054.0 54.6h1.5M1009.3 54.4h1.5M1070.4 56.0h1.5M1062.6 56.3h1.5M1044.1 54.9h1.5M1040.4 55.5h1.5M1056.2 54.8h1.5M1051.0 54.6h1.5M1051.3 54.7h1.5M1031.9 55.7h1.5M1073.1 55.8h1.5M1052.6 55.0h1.5M1012.3 55.3h1.5M1040.9 55.1h1.5M1024.1 55.7h1.5M1000.0 56.4h1.5M1048.9 55.6h1.5M1056.2 55.3h1.5M994.2 55.4h1.5M1027.9 56.0h1.5M1056.7 54.7h1.5M1048.1 55.9h1.5M1048.9 54.2h1.5M1008.1 54.7h1.5M984.8 54.3h1.5M1044.6 54.3h1.5M1051.5 54.8h1.5M1057.3 54.2h1.5M1032.7 54.7h1.5M1038.5 54.0h1.5M1035.4 54.5h1.5M1030.1 56.3h1.5M1048.2 55.0h1.5M1032.9 54.7h1.5M1039.8 54.8h1.5M1036.2 54.8h1.5M1061.7 54.4h1.5M1036.5 55.2h1.5M1054.7 56.4h1.5M1021.8 56.0h1.5M1009.7 55.3h1.5M1124.1 54.1h1.5M1056.6 55.5h1.5M1044.9 55.2h1.5M1056.2 56.0h1.5M1029.3 56.4h1.5M1052.4 55.8h1.5M1041.0 55.4h1.5M1057.7 55.7h1.5M1017.7 55.4h1.5M1002.9 55.4h1.5M1052.0 55.1h1.5M1039.7 55.3h1.5M1029.8 54.5h1.5M1028.5 54.6h1.5M1027.1 54.5h1.5M1009.8 56.1h1.5M1035.6 55.7h1.5M1036.3 56.2h1.5M1032.2 54.6h1.5M1052.4 54.4h1.5M1062.2 54.1h1.5M1040.1 54.4h1.5M1031.8 55.0h1.5M1033.8 54.6h1.5M1037.2 56.2h1.5M1043.6 54.9h1.5M1048.2 54.7h1.5M1055.3 55.5h1.5M1063.2 54.8h1.5M1021.4 54.2h1.5M1058.5 54.1h1.5M1035.2 55.7h1.5M1049.9 56.0h1.5M1052.3 56.4h1.5M1020.9 56.4h1.5M923.6 54.0h1.5M1048.9 54.8h1.5M1004.3 56.3h1.5M1027.5 56.2h1.5M1054.4 56.1h1.5M1048.8 55.5h1.5M1032.7 54.2h1.5M1023.9 56.4h1.5M1035.4 55.4h1.5M1054.6 56.0h1.5M1047.5 55.6h1.5M1035.8 56.3h1.5M1077.0 54.4h1.5M1050.3 56.0h1.5M1060.2 55.6h1.5M1036.3 55.5h1.5M1041.1 54.5h1.5M1044.0 54.9h1.5M1055.0 54.1h1.5M1040.8 54.4h1.5M1050.1 55.0h1.5M1032.5 55.3h1.5M1061.3 56.4h1.5M1037.6 55.5h1.5M1051.8 54.8h1.5M1067.5 56.4h1.5M1018.3 54.3h1.5M998.3 54.0h1.5M1034.4 55.7h1.5M1062.5 54.4h1.5M1035.3 56.4h1.5M1023.2 55.6h1.5M1028.4 54.4h1.5M1051.8 54.1h1.5M1062.6 54.1h1.5M1058.6 55.6h1.5M1059.9 56.2h1.5M1051.3 56.2h1.5M1048.7 54.8h1.5M923.0 56.4h1.5" stroke="#8e2418" stroke-opacity="0.8" stroke-width="1" fill="none"/>
<path d="M1295.5 54.1h1.5M1284.8 54.2h1.5M1291.5 56.4h1.5M1291.4 54.3h1.5M1312.3 56.1h1.5M1279.6 55.0h1.5M1212.9 56.0h1.5M1303.0 54.4h1.5M1215.6 55.7h1.5M1288.2 54.7h1.5M1292.1 55.8h1.5M1339.4 54.9h1.5M1319.6 56.1h1.5M1308.9 55.0h1.5M1309.0 54.1h1.5M1294.4 55.3h1.5M1288.3 55.2h1.5M1311.6 54.3h1.5M1277.7 54.8h1.5M1293.9 55.8h1.5M1302.3 54.7h1.5M1305.7 55.1h1.5M1299.7 54.8h1.5M1366.0 56.4h1.5M1394.3 55.4h1.5M1297.8 55.1h1.5M1256.6 54.9h1.5M1308.1 55.2h1.5M1300.2 54.1h1.5M1303.9 56.0h1.5M1285.9 55.8h1.5M1177.1 55.0h1.5M1294.4 55.8h1.5M1285.0 54.4h1.5M1313.1 54.6h1.5M1309.5 55.8h1.5M1195.0 54.9h1.5M1305.1 55.4h1.5M1283.8 55.1h1.5M1295.7 54.1h1.5M1284.4 55.9h1.5M1297.3 54.2h1.5M1310.4 56.2h1.5M1296.8 54.4h1.5M1272.9 54.5h1.5M1175.1 55.6h1.5M1309.4 54.7h1.5M1204.0 56.3h1.5M1291.2 54.2h1.5M1293.0 56.2h1.5M1273.1 54.5h1.5M1287.1 56.2h1.5M1282.0 55.3h1.5M1282.1 55.3h1.5M1311.1 54.7h1.5M1283.5 54.5h1.5M1286.8 54.4h1.5M1268.8 55.5h1.5M1208.1 55.4h1.5M1301.4 55.9h1.5M1334.9 54.3h1.5M1362.3 55.9h1.5M1301.0 55.4h1.5M1266.4 55.2h1.5M1303.7 55.5h1.5M1290.1 55.6h1.5M1335.4 54.5h1.5M1305.9 55.1h1.5M1297.4 55.6h1.5M1307.0 54.6h1.5M1307.4 55.1h1.5M1286.3 56.4h1.5M1285.9 56.3h1.5M1290.9 56.3h1.5M1190.0 54.2h1.5M1293.3 55.5h1.5M1282.2 54.8h1.5M1307.6 55.3h1.5M1355.3 56.3h1.5M1266.3 55.7h1.5M1285.0 54.5h1.5M1287.6 54.5h1.5M1343.2 55.1h1.5M1313.0 54.1h1.5M1308.4 56.0h1.5M1310.9 55.2h1.5M1276.5 56.1h1.5M1316.9 55.2h1.5M1309.7 55.3h1.5M1314.9 56.2h1.5M1341.2 54.5h1.5M1328.0 54.1h1.5M1306.0 55.0h1.5M1303.3 54.7h1.5M1286.6 55.0h1.5M1273.2 54.5h1.5M1271.7 54.9h1.5M1283.8 56.2h1.5M1287.6 55.8h1.5M1355.4 54.8h1.5M1271.4 55.7h1.5M1293.4 55.4h1.5M1282.9 54.5h1.5M1273.9 54.6h1.5M1308.1 54.5h1.5M1308.0 55.3h1.5M1285.5 54.3h1.5M1267.1 54.6h1.5M1290.5 54.9h1.5M1285.1 54.5h1.5M1329.3 55.5h1.5M1289.8 56.4h1.5M1337.0 54.8h1.5M1305.8 55.8h1.5M1274.0 54.9h1.5M1294.4 54.2h1.5M1278.1 56.1h1.5M1221.4 55.0h1.5M1310.4 55.7h1.5M1273.4 55.5h1.5" stroke="#3f4a9a" stroke-opacity="0.7" stroke-width="1" fill="none"/>
<rect x="920.7" y="52.8" width="498.1" height="1" fill="#8a8a8a"/>
<text x="966.3" y="40.3" font-size="22.6" font-weight="bold" textLength="152" lengthAdjust="spacingAndGlyphs">forward strand</text>
<text x="1219.4" y="40.3" font-size="22.6" font-weight="bold" textLength="146.4" lengthAdjust="spacingAndGlyphs">reverse strand</text>
<text x="1152.45" y="115.2" font-size="19.8" textLength="44.5" lengthAdjust="spacingAndGlyphs">-500</text>
<text x="1293.1" y="115.2" font-size="19.8" textLength="11.8" lengthAdjust="spacingAndGlyphs">0</text>
<text x="1408" y="115.2" font-size="19.8" textLength="37" lengthAdjust="spacingAndGlyphs">500</text>
<text transform="translate(920.6 49.6) rotate(-90)" x="-6.2" y="0" font-size="23.2" font-weight="bold" textLength="12.4" lengthAdjust="spacingAndGlyphs">0</text>
<text transform="translate(920.6 110.2) rotate(-90)" x="-19.3" y="0" font-size="23.2" font-weight="bold" textLength="38.6" lengthAdjust="spacingAndGlyphs">738</text>
<rect x="1462.5" y="71.9" width="254.1" height="3" fill="#000"/>
<rect x="1758.7" y="71.9" width="401.8" height="3" fill="#000"/>
<rect x="2181.5" y="71.9" width="281" height="3" fill="#000"/>
<rect x="1596.3" y="115.3" width="117.3" height="42.5" fill="#ecc2a8"/>
<rect x="1596.3" y="157.5" width="117.3" height="42.5" fill="#f5ded1"/>
<rect x="1596.3" y="199.7" width="117.3" height="42.5" fill="#faefe8"/>
<rect x="1596.3" y="241.9" width="117.3" height="42.5" fill="#fcf5f1"/>
<rect x="1596.3" y="284.1" width="117.3" height="42.5" fill="#fdf8f5"/>
<rect x="1596.3" y="326.3" width="117.3" height="42.5" fill="#fefaf8"/>
<rect x="1596.3" y="368.5" width="117.3" height="42.5" fill="#fefcfa"/>
<rect x="1596.3" y="410.7" width="117.3" height="42.5" fill="#fefcfa"/>
<rect x="1596.3" y="452.9" width="117.3" height="42.5" fill="#fefcfa"/>
<rect x="1596.3" y="495.1" width="117.3" height="42.5" fill="#fefcfa"/>
<rect x="1596.3" y="537.3" width="117.3" height="42.5" fill="#fefdfc"/>
<rect x="1596.3" y="579.5" width="117.3" height="42.5" fill="#fefdfc"/>
<rect x="2038.3" y="115.3" width="119.4" height="42.5" fill="#eec9b2"/>
<rect x="2038.3" y="157.5" width="119.4" height="42.5" fill="#f2d6c4"/>
<rect x="2038.3" y="199.7" width="119.4" height="42.5" fill="#f9ece3"/>
<rect x="2038.3" y="241.9" width="119.4" height="42.5" fill="#fbf2ec"/>
<rect x="2038.3" y="284.1" width="119.4" height="42.5" fill="#fbf3ee"/>
<rect x="2038.3" y="326.3" width="119.4" height="42.5" fill="#fcf5f1"/>
<rect x="2038.3" y="368.5" width="119.4" height="42.5" fill="#fdf9f7"/>
<rect x="2038.3" y="410.7" width="119.4" height="42.5" fill="#fdf9f7"/>
<rect x="2038.3" y="452.9" width="119.4" height="42.5" fill="#fefcfa"/>
<rect x="2038.3" y="495.1" width="119.4" height="42.5" fill="#fefcfa"/>
<rect x="2338.8" y="115.3" width="119.9" height="42.5" fill="#fbf3ee"/>
<rect x="2338.8" y="157.5" width="119.9" height="42.5" fill="#fdf9f7"/>
<rect x="2338.8" y="199.7" width="119.9" height="42.5" fill="#fefaf8"/>
<rect x="2338.8" y="241.9" width="119.9" height="42.5" fill="#fefcfa"/>
<rect x="2338.8" y="284.1" width="119.9" height="42.5" fill="#fefcfa"/>
<rect x="2338.8" y="326.3" width="119.9" height="42.5" fill="#fefcfa"/>
<rect x="2338.8" y="368.5" width="119.9" height="42.5" fill="#fefcfa"/>
<rect x="2338.8" y="410.7" width="119.9" height="42.5" fill="#fefdfc"/>
<rect x="2338.8" y="452.9" width="119.9" height="42.5" fill="#fefdfc"/>
<rect x="2338.8" y="495.1" width="119.9" height="42.5" fill="#fefdfc"/>
<rect x="2338.8" y="537.3" width="119.9" height="42.5" fill="#fefdfc"/>
<rect x="2338.8" y="579.5" width="119.9" height="42.5" fill="#fefdfc"/>
<rect x="2338.8" y="621.7" width="119.9" height="42.5" fill="#fefdfc"/>
<text x="1555.5" y="62.8" font-size="27.4" font-weight="bold" textLength="71" lengthAdjust="spacingAndGlyphs">peaks</text>
<text x="1497.9" y="104.6" font-size="27.4" font-weight="bold" textLength="63.4" lengthAdjust="spacingAndGlyphs">state</text>
<text x="1608.5" y="104.6" font-size="27.4" font-weight="bold" textLength="95.6" lengthAdjust="spacingAndGlyphs">fraction</text>
<text x="1494.6" y="148.1" font-size="27.4" font-weight="bold" textLength="71.8" lengthAdjust="spacingAndGlyphs">Quies</text>
<text x="1629.7" y="148.1" font-size="27.4" textLength="54.2" lengthAdjust="spacingAndGlyphs">0.38</text>
<text x="1503" y="190.3" font-size="27.4" font-weight="bold" textLength="55" lengthAdjust="spacingAndGlyphs">TssA</text>
<text x="1629.7" y="190.3" font-size="27.4" textLength="54.2" lengthAdjust="spacingAndGlyphs">0.22</text>
<text x="1486.05" y="232.5" font-size="27.4" font-weight="bold" textLength="88.9" lengthAdjust="spacingAndGlyphs">TssFlnk</text>
<text x="1629.7" y="232.5" font-size="27.4" textLength="54.2" lengthAdjust="spacingAndGlyphs">0.12</text>
<text x="1495" y="274.7" font-size="27.4" font-weight="bold" textLength="71" lengthAdjust="spacingAndGlyphs">TxWk</text>
<text x="1629.7" y="274.7" font-size="27.4" textLength="54.2" lengthAdjust="spacingAndGlyphs">0.08</text>
<text x="1493.15" y="316.9" font-size="27.4" font-weight="bold" textLength="74.7" lengthAdjust="spacingAndGlyphs">TssBiv</text>
<text x="1629.7" y="316.9" font-size="27.4" textLength="54.2" lengthAdjust="spacingAndGlyphs">0.06</text>
<text x="1486.35" y="359.1" font-size="27.4" font-weight="bold" textLength="88.3" lengthAdjust="spacingAndGlyphs">EnhWk</text>
<text x="1629.7" y="359.1" font-size="27.4" textLength="54.2" lengthAdjust="spacingAndGlyphs">0.04</text>
<text x="1484.45" y="401.3" font-size="27.4" font-weight="bold" textLength="92.1" lengthAdjust="spacingAndGlyphs">ReprPC</text>
<text x="1629.7" y="401.3" font-size="27.4" textLength="54.2" lengthAdjust="spacingAndGlyphs">0.03</text>
<text x="1490.7" y="443.5" font-size="27.4" font-weight="bold" textLength="79.6" lengthAdjust="spacingAndGlyphs">EnhA2</text>
<text x="1629.7" y="443.5" font-size="27.4" textLength="54.2" lengthAdjust="spacingAndGlyphs">0.03</text>
<text x="1463.9" y="485.7" font-size="27.4" font-weight="bold" textLength="133.2" lengthAdjust="spacingAndGlyphs">ReprPCWk</text>
<text x="1629.7" y="485.7" font-size="27.4" textLength="54.2" lengthAdjust="spacingAndGlyphs">0.03</text>
<text x="1517.2" y="527.9" font-size="27.4" font-weight="bold" textLength="26.6" lengthAdjust="spacingAndGlyphs">Tx</text>
<text x="1629.7" y="527.9" font-size="27.4" textLength="54.2" lengthAdjust="spacingAndGlyphs">0.03</text>
<text x="1476.65" y="570.1" font-size="27.4" font-weight="bold" textLength="107.7" lengthAdjust="spacingAndGlyphs">TssFlnkU</text>
<text x="1629.7" y="570.1" font-size="27.4" textLength="54.2" lengthAdjust="spacingAndGlyphs">0.02</text>
<text x="1508.05" y="612.3" font-size="27.4" font-weight="bold" textLength="44.9" lengthAdjust="spacingAndGlyphs">Het</text>
<text x="1629.7" y="612.3" font-size="27.4" textLength="54.2" lengthAdjust="spacingAndGlyphs">0.02</text>
<text x="1490.7" y="654.5" font-size="27.4" font-weight="bold" textLength="79.6" lengthAdjust="spacingAndGlyphs">EnhA1</text>
<text x="1629.7" y="654.5" font-size="27.4" textLength="54.2" lengthAdjust="spacingAndGlyphs">0.01</text>
<text x="1470.85" y="696.7" font-size="27.4" font-weight="bold" textLength="119.3" lengthAdjust="spacingAndGlyphs">ZNF/Rpts</text>
<text x="1629.7" y="696.7" font-size="27.4" textLength="54.2" lengthAdjust="spacingAndGlyphs">0.01</text>
<text x="1488.65" y="738.9" font-size="27.4" font-weight="bold" textLength="83.7" lengthAdjust="spacingAndGlyphs">EnhBiv</text>
<text x="1629.7" y="738.9" font-size="27.4" textLength="54.2" lengthAdjust="spacingAndGlyphs">0.01</text>
<text x="1476.65" y="781.1" font-size="27.4" font-weight="bold" textLength="107.7" lengthAdjust="spacingAndGlyphs">TssFlnkD</text>
<text x="1629.7" y="781.1" font-size="27.4" textLength="54.2" lengthAdjust="spacingAndGlyphs">0.01</text>
<text x="1490.7" y="823.3" font-size="27.4" font-weight="bold" textLength="79.6" lengthAdjust="spacingAndGlyphs">EnhG1</text>
<text x="1629.7" y="823.3" font-size="27.4" textLength="54.2" lengthAdjust="spacingAndGlyphs">0.00</text>
<text x="1924" y="62.8" font-size="27.4" font-weight="bold" textLength="71" lengthAdjust="spacingAndGlyphs">peaks</text>
<text x="1857.6" y="104.6" font-size="27.4" font-weight="bold" textLength="85.4" lengthAdjust="spacingAndGlyphs">repeat</text>
<text x="2050.6" y="104.6" font-size="27.4" font-weight="bold" textLength="95.6" lengthAdjust="spacingAndGlyphs">fraction</text>
<text x="1806.1" y="148.1" font-size="27.4" font-weight="bold" textLength="186.8" lengthAdjust="spacingAndGlyphs">Simple_repeat</text>
<text x="2071.2" y="148.1" font-size="27.4" textLength="54.2" lengthAdjust="spacingAndGlyphs">0.34</text>
<text x="1839" y="190.3" font-size="27.4" font-weight="bold" textLength="121" lengthAdjust="spacingAndGlyphs">LTR/ERV1</text>
<text x="2071.2" y="190.3" font-size="27.4" textLength="54.2" lengthAdjust="spacingAndGlyphs">0.27</text>
<text x="1843.75" y="232.5" font-size="27.4" font-weight="bold" textLength="111.5" lengthAdjust="spacingAndGlyphs">SINE/Alu</text>
<text x="2071.2" y="232.5" font-size="27.4" textLength="54.2" lengthAdjust="spacingAndGlyphs">0.14</text>
<text x="1850.55" y="274.7" font-size="27.4" font-weight="bold" textLength="97.9" lengthAdjust="spacingAndGlyphs">LINE/L1</text>
<text x="2071.2" y="274.7" font-size="27.4" textLength="54.2" lengthAdjust="spacingAndGlyphs">0.10</text>
<text x="1794.5" y="316.9" font-size="27.4" font-weight="bold" textLength="210" lengthAdjust="spacingAndGlyphs">Low_complexity</text>
<text x="2071.2" y="316.9" font-size="27.4" textLength="54.2" lengthAdjust="spacingAndGlyphs">0.09</text>
<text x="1850.55" y="359.1" font-size="27.4" font-weight="bold" textLength="97.9" lengthAdjust="spacingAndGlyphs">LINE/L2</text>
<text x="2071.2" y="359.1" font-size="27.4" textLength="54.2" lengthAdjust="spacingAndGlyphs">0.08</text>
<text x="1798" y="401.3" font-size="27.4" font-weight="bold" textLength="203" lengthAdjust="spacingAndGlyphs">LTR/ERVL-MaLR</text>
<text x="2071.2" y="401.3" font-size="27.4" textLength="54.2" lengthAdjust="spacingAndGlyphs">0.05</text>
<text x="1839.85" y="443.5" font-size="27.4" font-weight="bold" textLength="119.3" lengthAdjust="spacingAndGlyphs">SINE/MIR</text>
<text x="2071.2" y="443.5" font-size="27.4" textLength="54.2" lengthAdjust="spacingAndGlyphs">0.05</text>
<text x="1789" y="485.7" font-size="27.4" font-weight="bold" textLength="221" lengthAdjust="spacingAndGlyphs">DNA/hAT-Charlie</text>
<text x="2071.2" y="485.7" font-size="27.4" textLength="54.2" lengthAdjust="spacingAndGlyphs">0.03</text>
<text x="1839.7" y="527.9" font-size="27.4" font-weight="bold" textLength="119.6" lengthAdjust="spacingAndGlyphs">LTR/ERVL</text>
<text x="2071.2" y="527.9" font-size="27.4" textLength="54.2" lengthAdjust="spacingAndGlyphs">0.03</text>
<text x="1847.8" y="570.1" font-size="27.4" font-weight="bold" textLength="103.4" lengthAdjust="spacingAndGlyphs">Satellite</text>
<text x="2071.2" y="570.1" font-size="27.4" textLength="54.2" lengthAdjust="spacingAndGlyphs">0.01</text>
<text x="1782" y="612.3" font-size="27.4" font-weight="bold" textLength="235" lengthAdjust="spacingAndGlyphs">DNA/TcMar-Tigger</text>
<text x="2071.2" y="612.3" font-size="27.4" textLength="54.2" lengthAdjust="spacingAndGlyphs">0.01</text>
<text x="1790.75" y="654.5" font-size="27.4" font-weight="bold" textLength="217.5" lengthAdjust="spacingAndGlyphs">DNA/hAT-Tip100</text>
<text x="2071.2" y="654.5" font-size="27.4" textLength="54.2" lengthAdjust="spacingAndGlyphs">0.01</text>
<text x="1813.05" y="696.7" font-size="27.4" font-weight="bold" textLength="172.9" lengthAdjust="spacingAndGlyphs">Satellite/acro</text>
<text x="2071.2" y="696.7" font-size="27.4" textLength="54.2" lengthAdjust="spacingAndGlyphs">0.01</text>
<text x="1866.2" y="738.9" font-size="27.4" font-weight="bold" textLength="66.6" lengthAdjust="spacingAndGlyphs">rRNA</text>
<text x="2071.2" y="738.9" font-size="27.4" textLength="54.2" lengthAdjust="spacingAndGlyphs">0.00</text>
<text x="1806.1" y="781.1" font-size="27.4" font-weight="bold" textLength="186.8" lengthAdjust="spacingAndGlyphs">Satellite/centr</text>
<text x="2071.2" y="781.1" font-size="27.4" textLength="54.2" lengthAdjust="spacingAndGlyphs">0.00</text>
<text x="1829.7" y="823.3" font-size="27.4" font-weight="bold" textLength="139.6" lengthAdjust="spacingAndGlyphs">LINE/RTE-X</text>
<text x="2071.2" y="823.3" font-size="27.4" textLength="54.2" lengthAdjust="spacingAndGlyphs">0.00</text>
<text x="1841.85" y="865.5" font-size="27.4" font-weight="bold" textLength="115.3" lengthAdjust="spacingAndGlyphs">LINE/CR1</text>
<text x="2071.2" y="865.5" font-size="27.4" textLength="54.2" lengthAdjust="spacingAndGlyphs">0.00</text>
<text x="2286" y="62.8" font-size="27.4" font-weight="bold" textLength="71" lengthAdjust="spacingAndGlyphs">peaks</text>
<text x="2219.3" y="104.6" font-size="27.4" font-weight="bold" textLength="85.4" lengthAdjust="spacingAndGlyphs">repeat</text>
<text x="2351" y="104.6" font-size="27.4" font-weight="bold" textLength="95.6" lengthAdjust="spacingAndGlyphs">fraction</text>
<text x="2216.21" y="148.1" font-size="27.4" textLength="91.59" lengthAdjust="spacingAndGlyphs">LTR9A1</text>
<text x="2371.7" y="148.1" font-size="27.4" textLength="54.2" lengthAdjust="spacingAndGlyphs">0.09</text>
<text x="2218.82" y="190.3" font-size="27.4" textLength="86.36" lengthAdjust="spacingAndGlyphs">GA-rich</text>
<text x="2371.7" y="190.3" font-size="27.4" textLength="54.2" lengthAdjust="spacingAndGlyphs">0.05</text>
<text x="2227.32" y="232.5" font-size="27.4" textLength="69.37" lengthAdjust="spacingAndGlyphs">G-rich</text>
<text x="2371.7" y="232.5" font-size="27.4" textLength="54.2" lengthAdjust="spacingAndGlyphs">0.04</text>
<text x="2240.74" y="274.7" font-size="27.4" textLength="42.52" lengthAdjust="spacingAndGlyphs">L2a</text>
<text x="2371.7" y="274.7" font-size="27.4" textLength="54.2" lengthAdjust="spacingAndGlyphs">0.03</text>
<text x="2211.02" y="316.9" font-size="27.4" textLength="101.97" lengthAdjust="spacingAndGlyphs">MER61E</text>
<text x="2371.7" y="316.9" font-size="27.4" textLength="54.2" lengthAdjust="spacingAndGlyphs">0.03</text>
<text x="2220.24" y="359.1" font-size="27.4" textLength="83.51" lengthAdjust="spacingAndGlyphs">(TCC)n</text>
<text x="2371.7" y="359.1" font-size="27.4" textLength="54.2" lengthAdjust="spacingAndGlyphs">0.03</text>
<text x="2222.59" y="401.3" font-size="27.4" textLength="78.82" lengthAdjust="spacingAndGlyphs">LTR9D</text>
<text x="2371.7" y="401.3" font-size="27.4" textLength="54.2" lengthAdjust="spacingAndGlyphs">0.03</text>
<text x="2241.46" y="443.5" font-size="27.4" textLength="41.08" lengthAdjust="spacingAndGlyphs">L2c</text>
<text x="2371.7" y="443.5" font-size="27.4" textLength="54.2" lengthAdjust="spacingAndGlyphs">0.02</text>
<text x="2220.24" y="485.7" font-size="27.4" textLength="83.51" lengthAdjust="spacingAndGlyphs">(CCT)n</text>
<text x="2371.7" y="485.7" font-size="27.4" textLength="54.2" lengthAdjust="spacingAndGlyphs">0.02</text>
<text x="2231.56" y="527.9" font-size="27.4" textLength="60.88" lengthAdjust="spacingAndGlyphs">MIRb</text>
<text x="2371.7" y="527.9" font-size="27.4" textLength="54.2" lengthAdjust="spacingAndGlyphs">0.02</text>
<text x="2215.5" y="570.1" font-size="27.4" textLength="92.99" lengthAdjust="spacingAndGlyphs">LTR19C</text>
<text x="2371.7" y="570.1" font-size="27.4" textLength="54.2" lengthAdjust="spacingAndGlyphs">0.02</text>
<text x="2240.74" y="612.3" font-size="27.4" textLength="42.52" lengthAdjust="spacingAndGlyphs">L2b</text>
<text x="2371.7" y="612.3" font-size="27.4" textLength="54.2" lengthAdjust="spacingAndGlyphs">0.02</text>
<text x="2230.13" y="654.5" font-size="27.4" textLength="63.74" lengthAdjust="spacingAndGlyphs">AluJb</text>
<text x="2371.7" y="654.5" font-size="27.4" textLength="54.2" lengthAdjust="spacingAndGlyphs">0.02</text>
<text x="2238.65" y="696.7" font-size="27.4" textLength="46.71" lengthAdjust="spacingAndGlyphs">MIR</text>
<text x="2371.7" y="696.7" font-size="27.4" textLength="54.2" lengthAdjust="spacingAndGlyphs">0.01</text>
<text x="2220.24" y="738.9" font-size="27.4" textLength="83.51" lengthAdjust="spacingAndGlyphs">(CTC)n</text>
<text x="2371.7" y="738.9" font-size="27.4" textLength="54.2" lengthAdjust="spacingAndGlyphs">0.01</text>
<text x="2232.28" y="781.1" font-size="27.4" textLength="59.45" lengthAdjust="spacingAndGlyphs">MIRc</text>
<text x="2371.7" y="781.1" font-size="27.4" textLength="54.2" lengthAdjust="spacingAndGlyphs">0.01</text>
<text x="2224.7" y="823.3" font-size="27.4" textLength="74.59" lengthAdjust="spacingAndGlyphs">LTR25</text>
<text x="2371.7" y="823.3" font-size="27.4" textLength="54.2" lengthAdjust="spacingAndGlyphs">0.01</text>
<text x="2228.72" y="865.5" font-size="27.4" textLength="66.57" lengthAdjust="spacingAndGlyphs">AluSz</text>
<text x="2371.7" y="865.5" font-size="27.4" textLength="54.2" lengthAdjust="spacingAndGlyphs">0.01</text>
<text x="231.1" y="296.8" font-size="30.4" font-weight="bold" textLength="298.9" lengthAdjust="spacingAndGlyphs">no GREAT enrichment</text>
<text x="9.6" y="470.8" font-size="30.4" font-weight="bold" textLength="86.8" lengthAdjust="spacingAndGlyphs">CIS-BP</text>
<text x="9.6" y="510.4" font-size="30.4" font-weight="bold" textLength="60.8" lengthAdjust="spacingAndGlyphs">ChIP</text>
<text x="9.6" y="641.3" font-size="30.4" font-weight="bold" textLength="101.7" lengthAdjust="spacingAndGlyphs">B1H-RC</text>
<text x="9.6" y="681.5" font-size="30.4" font-weight="bold" textLength="139.1" lengthAdjust="spacingAndGlyphs">prediction</text>
<text x="9.6" y="810.5" font-size="30.4" font-weight="bold" textLength="165.2" lengthAdjust="spacingAndGlyphs">TF-MoDisCo</text>
<text x="9.6" y="846.9" font-size="30.4" font-weight="bold" textLength="134.6" lengthAdjust="spacingAndGlyphs">pattern_0</text>
<text x="9.6" y="882.5" font-size="30.4" font-weight="bold" textLength="82.9" lengthAdjust="spacingAndGlyphs">n=139</text>
<text x="9.6" y="991.9" font-size="30.4" font-weight="bold" textLength="101.7" lengthAdjust="spacingAndGlyphs">B1H-RC</text>
<text x="9.6" y="1031.7" font-size="30.4" font-weight="bold" textLength="139.1" lengthAdjust="spacingAndGlyphs">prediction</text>
<text x="9.6" y="1161.3" font-size="30.4" font-weight="bold" textLength="165.2" lengthAdjust="spacingAndGlyphs">TF-MoDisCo</text>
<text x="9.6" y="1197.2" font-size="30.4" font-weight="bold" textLength="134.6" lengthAdjust="spacingAndGlyphs">pattern_1</text>
<text x="9.6" y="1232.8" font-size="30.4" font-weight="bold" textLength="82.9" lengthAdjust="spacingAndGlyphs">n=131</text>
<text transform="matrix(0.4024 0 0 0.1233 248.00 485.10)" font-size="100" fill="#3ab54a" font-weight="bold">A</text>
<text transform="matrix(0.4130 0 0 0.1369 247.31 475.47)" font-size="100" fill="#2e3192" font-weight="bold">C</text>
<text transform="matrix(0.4001 0 0 0.1427 247.36 495.06)" font-size="100" fill="#fde6a3" font-weight="bold">G</text>
<text transform="matrix(0.4585 0 0 0.1468 248.49 506.31)" font-size="100" fill="#cf8a8d" font-weight="bold">T</text>
<text transform="matrix(0.4001 0 0 0.2568 275.16 484.85)" font-size="100" fill="#fbb017" font-weight="bold">G</text>
<text transform="matrix(0.4024 0 0 0.8720 275.80 465.91)" font-size="100" fill="#3ab54a" font-weight="bold">A</text>
<text transform="matrix(0.4130 0 0 0.3424 275.11 509.01)" font-size="100" fill="#8e8cca" font-weight="bold">C</text>
<text transform="matrix(0.4585 0 0 0.8016 276.29 564.89)" font-size="100" fill="#cf8a8d" font-weight="bold">T</text>
<text transform="matrix(0.4001 0 0 0.2282 302.96 484.88)" font-size="100" fill="#fbb017" font-weight="bold">G</text>
<text transform="matrix(0.4024 0 0 1.0511 303.60 468.54)" font-size="100" fill="#3ab54a" font-weight="bold">A</text>
<text transform="matrix(0.4130 0 0 0.6277 302.91 528.93)" font-size="100" fill="#8e8cca" font-weight="bold">C</text>
<text transform="matrix(0.4585 0 0 0.6401 304.09 573.98)" font-size="100" fill="#cf8a8d" font-weight="bold">T</text>
<text transform="matrix(0.4001 0 0 1.2411 330.76 482.88)" font-size="100" fill="#fbb017" font-weight="bold">G</text>
<text transform="matrix(0.4024 0 0 0.4404 331.40 515.40)" font-size="100" fill="#90d29b" font-weight="bold">A</text>
<text transform="matrix(0.4130 0 0 0.4137 330.71 544.29)" font-size="100" fill="#8e8cca" font-weight="bold">C</text>
<text transform="matrix(0.4585 0 0 0.4199 331.89 573.98)" font-size="100" fill="#cf8a8d" font-weight="bold">T</text>
<text transform="matrix(0.4024 0 0 0.0440 359.20 485.10)" font-size="100" fill="#3ab54a" font-weight="bold">A</text>
<text transform="matrix(0.4001 0 0 1.0984 358.56 481.00)" font-size="100" fill="#fbb017" font-weight="bold">G</text>
<text transform="matrix(0.4130 0 0 0.5849 358.51 525.94)" font-size="100" fill="#8e8cca" font-weight="bold">C</text>
<text transform="matrix(0.4585 0 0 0.5725 359.69 566.30)" font-size="100" fill="#cf8a8d" font-weight="bold">T</text>
<text transform="matrix(0.4024 0 0 1.2919 387.00 485.10)" font-size="100" fill="#3ab54a" font-weight="bold">A</text>
<text transform="matrix(0.4130 0 0 0.4280 386.31 514.98)" font-size="100" fill="#8e8cca" font-weight="bold">C</text>
<text transform="matrix(0.4001 0 0 0.4137 386.36 544.29)" font-size="100" fill="#fde6a3" font-weight="bold">G</text>
<text transform="matrix(0.4585 0 0 0.4199 387.49 573.98)" font-size="100" fill="#cf8a8d" font-weight="bold">T</text>
<text transform="matrix(0.4585 0 0 0.0881 415.29 485.10)" font-size="100" fill="#d2232a" font-weight="bold">T</text>
<text transform="matrix(0.4130 0 0 0.3652 414.11 478.28)" font-size="100" fill="#2e3192" font-weight="bold">C</text>
<text transform="matrix(0.4024 0 0 0.4404 414.80 518.43)" font-size="100" fill="#90d29b" font-weight="bold">A</text>
<text transform="matrix(0.4024 0 0 0.1908 442.60 485.10)" font-size="100" fill="#3ab54a" font-weight="bold">A</text>
<text transform="matrix(0.4001 0 0 1.0414 441.96 470.95)" font-size="100" fill="#fbb017" font-weight="bold">G</text>
<text transform="matrix(0.4130 0 0 0.6277 441.91 528.93)" font-size="100" fill="#8e8cca" font-weight="bold">C</text>
<text transform="matrix(0.4585 0 0 0.6107 443.09 571.96)" font-size="100" fill="#cf8a8d" font-weight="bold">T</text>
<text transform="matrix(0.4001 0 0 0.0514 469.76 484.65)" font-size="100" fill="#fbb017" font-weight="bold">G</text>
<text transform="matrix(0.4130 0 0 0.1912 469.71 479.86)" font-size="100" fill="#2e3192" font-weight="bold">C</text>
<text transform="matrix(0.4024 0 0 0.1321 470.40 494.19)" font-size="100" fill="#90d29b" font-weight="bold">A</text>
<text transform="matrix(0.4585 0 0 0.1321 470.89 504.29)" font-size="100" fill="#cf8a8d" font-weight="bold">T</text>
<text transform="matrix(0.4130 0 0 0.0713 497.51 485.03)" font-size="100" fill="#2e3192" font-weight="bold">C</text>
<text transform="matrix(0.4024 0 0 0.0822 498.20 479.65)" font-size="100" fill="#3ab54a" font-weight="bold">A</text>
<text transform="matrix(0.4001 0 0 0.0856 497.56 472.90)" font-size="100" fill="#fbb017" font-weight="bold">G</text>
<text transform="matrix(0.4585 0 0 0.2496 498.69 503.28)" font-size="100" fill="#cf8a8d" font-weight="bold">T</text>
<text transform="matrix(0.4001 0 0 0.5706 525.36 483.53)" font-size="100" fill="#fbb017" font-weight="bold">G</text>
<text transform="matrix(0.4024 0 0 0.6019 526.00 528.53)" font-size="100" fill="#90d29b" font-weight="bold">A</text>
<text transform="matrix(0.4024 0 0 0.1468 553.80 485.10)" font-size="100" fill="#3ab54a" font-weight="bold">A</text>
<text transform="matrix(0.4001 0 0 0.2910 553.16 473.71)" font-size="100" fill="#fbb017" font-weight="bold">G</text>
<text transform="matrix(0.4130 0 0 0.1712 553.11 497.05)" font-size="100" fill="#8e8cca" font-weight="bold">C</text>
<text transform="matrix(0.4585 0 0 0.2789 554.29 517.42)" font-size="100" fill="#cf8a8d" font-weight="bold">T</text>
<path d="M248.4 384V586.2H582.5" stroke="#222" stroke-width="0.9" fill="none"/>
<path d="M248.4 485.1H582" stroke="#222" stroke-width="0.6" stroke-dasharray="3.2 1.2 1 1.2" fill="none"/>
<text x="232.19" y="590.2" font-size="11.6" font-weight="bold">-5</text>
<text x="232.19" y="570" font-size="11.6" font-weight="bold">-4</text>
<text x="232.19" y="549.8" font-size="11.6" font-weight="bold">-3</text>
<text x="232.19" y="529.6" font-size="11.6" font-weight="bold">-2</text>
<text x="232.19" y="509.4" font-size="11.6" font-weight="bold">-1</text>
<text x="236.05" y="489.2" font-size="11.6" font-weight="bold">0</text>
<text x="236.05" y="469" font-size="11.6" font-weight="bold">1</text>
<text x="236.05" y="448.8" font-size="11.6" font-weight="bold">2</text>
<text x="236.05" y="428.6" font-size="11.6" font-weight="bold">3</text>
<text x="236.05" y="408.4" font-size="11.6" font-weight="bold">4</text>
<text x="236.05" y="388.2" font-size="11.6" font-weight="bold">5</text>
<path d="M248.4 586.1h-5M248.4 565.9h-5M248.4 545.7h-5M248.4 525.5h-5M248.4 505.3h-5M248.4 485.1h-5M248.4 464.9h-5M248.4 444.7h-5M248.4 424.5h-5M248.4 404.3h-5M248.4 384.1h-5" stroke="#222" stroke-width="0.9" fill="none"/>
<text transform="translate(267.3 588.6) rotate(-90)" x="-6.62" y="0" font-size="14" font-weight="bold" textLength="6.62" lengthAdjust="spacingAndGlyphs">1</text>
<text transform="translate(295.1 588.6) rotate(-90)" x="-6.62" y="0" font-size="14" font-weight="bold" textLength="6.62" lengthAdjust="spacingAndGlyphs">2</text>
<text transform="translate(322.9 588.6) rotate(-90)" x="-6.62" y="0" font-size="14" font-weight="bold" textLength="6.62" lengthAdjust="spacingAndGlyphs">3</text>
<text transform="translate(350.7 588.6) rotate(-90)" x="-6.62" y="0" font-size="14" font-weight="bold" textLength="6.62" lengthAdjust="spacingAndGlyphs">4</text>
<text transform="translate(378.5 588.6) rotate(-90)" x="-6.62" y="0" font-size="14" font-weight="bold" textLength="6.62" lengthAdjust="spacingAndGlyphs">5</text>
<text transform="translate(406.3 588.6) rotate(-90)" x="-6.62" y="0" font-size="14" font-weight="bold" textLength="6.62" lengthAdjust="spacingAndGlyphs">6</text>
<text transform="translate(434.1 588.6) rotate(-90)" x="-6.62" y="0" font-size="14" font-weight="bold" textLength="6.62" lengthAdjust="spacingAndGlyphs">7</text>
<text transform="translate(461.9 588.6) rotate(-90)" x="-6.62" y="0" font-size="14" font-weight="bold" textLength="6.62" lengthAdjust="spacingAndGlyphs">8</text>
<text transform="translate(489.7 588.6) rotate(-90)" x="-6.62" y="0" font-size="14" font-weight="bold" textLength="6.62" lengthAdjust="spacingAndGlyphs">9</text>
<text transform="translate(517.5 588.6) rotate(-90)" x="-13.24" y="0" font-size="14" font-weight="bold" textLength="13.24" lengthAdjust="spacingAndGlyphs">10</text>
<text transform="translate(545.3 588.6) rotate(-90)" x="-12.58" y="0" font-size="14" font-weight="bold" textLength="12.58" lengthAdjust="spacingAndGlyphs">11</text>
<text transform="translate(573.1 588.6) rotate(-90)" x="-13.24" y="0" font-size="14" font-weight="bold" textLength="13.24" lengthAdjust="spacingAndGlyphs">12</text>
<text transform="translate(213.6 485.3) rotate(-90)" x="-25.5" y="0" font-size="11.2" font-weight="bold" textLength="51" lengthAdjust="spacingAndGlyphs"><tspan font-family="'Liberation Serif', serif" font-weight="normal">ΔΔ</tspan>G/RT</text>
<text transform="matrix(0.1535 0 0 0.0347 233.27 753.25)" font-size="100" fill="#ec1c24" font-family="'DejaVu Sans', sans-serif" font-weight="bold">T</text>
<text transform="matrix(0.1479 0 0 0.0439 232.61 750.81)" font-size="100" fill="#f9a51b" font-family="'DejaVu Sans', sans-serif" font-weight="bold">G</text>
<text transform="matrix(0.1349 0 0 0.0998 233.28 747.71)" font-size="100" fill="#108040" font-family="'DejaVu Sans', sans-serif" font-weight="bold">A</text>
<text transform="matrix(0.1663 0 0 0.1067 232.52 740.43)" font-size="100" fill="#3553ac" font-family="'DejaVu Sans', sans-serif" font-weight="bold">C</text>
<text transform="matrix(0.1663 0 0 0.0648 243.26 753.16)" font-size="100" fill="#3553ac" font-family="'DejaVu Sans', sans-serif" font-weight="bold">C</text>
<text transform="matrix(0.1535 0 0 0.0672 244.01 748.50)" font-size="100" fill="#ec1c24" font-family="'DejaVu Sans', sans-serif" font-weight="bold">T</text>
<text transform="matrix(0.1479 0 0 0.0858 243.35 743.62)" font-size="100" fill="#f9a51b" font-family="'DejaVu Sans', sans-serif" font-weight="bold">G</text>
<text transform="matrix(0.1349 0 0 0.6756 244.02 737.41)" font-size="100" fill="#108040" font-family="'DejaVu Sans', sans-serif" font-weight="bold">A</text>
<text transform="matrix(0.1479 0 0 0.0648 254.09 753.16)" font-size="100" fill="#f9a51b" font-family="'DejaVu Sans', sans-serif" font-weight="bold">G</text>
<text transform="matrix(0.1535 0 0 0.0781 254.75 748.50)" font-size="100" fill="#ec1c24" font-family="'DejaVu Sans', sans-serif" font-weight="bold">T</text>
<text transform="matrix(0.1663 0 0 0.0753 254.00 742.85)" font-size="100" fill="#3553ac" font-family="'DejaVu Sans', sans-serif" font-weight="bold">C</text>
<text transform="matrix(0.1349 0 0 0.8495 254.76 737.41)" font-size="100" fill="#108040" font-family="'DejaVu Sans', sans-serif" font-weight="bold">A</text>
<text transform="matrix(0.1535 0 0 0.0564 265.49 753.25)" font-size="100" fill="#ec1c24" font-family="'DejaVu Sans', sans-serif" font-weight="bold">T</text>
<text transform="matrix(0.1663 0 0 0.0439 264.74 749.23)" font-size="100" fill="#3553ac" font-family="'DejaVu Sans', sans-serif" font-weight="bold">C</text>
<text transform="matrix(0.1349 0 0 0.0781 265.50 746.12)" font-size="100" fill="#108040" font-family="'DejaVu Sans', sans-serif" font-weight="bold">A</text>
<text transform="matrix(0.1479 0 0 1.1748 264.83 738.91)" font-size="100" fill="#f9a51b" font-family="'DejaVu Sans', sans-serif" font-weight="bold">G</text>
<text transform="matrix(0.1663 0 0 0.0439 275.48 753.19)" font-size="100" fill="#3553ac" font-family="'DejaVu Sans', sans-serif" font-weight="bold">C</text>
<text transform="matrix(0.1535 0 0 0.0672 276.23 750.08)" font-size="100" fill="#ec1c24" font-family="'DejaVu Sans', sans-serif" font-weight="bold">T</text>
<text transform="matrix(0.1349 0 0 0.0998 276.24 745.33)" font-size="100" fill="#108040" font-family="'DejaVu Sans', sans-serif" font-weight="bold">A</text>
<text transform="matrix(0.1479 0 0 0.9968 275.57 736.79)" font-size="100" fill="#f9a51b" font-family="'DejaVu Sans', sans-serif" font-weight="bold">G</text>
<text transform="matrix(0.1663 0 0 0.0334 286.22 753.20)" font-size="100" fill="#3553ac" font-family="'DejaVu Sans', sans-serif" font-weight="bold">C</text>
<text transform="matrix(0.1479 0 0 0.0334 286.31 750.83)" font-size="100" fill="#f9a51b" font-family="'DejaVu Sans', sans-serif" font-weight="bold">G</text>
<text transform="matrix(0.1535 0 0 0.0781 286.97 748.50)" font-size="100" fill="#ec1c24" font-family="'DejaVu Sans', sans-serif" font-weight="bold">T</text>
<text transform="matrix(0.1349 0 0 1.4904 286.98 742.95)" font-size="100" fill="#108040" font-family="'DejaVu Sans', sans-serif" font-weight="bold">A</text>
<text transform="matrix(0.1479 0 0 0.0334 297.05 753.20)" font-size="100" fill="#f9a51b" font-family="'DejaVu Sans', sans-serif" font-weight="bold">G</text>
<text transform="matrix(0.1663 0 0 0.0229 296.96 750.84)" font-size="100" fill="#3553ac" font-family="'DejaVu Sans', sans-serif" font-weight="bold">C</text>
<text transform="matrix(0.1535 0 0 0.0347 297.71 749.29)" font-size="100" fill="#ec1c24" font-family="'DejaVu Sans', sans-serif" font-weight="bold">T</text>
<text transform="matrix(0.1349 0 0 0.0672 297.72 746.91)" font-size="100" fill="#108040" font-family="'DejaVu Sans', sans-serif" font-weight="bold">A</text>
<text transform="matrix(0.1663 0 0 0.0543 307.70 753.17)" font-size="100" fill="#3553ac" font-family="'DejaVu Sans', sans-serif" font-weight="bold">C</text>
<text transform="matrix(0.1535 0 0 0.0781 308.45 749.29)" font-size="100" fill="#ec1c24" font-family="'DejaVu Sans', sans-serif" font-weight="bold">T</text>
<text transform="matrix(0.1349 0 0 0.0890 308.46 743.75)" font-size="100" fill="#108040" font-family="'DejaVu Sans', sans-serif" font-weight="bold">A</text>
<text transform="matrix(0.1479 0 0 0.7350 307.79 736.37)" font-size="100" fill="#f9a51b" font-family="'DejaVu Sans', sans-serif" font-weight="bold">G</text>
<text transform="matrix(0.1479 0 0 0.0543 318.53 753.17)" font-size="100" fill="#f9a51b" font-family="'DejaVu Sans', sans-serif" font-weight="bold">G</text>
<text transform="matrix(0.1663 0 0 0.0543 318.44 749.21)" font-size="100" fill="#3553ac" font-family="'DejaVu Sans', sans-serif" font-weight="bold">C</text>
<text transform="matrix(0.1349 0 0 0.1107 319.20 745.33)" font-size="100" fill="#108040" font-family="'DejaVu Sans', sans-serif" font-weight="bold">A</text>
<text transform="matrix(0.1535 0 0 0.7300 319.19 737.41)" font-size="100" fill="#ec1c24" font-family="'DejaVu Sans', sans-serif" font-weight="bold">T</text>
<text transform="matrix(0.1535 0 0 0.0347 329.93 753.25)" font-size="100" fill="#ec1c24" font-family="'DejaVu Sans', sans-serif" font-weight="bold">T</text>
<text transform="matrix(0.1479 0 0 0.0229 329.27 750.84)" font-size="100" fill="#f9a51b" font-family="'DejaVu Sans', sans-serif" font-weight="bold">G</text>
<text transform="matrix(0.1663 0 0 0.0439 329.18 749.23)" font-size="100" fill="#3553ac" font-family="'DejaVu Sans', sans-serif" font-weight="bold">C</text>
<text transform="matrix(0.1349 0 0 0.0781 329.94 746.12)" font-size="100" fill="#108040" font-family="'DejaVu Sans', sans-serif" font-weight="bold">A</text>
<text transform="matrix(0.1349 0 0 0.0455 340.68 753.25)" font-size="100" fill="#108040" font-family="'DejaVu Sans', sans-serif" font-weight="bold">A</text>
<text transform="matrix(0.1535 0 0 0.0672 340.67 750.08)" font-size="100" fill="#ec1c24" font-family="'DejaVu Sans', sans-serif" font-weight="bold">T</text>
<text transform="matrix(0.1663 0 0 0.0543 339.92 745.25)" font-size="100" fill="#3553ac" font-family="'DejaVu Sans', sans-serif" font-weight="bold">C</text>
<text transform="matrix(0.1479 0 0 0.2009 340.01 741.09)" font-size="100" fill="#f9a51b" font-family="'DejaVu Sans', sans-serif" font-weight="bold">G</text>
<text transform="matrix(0.1349 0 0 0.0672 351.42 753.25)" font-size="100" fill="#108040" font-family="'DejaVu Sans', sans-serif" font-weight="bold">A</text>
<text transform="matrix(0.1535 0 0 0.0564 351.41 748.50)" font-size="100" fill="#ec1c24" font-family="'DejaVu Sans', sans-serif" font-weight="bold">T</text>
<text transform="matrix(0.1663 0 0 0.0648 350.66 744.45)" font-size="100" fill="#3553ac" font-family="'DejaVu Sans', sans-serif" font-weight="bold">C</text>
<text transform="matrix(0.1479 0 0 1.0805 350.75 738.26)" font-size="100" fill="#f9a51b" font-family="'DejaVu Sans', sans-serif" font-weight="bold">G</text>
<text transform="matrix(0.1535 0 0 0.0564 362.15 753.25)" font-size="100" fill="#ec1c24" font-family="'DejaVu Sans', sans-serif" font-weight="bold">T</text>
<text transform="matrix(0.1663 0 0 0.0858 361.40 749.17)" font-size="100" fill="#3553ac" font-family="'DejaVu Sans', sans-serif" font-weight="bold">C</text>
<text transform="matrix(0.1479 0 0 0.0753 361.49 742.85)" font-size="100" fill="#f9a51b" font-family="'DejaVu Sans', sans-serif" font-weight="bold">G</text>
<text transform="matrix(0.1349 0 0 0.7625 362.16 737.41)" font-size="100" fill="#108040" font-family="'DejaVu Sans', sans-serif" font-weight="bold">A</text>
<text transform="matrix(0.1479 0 0 0.0334 372.23 753.20)" font-size="100" fill="#f9a51b" font-family="'DejaVu Sans', sans-serif" font-weight="bold">G</text>
<text transform="matrix(0.1349 0 0 0.0564 372.90 750.87)" font-size="100" fill="#108040" font-family="'DejaVu Sans', sans-serif" font-weight="bold">A</text>
<text transform="matrix(0.1535 0 0 0.1542 372.89 746.91)" font-size="100" fill="#ec1c24" font-family="'DejaVu Sans', sans-serif" font-weight="bold">T</text>
<text transform="matrix(0.1663 0 0 0.2952 372.14 735.41)" font-size="100" fill="#3553ac" font-family="'DejaVu Sans', sans-serif" font-weight="bold">C</text>
<text transform="matrix(0.1663 0 0 0.0334 382.88 753.20)" font-size="100" fill="#3553ac" font-family="'DejaVu Sans', sans-serif" font-weight="bold">C</text>
<text transform="matrix(0.1535 0 0 0.0455 383.63 750.87)" font-size="100" fill="#ec1c24" font-family="'DejaVu Sans', sans-serif" font-weight="bold">T</text>
<text transform="matrix(0.1479 0 0 0.0543 382.97 747.63)" font-size="100" fill="#f9a51b" font-family="'DejaVu Sans', sans-serif" font-weight="bold">G</text>
<text transform="matrix(0.1349 0 0 1.4796 383.64 743.75)" font-size="100" fill="#108040" font-family="'DejaVu Sans', sans-serif" font-weight="bold">A</text>
<text transform="matrix(0.1535 0 0 0.0564 394.37 753.25)" font-size="100" fill="#ec1c24" font-family="'DejaVu Sans', sans-serif" font-weight="bold">T</text>
<text transform="matrix(0.1479 0 0 0.0439 393.71 749.23)" font-size="100" fill="#f9a51b" font-family="'DejaVu Sans', sans-serif" font-weight="bold">G</text>
<text transform="matrix(0.1663 0 0 0.1172 393.62 745.96)" font-size="100" fill="#3553ac" font-family="'DejaVu Sans', sans-serif" font-weight="bold">C</text>
<text transform="matrix(0.1349 0 0 0.3497 394.38 737.41)" font-size="100" fill="#108040" font-family="'DejaVu Sans', sans-serif" font-weight="bold">A</text>
<text transform="matrix(0.1535 0 0 0.0781 405.11 753.25)" font-size="100" fill="#ec1c24" font-family="'DejaVu Sans', sans-serif" font-weight="bold">T</text>
<text transform="matrix(0.1663 0 0 0.0648 404.36 747.61)" font-size="100" fill="#3553ac" font-family="'DejaVu Sans', sans-serif" font-weight="bold">C</text>
<text transform="matrix(0.1479 0 0 0.0753 404.45 742.85)" font-size="100" fill="#f9a51b" font-family="'DejaVu Sans', sans-serif" font-weight="bold">G</text>
<text transform="matrix(0.1349 0 0 0.6756 405.12 737.41)" font-size="100" fill="#108040" font-family="'DejaVu Sans', sans-serif" font-weight="bold">A</text>
<text transform="matrix(0.1479 0 0 0.0543 415.19 753.17)" font-size="100" fill="#f9a51b" font-family="'DejaVu Sans', sans-serif" font-weight="bold">G</text>
<text transform="matrix(0.1535 0 0 0.0890 415.85 749.29)" font-size="100" fill="#ec1c24" font-family="'DejaVu Sans', sans-serif" font-weight="bold">T</text>
<text transform="matrix(0.1663 0 0 0.0753 415.10 742.85)" font-size="100" fill="#3553ac" font-family="'DejaVu Sans', sans-serif" font-weight="bold">C</text>
<text transform="matrix(0.1349 0 0 0.7843 415.86 737.41)" font-size="100" fill="#108040" font-family="'DejaVu Sans', sans-serif" font-weight="bold">A</text>
<text transform="matrix(0.1479 0 0 0.0334 425.93 753.20)" font-size="100" fill="#f9a51b" font-family="'DejaVu Sans', sans-serif" font-weight="bold">G</text>
<text transform="matrix(0.1535 0 0 0.0347 426.59 750.87)" font-size="100" fill="#ec1c24" font-family="'DejaVu Sans', sans-serif" font-weight="bold">T</text>
<text transform="matrix(0.1663 0 0 0.1695 425.84 748.26)" font-size="100" fill="#3553ac" font-family="'DejaVu Sans', sans-serif" font-weight="bold">C</text>
<text transform="matrix(0.1349 0 0 0.2302 426.60 735.83)" font-size="100" fill="#108040" font-family="'DejaVu Sans', sans-serif" font-weight="bold">A</text>
<text transform="matrix(0.1535 0 0 0.0564 437.33 753.25)" font-size="100" fill="#ec1c24" font-family="'DejaVu Sans', sans-serif" font-weight="bold">T</text>
<text transform="matrix(0.1663 0 0 0.0543 436.58 749.21)" font-size="100" fill="#3553ac" font-family="'DejaVu Sans', sans-serif" font-weight="bold">C</text>
<text transform="matrix(0.1479 0 0 0.0648 436.67 745.24)" font-size="100" fill="#f9a51b" font-family="'DejaVu Sans', sans-serif" font-weight="bold">G</text>
<text transform="matrix(0.1349 0 0 0.2845 437.34 740.58)" font-size="100" fill="#108040" font-family="'DejaVu Sans', sans-serif" font-weight="bold">A</text>
<text transform="matrix(0.1535 0 0 0.0672 448.07 753.25)" font-size="100" fill="#ec1c24" font-family="'DejaVu Sans', sans-serif" font-weight="bold">T</text>
<text transform="matrix(0.1479 0 0 0.0648 447.41 748.41)" font-size="100" fill="#f9a51b" font-family="'DejaVu Sans', sans-serif" font-weight="bold">G</text>
<text transform="matrix(0.1663 0 0 0.0858 447.32 743.62)" font-size="100" fill="#3553ac" font-family="'DejaVu Sans', sans-serif" font-weight="bold">C</text>
<text transform="matrix(0.1349 0 0 0.4366 448.08 737.41)" font-size="100" fill="#108040" font-family="'DejaVu Sans', sans-serif" font-weight="bold">A</text>
<text transform="matrix(0.1349 0 0 0.0347 458.82 753.25)" font-size="100" fill="#108040" font-family="'DejaVu Sans', sans-serif" font-weight="bold">A</text>
<text transform="matrix(0.1663 0 0 0.0439 458.06 750.81)" font-size="100" fill="#3553ac" font-family="'DejaVu Sans', sans-serif" font-weight="bold">C</text>
<text transform="matrix(0.1535 0 0 0.0890 458.81 747.71)" font-size="100" fill="#ec1c24" font-family="'DejaVu Sans', sans-serif" font-weight="bold">T</text>
<text transform="matrix(0.1479 0 0 0.1591 458.15 741.14)" font-size="100" fill="#f9a51b" font-family="'DejaVu Sans', sans-serif" font-weight="bold">G</text>
<text transform="matrix(0.1663 0 0 0.0334 468.80 753.20)" font-size="100" fill="#3553ac" font-family="'DejaVu Sans', sans-serif" font-weight="bold">C</text>
<text transform="matrix(0.1349 0 0 0.0781 469.56 750.87)" font-size="100" fill="#108040" font-family="'DejaVu Sans', sans-serif" font-weight="bold">A</text>
<text transform="matrix(0.1535 0 0 0.1107 469.55 745.33)" font-size="100" fill="#ec1c24" font-family="'DejaVu Sans', sans-serif" font-weight="bold">T</text>
<text transform="matrix(0.1479 0 0 0.3475 468.89 736.92)" font-size="100" fill="#f9a51b" font-family="'DejaVu Sans', sans-serif" font-weight="bold">G</text>
<text transform="matrix(0.1663 0 0 0.0334 479.54 753.20)" font-size="100" fill="#3553ac" font-family="'DejaVu Sans', sans-serif" font-weight="bold">C</text>
<text transform="matrix(0.1535 0 0 0.0781 480.29 750.87)" font-size="100" fill="#ec1c24" font-family="'DejaVu Sans', sans-serif" font-weight="bold">T</text>
<text transform="matrix(0.1349 0 0 0.1107 480.30 745.33)" font-size="100" fill="#108040" font-family="'DejaVu Sans', sans-serif" font-weight="bold">A</text>
<text transform="matrix(0.1479 0 0 0.3475 479.63 736.92)" font-size="100" fill="#f9a51b" font-family="'DejaVu Sans', sans-serif" font-weight="bold">G</text>
<text transform="matrix(0.1479 0 0 0.0334 490.37 753.20)" font-size="100" fill="#f9a51b" font-family="'DejaVu Sans', sans-serif" font-weight="bold">G</text>
<text transform="matrix(0.1535 0 0 0.0455 491.03 750.87)" font-size="100" fill="#ec1c24" font-family="'DejaVu Sans', sans-serif" font-weight="bold">T</text>
<text transform="matrix(0.1663 0 0 0.0543 490.28 747.63)" font-size="100" fill="#3553ac" font-family="'DejaVu Sans', sans-serif" font-weight="bold">C</text>
<text transform="matrix(0.1349 0 0 0.1107 491.04 743.75)" font-size="100" fill="#108040" font-family="'DejaVu Sans', sans-serif" font-weight="bold">A</text>
<text transform="matrix(0.1663 0 0 0.0334 501.02 753.20)" font-size="100" fill="#3553ac" font-family="'DejaVu Sans', sans-serif" font-weight="bold">C</text>
<text transform="matrix(0.1535 0 0 0.0347 501.77 750.87)" font-size="100" fill="#ec1c24" font-family="'DejaVu Sans', sans-serif" font-weight="bold">T</text>
<text transform="matrix(0.1349 0 0 0.0564 501.78 748.50)" font-size="100" fill="#108040" font-family="'DejaVu Sans', sans-serif" font-weight="bold">A</text>
<text transform="matrix(0.1479 0 0 1.4575 501.11 742.47)" font-size="100" fill="#f9a51b" font-family="'DejaVu Sans', sans-serif" font-weight="bold">G</text>
<text transform="matrix(0.1535 0 0 0.0455 512.51 753.25)" font-size="100" fill="#ec1c24" font-family="'DejaVu Sans', sans-serif" font-weight="bold">T</text>
<text transform="matrix(0.1663 0 0 0.0334 511.76 750.03)" font-size="100" fill="#3553ac" font-family="'DejaVu Sans', sans-serif" font-weight="bold">C</text>
<text transform="matrix(0.1479 0 0 0.0334 511.85 747.66)" font-size="100" fill="#f9a51b" font-family="'DejaVu Sans', sans-serif" font-weight="bold">G</text>
<text transform="matrix(0.1349 0 0 1.5774 512.52 745.33)" font-size="100" fill="#108040" font-family="'DejaVu Sans', sans-serif" font-weight="bold">A</text>
<text transform="matrix(0.1535 0 0 0.0564 523.25 753.25)" font-size="100" fill="#ec1c24" font-family="'DejaVu Sans', sans-serif" font-weight="bold">T</text>
<text transform="matrix(0.1663 0 0 0.0439 522.50 749.23)" font-size="100" fill="#3553ac" font-family="'DejaVu Sans', sans-serif" font-weight="bold">C</text>
<text transform="matrix(0.1349 0 0 0.0781 523.26 746.12)" font-size="100" fill="#108040" font-family="'DejaVu Sans', sans-serif" font-weight="bold">A</text>
<text transform="matrix(0.1479 0 0 1.1748 522.59 738.91)" font-size="100" fill="#f9a51b" font-family="'DejaVu Sans', sans-serif" font-weight="bold">G</text>
<text transform="matrix(0.1663 0 0 0.0334 533.24 753.20)" font-size="100" fill="#3553ac" font-family="'DejaVu Sans', sans-serif" font-weight="bold">C</text>
<text transform="matrix(0.1535 0 0 0.0672 533.99 750.87)" font-size="100" fill="#ec1c24" font-family="'DejaVu Sans', sans-serif" font-weight="bold">T</text>
<text transform="matrix(0.1349 0 0 0.1107 534.00 746.12)" font-size="100" fill="#108040" font-family="'DejaVu Sans', sans-serif" font-weight="bold">A</text>
<text transform="matrix(0.1479 0 0 0.9968 533.33 736.79)" font-size="100" fill="#f9a51b" font-family="'DejaVu Sans', sans-serif" font-weight="bold">G</text>
<text transform="matrix(0.1663 0 0 0.0334 543.98 753.20)" font-size="100" fill="#3553ac" font-family="'DejaVu Sans', sans-serif" font-weight="bold">C</text>
<text transform="matrix(0.1479 0 0 0.0334 544.07 750.83)" font-size="100" fill="#f9a51b" font-family="'DejaVu Sans', sans-serif" font-weight="bold">G</text>
<text transform="matrix(0.1535 0 0 0.0781 544.73 748.50)" font-size="100" fill="#ec1c24" font-family="'DejaVu Sans', sans-serif" font-weight="bold">T</text>
<text transform="matrix(0.1349 0 0 1.4904 544.74 742.95)" font-size="100" fill="#108040" font-family="'DejaVu Sans', sans-serif" font-weight="bold">A</text>
<text transform="matrix(0.1663 0 0 0.0229 554.72 753.22)" font-size="100" fill="#3553ac" font-family="'DejaVu Sans', sans-serif" font-weight="bold">C</text>
<text transform="matrix(0.1535 0 0 0.0238 555.47 751.67)" font-size="100" fill="#ec1c24" font-family="'DejaVu Sans', sans-serif" font-weight="bold">T</text>
<text transform="matrix(0.1349 0 0 0.0564 555.48 750.08)" font-size="100" fill="#108040" font-family="'DejaVu Sans', sans-serif" font-weight="bold">A</text>
<text transform="matrix(0.1479 0 0 0.0648 554.81 746.03)" font-size="100" fill="#f9a51b" font-family="'DejaVu Sans', sans-serif" font-weight="bold">G</text>
<text transform="matrix(0.1479 0 0 0.0229 565.55 753.22)" font-size="100" fill="#f9a51b" font-family="'DejaVu Sans', sans-serif" font-weight="bold">G</text>
<text transform="matrix(0.1349 0 0 0.0455 566.22 751.67)" font-size="100" fill="#108040" font-family="'DejaVu Sans', sans-serif" font-weight="bold">A</text>
<text transform="matrix(0.1535 0 0 0.0564 566.21 748.50)" font-size="100" fill="#ec1c24" font-family="'DejaVu Sans', sans-serif" font-weight="bold">T</text>
<text transform="matrix(0.1663 0 0 0.1172 565.46 744.37)" font-size="100" fill="#3553ac" font-family="'DejaVu Sans', sans-serif" font-weight="bold">C</text>
<text transform="matrix(0.1479 0 0 0.0229 576.29 753.22)" font-size="100" fill="#f9a51b" font-family="'DejaVu Sans', sans-serif" font-weight="bold">G</text>
<text transform="matrix(0.1535 0 0 0.0347 576.95 751.67)" font-size="100" fill="#ec1c24" font-family="'DejaVu Sans', sans-serif" font-weight="bold">T</text>
<text transform="matrix(0.1349 0 0 0.0347 576.96 749.29)" font-size="100" fill="#108040" font-family="'DejaVu Sans', sans-serif" font-weight="bold">A</text>
<text transform="matrix(0.1663 0 0 0.0543 576.20 746.84)" font-size="100" fill="#3553ac" font-family="'DejaVu Sans', sans-serif" font-weight="bold">C</text>
<text x="211.15" y="756.2" font-size="9.4" font-family="'DejaVu Sans', sans-serif">0.0</text>
<path d="M230.4 752.8h3.5" stroke="#222" stroke-width="0.8"/>
<text x="211.15" y="716.6" font-size="9.4" font-family="'DejaVu Sans', sans-serif">0.5</text>
<path d="M230.4 713.2h3.5" stroke="#222" stroke-width="0.8"/>
<text x="211.15" y="677" font-size="9.4" font-family="'DejaVu Sans', sans-serif">1.0</text>
<path d="M230.4 673.6h3.5" stroke="#222" stroke-width="0.8"/>
<text x="211.15" y="637.4" font-size="9.4" font-family="'DejaVu Sans', sans-serif">1.5</text>
<path d="M230.4 634h3.5" stroke="#222" stroke-width="0.8"/>
<path d="M238.5 753.9v3M249.24 753.9v3M259.98 753.9v3M270.72 753.9v3M281.46 753.9v3M292.2 753.9v3M302.94 753.9v3M313.68 753.9v3M324.42 753.9v3M335.16 753.9v3M345.9 753.9v3M356.64 753.9v3M367.38 753.9v3M378.12 753.9v3M388.86 753.9v3M399.6 753.9v3M410.34 753.9v3M421.08 753.9v3M431.82 753.9v3M442.56 753.9v3M453.3 753.9v3M464.04 753.9v3M474.78 753.9v3M485.52 753.9v3M496.26 753.9v3M507 753.9v3M517.74 753.9v3M528.48 753.9v3M539.22 753.9v3M549.96 753.9v3M560.7 753.9v3M571.44 753.9v3M582.18 753.9v3M592.92 753.9v3" stroke="#222" stroke-width="0.8" fill="none"/>
<text x="235.51" y="766.7" font-size="9.4" font-family="'DejaVu Sans', sans-serif">1</text>
<text x="246.25" y="766.7" font-size="9.4" font-family="'DejaVu Sans', sans-serif">2</text>
<text x="256.99" y="766.7" font-size="9.4" font-family="'DejaVu Sans', sans-serif">3</text>
<text x="267.73" y="766.7" font-size="9.4" font-family="'DejaVu Sans', sans-serif">4</text>
<text x="278.47" y="766.7" font-size="9.4" font-family="'DejaVu Sans', sans-serif">5</text>
<text x="289.21" y="766.7" font-size="9.4" font-family="'DejaVu Sans', sans-serif">6</text>
<text x="299.95" y="766.7" font-size="9.4" font-family="'DejaVu Sans', sans-serif">7</text>
<text x="310.69" y="766.7" font-size="9.4" font-family="'DejaVu Sans', sans-serif">8</text>
<text x="321.43" y="766.7" font-size="9.4" font-family="'DejaVu Sans', sans-serif">9</text>
<text x="329.18" y="766.7" font-size="9.4" font-family="'DejaVu Sans', sans-serif">10</text>
<text x="339.92" y="766.7" font-size="9.4" font-family="'DejaVu Sans', sans-serif">11</text>
<text x="350.66" y="766.7" font-size="9.4" font-family="'DejaVu Sans', sans-serif">12</text>
<text x="361.4" y="766.7" font-size="9.4" font-family="'DejaVu Sans', sans-serif">13</text>
<text x="372.14" y="766.7" font-size="9.4" font-family="'DejaVu Sans', sans-serif">14</text>
<text x="382.88" y="766.7" font-size="9.4" font-family="'DejaVu Sans', sans-serif">15</text>
<text x="393.62" y="766.7" font-size="9.4" font-family="'DejaVu Sans', sans-serif">16</text>
<text x="404.36" y="766.7" font-size="9.4" font-family="'DejaVu Sans', sans-serif">17</text>
<text x="415.1" y="766.7" font-size="9.4" font-family="'DejaVu Sans', sans-serif">18</text>
<text x="425.84" y="766.7" font-size="9.4" font-family="'DejaVu Sans', sans-serif">19</text>
<text x="436.58" y="766.7" font-size="9.4" font-family="'DejaVu Sans', sans-serif">20</text>
<text x="447.32" y="766.7" font-size="9.4" font-family="'DejaVu Sans', sans-serif">21</text>
<text x="458.06" y="766.7" font-size="9.4" font-family="'DejaVu Sans', sans-serif">22</text>
<text x="468.8" y="766.7" font-size="9.4" font-family="'DejaVu Sans', sans-serif">23</text>
<text x="479.54" y="766.7" font-size="9.4" font-family="'DejaVu Sans', sans-serif">24</text>
<text x="490.28" y="766.7" font-size="9.4" font-family="'DejaVu Sans', sans-serif">25</text>
<text x="501.02" y="766.7" font-size="9.4" font-family="'DejaVu Sans', sans-serif">26</text>
<text x="511.76" y="766.7" font-size="9.4" font-family="'DejaVu Sans', sans-serif">27</text>
<text x="522.5" y="766.7" font-size="9.4" font-family="'DejaVu Sans', sans-serif">28</text>
<text x="533.24" y="766.7" font-size="9.4" font-family="'DejaVu Sans', sans-serif">29</text>
<text x="543.98" y="766.7" font-size="9.4" font-family="'DejaVu Sans', sans-serif">30</text>
<text x="554.72" y="766.7" font-size="9.4" font-family="'DejaVu Sans', sans-serif">31</text>
<text x="565.46" y="766.7" font-size="9.4" font-family="'DejaVu Sans', sans-serif">32</text>
<text x="576.2" y="766.7" font-size="9.4" font-family="'DejaVu Sans', sans-serif">33</text>
<text x="591.22" y="766.7" font-size="9.4" font-family="'DejaVu Sans', sans-serif">-</text>
<text transform="matrix(0.1535 0 0 0.0252 244.47 900.05)" font-size="100" fill="#ec1c24" font-family="'DejaVu Sans', sans-serif" font-weight="bold">T</text>
<text transform="matrix(0.1663 0 0 0.0688 243.72 898.27)" font-size="100" fill="#3553ac" font-family="'DejaVu Sans', sans-serif" font-weight="bold">C</text>
<text transform="matrix(0.1349 0 0 0.1407 244.48 893.31)" font-size="100" fill="#108040" font-family="'DejaVu Sans', sans-serif" font-weight="bold">A</text>
<text transform="matrix(0.1479 0 0 0.4473 243.81 882.58)" font-size="100" fill="#f9a51b" font-family="'DejaVu Sans', sans-serif" font-weight="bold">G</text>
<text transform="matrix(0.1663 0 0 0.0354 254.46 900.00)" font-size="100" fill="#3553ac" font-family="'DejaVu Sans', sans-serif" font-weight="bold">C</text>
<text transform="matrix(0.1535 0 0 0.0483 255.21 897.52)" font-size="100" fill="#ec1c24" font-family="'DejaVu Sans', sans-serif" font-weight="bold">T</text>
<text transform="matrix(0.1479 0 0 0.1022 254.55 894.01)" font-size="100" fill="#f9a51b" font-family="'DejaVu Sans', sans-serif" font-weight="bold">G</text>
<text transform="matrix(0.1349 0 0 0.2100 255.22 886.58)" font-size="100" fill="#108040" font-family="'DejaVu Sans', sans-serif" font-weight="bold">A</text>
<text transform="matrix(0.1663 0 0 0.0354 265.20 900.00)" font-size="100" fill="#3553ac" font-family="'DejaVu Sans', sans-serif" font-weight="bold">C</text>
<text transform="matrix(0.1535 0 0 0.0714 265.95 897.52)" font-size="100" fill="#ec1c24" font-family="'DejaVu Sans', sans-serif" font-weight="bold">T</text>
<text transform="matrix(0.1349 0 0 0.1291 265.96 892.47)" font-size="100" fill="#108040" font-family="'DejaVu Sans', sans-serif" font-weight="bold">A</text>
<text transform="matrix(0.1479 0 0 0.4028 265.29 882.64)" font-size="100" fill="#f9a51b" font-family="'DejaVu Sans', sans-serif" font-weight="bold">G</text>
<text transform="matrix(0.1535 0 0 0.0483 276.69 900.05)" font-size="100" fill="#ec1c24" font-family="'DejaVu Sans', sans-serif" font-weight="bold">T</text>
<text transform="matrix(0.1663 0 0 0.0576 275.94 896.60)" font-size="100" fill="#3553ac" font-family="'DejaVu Sans', sans-serif" font-weight="bold">C</text>
<text transform="matrix(0.1349 0 0 0.1060 276.70 892.47)" font-size="100" fill="#108040" font-family="'DejaVu Sans', sans-serif" font-weight="bold">A</text>
<text transform="matrix(0.1479 0 0 0.3248 276.03 884.43)" font-size="100" fill="#f9a51b" font-family="'DejaVu Sans', sans-serif" font-weight="bold">G</text>
<text transform="matrix(0.1663 0 0 0.0242 286.68 900.02)" font-size="100" fill="#3553ac" font-family="'DejaVu Sans', sans-serif" font-weight="bold">C</text>
<text transform="matrix(0.1535 0 0 0.0598 287.43 898.37)" font-size="100" fill="#ec1c24" font-family="'DejaVu Sans', sans-serif" font-weight="bold">T</text>
<text transform="matrix(0.1479 0 0 0.1133 286.77 894.00)" font-size="100" fill="#f9a51b" font-family="'DejaVu Sans', sans-serif" font-weight="bold">G</text>
<text transform="matrix(0.1349 0 0 0.2446 287.44 885.74)" font-size="100" fill="#108040" font-family="'DejaVu Sans', sans-serif" font-weight="bold">A</text>
<text transform="matrix(0.1535 0 0 0.0252 308.91 900.05)" font-size="100" fill="#ec1c24" font-family="'DejaVu Sans', sans-serif" font-weight="bold">T</text>
<text transform="matrix(0.1663 0 0 0.0576 308.16 898.28)" font-size="100" fill="#3553ac" font-family="'DejaVu Sans', sans-serif" font-weight="bold">C</text>
<text transform="matrix(0.1349 0 0 0.1522 308.92 894.16)" font-size="100" fill="#108040" font-family="'DejaVu Sans', sans-serif" font-weight="bold">A</text>
<text transform="matrix(0.1479 0 0 0.3137 308.25 882.77)" font-size="100" fill="#f9a51b" font-family="'DejaVu Sans', sans-serif" font-weight="bold">G</text>
<text transform="matrix(0.1535 0 0 0.0252 319.65 900.05)" font-size="100" fill="#ec1c24" font-family="'DejaVu Sans', sans-serif" font-weight="bold">T</text>
<text transform="matrix(0.1663 0 0 0.0465 318.90 898.30)" font-size="100" fill="#3553ac" font-family="'DejaVu Sans', sans-serif" font-weight="bold">C</text>
<text transform="matrix(0.1479 0 0 0.1578 318.99 894.77)" font-size="100" fill="#f9a51b" font-family="'DejaVu Sans', sans-serif" font-weight="bold">G</text>
<text transform="matrix(0.1349 0 0 0.6027 319.66 883.21)" font-size="100" fill="#108040" font-family="'DejaVu Sans', sans-serif" font-weight="bold">A</text>
<text transform="matrix(0.1535 0 0 0.0252 330.39 900.05)" font-size="100" fill="#ec1c24" font-family="'DejaVu Sans', sans-serif" font-weight="bold">T</text>
<text transform="matrix(0.1663 0 0 0.0465 329.64 898.30)" font-size="100" fill="#3553ac" font-family="'DejaVu Sans', sans-serif" font-weight="bold">C</text>
<text transform="matrix(0.1479 0 0 0.1578 329.73 894.77)" font-size="100" fill="#f9a51b" font-family="'DejaVu Sans', sans-serif" font-weight="bold">G</text>
<text transform="matrix(0.1349 0 0 0.8914 330.40 883.21)" font-size="100" fill="#108040" font-family="'DejaVu Sans', sans-serif" font-weight="bold">A</text>
<text transform="matrix(0.1663 0 0 0.0465 340.38 899.98)" font-size="100" fill="#3553ac" font-family="'DejaVu Sans', sans-serif" font-weight="bold">C</text>
<text transform="matrix(0.1535 0 0 0.0598 341.13 896.68)" font-size="100" fill="#ec1c24" font-family="'DejaVu Sans', sans-serif" font-weight="bold">T</text>
<text transform="matrix(0.1349 0 0 0.1060 341.14 892.47)" font-size="100" fill="#108040" font-family="'DejaVu Sans', sans-serif" font-weight="bold">A</text>
<text transform="matrix(0.1479 0 0 0.9705 340.47 883.52)" font-size="100" fill="#f9a51b" font-family="'DejaVu Sans', sans-serif" font-weight="bold">G</text>
<text transform="matrix(0.1663 0 0 0.0242 351.12 900.02)" font-size="100" fill="#3553ac" font-family="'DejaVu Sans', sans-serif" font-weight="bold">C</text>
<text transform="matrix(0.1349 0 0 0.1291 351.88 898.37)" font-size="100" fill="#108040" font-family="'DejaVu Sans', sans-serif" font-weight="bold">A</text>
<text transform="matrix(0.1479 0 0 1.4715 351.21 887.02)" font-size="100" fill="#f9a51b" font-family="'DejaVu Sans', sans-serif" font-weight="bold">G</text>
<text transform="matrix(0.1663 0 0 0.0354 383.34 900.00)" font-size="100" fill="#3553ac" font-family="'DejaVu Sans', sans-serif" font-weight="bold">C</text>
<text transform="matrix(0.1535 0 0 0.0598 384.09 897.52)" font-size="100" fill="#ec1c24" font-family="'DejaVu Sans', sans-serif" font-weight="bold">T</text>
<text transform="matrix(0.1479 0 0 0.1356 383.43 893.12)" font-size="100" fill="#f9a51b" font-family="'DejaVu Sans', sans-serif" font-weight="bold">G</text>
<text transform="matrix(0.1349 0 0 0.7875 384.10 883.21)" font-size="100" fill="#108040" font-family="'DejaVu Sans', sans-serif" font-weight="bold">A</text>
<text transform="matrix(0.1663 0 0 0.0465 394.08 899.98)" font-size="100" fill="#3553ac" font-family="'DejaVu Sans', sans-serif" font-weight="bold">C</text>
<text transform="matrix(0.1535 0 0 0.0829 394.83 896.68)" font-size="100" fill="#ec1c24" font-family="'DejaVu Sans', sans-serif" font-weight="bold">T</text>
<text transform="matrix(0.1349 0 0 0.1060 394.84 890.79)" font-size="100" fill="#108040" font-family="'DejaVu Sans', sans-serif" font-weight="bold">A</text>
<text transform="matrix(0.1479 0 0 0.5363 394.17 882.45)" font-size="100" fill="#f9a51b" font-family="'DejaVu Sans', sans-serif" font-weight="bold">G</text>
<text transform="matrix(0.1663 0 0 0.0242 404.82 900.02)" font-size="100" fill="#3553ac" font-family="'DejaVu Sans', sans-serif" font-weight="bold">C</text>
<text transform="matrix(0.1535 0 0 0.0367 405.57 898.37)" font-size="100" fill="#ec1c24" font-family="'DejaVu Sans', sans-serif" font-weight="bold">T</text>
<text transform="matrix(0.1349 0 0 0.1060 405.58 895.84)" font-size="100" fill="#108040" font-family="'DejaVu Sans', sans-serif" font-weight="bold">A</text>
<text transform="matrix(0.1479 0 0 1.4047 404.91 886.27)" font-size="100" fill="#f9a51b" font-family="'DejaVu Sans', sans-serif" font-weight="bold">G</text>
<text transform="matrix(0.1663 0 0 0.0465 415.56 899.98)" font-size="100" fill="#3553ac" font-family="'DejaVu Sans', sans-serif" font-weight="bold">C</text>
<text transform="matrix(0.1535 0 0 0.0598 416.31 896.68)" font-size="100" fill="#ec1c24" font-family="'DejaVu Sans', sans-serif" font-weight="bold">T</text>
<text transform="matrix(0.1479 0 0 0.1244 415.65 892.30)" font-size="100" fill="#f9a51b" font-family="'DejaVu Sans', sans-serif" font-weight="bold">G</text>
<text transform="matrix(0.1349 0 0 0.8799 416.32 883.21)" font-size="100" fill="#108040" font-family="'DejaVu Sans', sans-serif" font-weight="bold">A</text>
<text transform="matrix(0.1535 0 0 0.0483 427.05 900.05)" font-size="100" fill="#ec1c24" font-family="'DejaVu Sans', sans-serif" font-weight="bold">T</text>
<text transform="matrix(0.1663 0 0 0.0799 426.30 896.57)" font-size="100" fill="#3553ac" font-family="'DejaVu Sans', sans-serif" font-weight="bold">C</text>
<text transform="matrix(0.1349 0 0 0.1060 427.06 890.79)" font-size="100" fill="#108040" font-family="'DejaVu Sans', sans-serif" font-weight="bold">A</text>
<text transform="matrix(0.1479 0 0 0.6365 426.39 882.31)" font-size="100" fill="#f9a51b" font-family="'DejaVu Sans', sans-serif" font-weight="bold">G</text>
<text transform="matrix(0.1663 0 0 0.0131 437.04 900.03)" font-size="100" fill="#3553ac" font-family="'DejaVu Sans', sans-serif" font-weight="bold">C</text>
<text transform="matrix(0.1535 0 0 0.0252 437.79 899.21)" font-size="100" fill="#ec1c24" font-family="'DejaVu Sans', sans-serif" font-weight="bold">T</text>
<text transform="matrix(0.1349 0 0 0.1407 437.80 897.52)" font-size="100" fill="#108040" font-family="'DejaVu Sans', sans-serif" font-weight="bold">A</text>
<text transform="matrix(0.1479 0 0 1.3713 437.13 885.48)" font-size="100" fill="#f9a51b" font-family="'DejaVu Sans', sans-serif" font-weight="bold">G</text>
<text transform="matrix(0.1663 0 0 0.0354 447.78 900.00)" font-size="100" fill="#3553ac" font-family="'DejaVu Sans', sans-serif" font-weight="bold">C</text>
<text transform="matrix(0.1535 0 0 0.0483 448.53 897.52)" font-size="100" fill="#ec1c24" font-family="'DejaVu Sans', sans-serif" font-weight="bold">T</text>
<text transform="matrix(0.1479 0 0 0.1467 447.87 893.95)" font-size="100" fill="#f9a51b" font-family="'DejaVu Sans', sans-serif" font-weight="bold">G</text>
<text transform="matrix(0.1349 0 0 0.6720 448.54 883.21)" font-size="100" fill="#108040" font-family="'DejaVu Sans', sans-serif" font-weight="bold">A</text>
<text transform="matrix(0.1535 0 0 0.0483 459.27 900.05)" font-size="100" fill="#ec1c24" font-family="'DejaVu Sans', sans-serif" font-weight="bold">T</text>
<text transform="matrix(0.1663 0 0 0.0465 458.52 896.62)" font-size="100" fill="#3553ac" font-family="'DejaVu Sans', sans-serif" font-weight="bold">C</text>
<text transform="matrix(0.1349 0 0 0.0945 459.28 893.31)" font-size="100" fill="#108040" font-family="'DejaVu Sans', sans-serif" font-weight="bold">A</text>
<text transform="matrix(0.1479 0 0 0.2135 458.61 886.28)" font-size="100" fill="#f9a51b" font-family="'DejaVu Sans', sans-serif" font-weight="bold">G</text>
<text transform="matrix(0.1535 0 0 0.0367 470.01 900.05)" font-size="100" fill="#ec1c24" font-family="'DejaVu Sans', sans-serif" font-weight="bold">T</text>
<text transform="matrix(0.1663 0 0 0.0576 469.26 897.44)" font-size="100" fill="#3553ac" font-family="'DejaVu Sans', sans-serif" font-weight="bold">C</text>
<text transform="matrix(0.1349 0 0 0.1407 470.02 893.31)" font-size="100" fill="#108040" font-family="'DejaVu Sans', sans-serif" font-weight="bold">A</text>
<text transform="matrix(0.1479 0 0 0.9705 469.35 881.84)" font-size="100" fill="#f9a51b" font-family="'DejaVu Sans', sans-serif" font-weight="bold">G</text>
<text transform="matrix(0.1535 0 0 0.0598 480.75 900.05)" font-size="100" fill="#ec1c24" font-family="'DejaVu Sans', sans-serif" font-weight="bold">T</text>
<text transform="matrix(0.1663 0 0 0.0576 480.00 895.76)" font-size="100" fill="#3553ac" font-family="'DejaVu Sans', sans-serif" font-weight="bold">C</text>
<text transform="matrix(0.1479 0 0 0.1133 480.09 891.47)" font-size="100" fill="#f9a51b" font-family="'DejaVu Sans', sans-serif" font-weight="bold">G</text>
<text transform="matrix(0.1349 0 0 0.5565 480.76 883.21)" font-size="100" fill="#108040" font-family="'DejaVu Sans', sans-serif" font-weight="bold">A</text>
<text transform="matrix(0.1535 0 0 0.0367 491.49 900.05)" font-size="100" fill="#ec1c24" font-family="'DejaVu Sans', sans-serif" font-weight="bold">T</text>
<text transform="matrix(0.1663 0 0 0.0465 490.74 897.46)" font-size="100" fill="#3553ac" font-family="'DejaVu Sans', sans-serif" font-weight="bold">C</text>
<text transform="matrix(0.1349 0 0 0.1522 491.50 894.16)" font-size="100" fill="#108040" font-family="'DejaVu Sans', sans-serif" font-weight="bold">A</text>
<text transform="matrix(0.1479 0 0 0.4139 490.83 882.62)" font-size="100" fill="#f9a51b" font-family="'DejaVu Sans', sans-serif" font-weight="bold">G</text>
<text transform="matrix(0.1663 0 0 0.0242 501.48 900.02)" font-size="100" fill="#3553ac" font-family="'DejaVu Sans', sans-serif" font-weight="bold">C</text>
<text transform="matrix(0.1535 0 0 0.0483 502.23 898.37)" font-size="100" fill="#ec1c24" font-family="'DejaVu Sans', sans-serif" font-weight="bold">T</text>
<text transform="matrix(0.1349 0 0 0.2215 502.24 895.00)" font-size="100" fill="#108040" font-family="'DejaVu Sans', sans-serif" font-weight="bold">A</text>
<text transform="matrix(0.1479 0 0 0.6365 501.57 878.10)" font-size="100" fill="#f9a51b" font-family="'DejaVu Sans', sans-serif" font-weight="bold">G</text>
<text transform="matrix(0.1535 0 0 0.0483 512.97 900.05)" font-size="100" fill="#ec1c24" font-family="'DejaVu Sans', sans-serif" font-weight="bold">T</text>
<text transform="matrix(0.1663 0 0 0.0465 512.22 896.62)" font-size="100" fill="#3553ac" font-family="'DejaVu Sans', sans-serif" font-weight="bold">C</text>
<text transform="matrix(0.1479 0 0 0.1022 512.31 893.17)" font-size="100" fill="#f9a51b" font-family="'DejaVu Sans', sans-serif" font-weight="bold">G</text>
<text transform="matrix(0.1349 0 0 0.2677 512.98 885.74)" font-size="100" fill="#108040" font-family="'DejaVu Sans', sans-serif" font-weight="bold">A</text>
<text transform="matrix(0.1663 0 0 0.0354 522.96 900.00)" font-size="100" fill="#3553ac" font-family="'DejaVu Sans', sans-serif" font-weight="bold">C</text>
<text transform="matrix(0.1535 0 0 0.0483 523.71 897.52)" font-size="100" fill="#ec1c24" font-family="'DejaVu Sans', sans-serif" font-weight="bold">T</text>
<text transform="matrix(0.1349 0 0 0.1753 523.72 894.16)" font-size="100" fill="#108040" font-family="'DejaVu Sans', sans-serif" font-weight="bold">A</text>
<text transform="matrix(0.1479 0 0 0.4807 523.05 880.85)" font-size="100" fill="#f9a51b" font-family="'DejaVu Sans', sans-serif" font-weight="bold">G</text>
<text transform="matrix(0.1535 0 0 0.0367 534.45 900.05)" font-size="100" fill="#ec1c24" font-family="'DejaVu Sans', sans-serif" font-weight="bold">T</text>
<text transform="matrix(0.1663 0 0 0.0576 533.70 897.44)" font-size="100" fill="#3553ac" font-family="'DejaVu Sans', sans-serif" font-weight="bold">C</text>
<text transform="matrix(0.1349 0 0 0.1407 534.46 893.31)" font-size="100" fill="#108040" font-family="'DejaVu Sans', sans-serif" font-weight="bold">A</text>
<text transform="matrix(0.1479 0 0 0.4473 533.79 882.58)" font-size="100" fill="#f9a51b" font-family="'DejaVu Sans', sans-serif" font-weight="bold">G</text>
<text transform="matrix(0.1663 0 0 0.0465 544.44 899.98)" font-size="100" fill="#3553ac" font-family="'DejaVu Sans', sans-serif" font-weight="bold">C</text>
<text transform="matrix(0.1535 0 0 0.0598 545.19 896.68)" font-size="100" fill="#ec1c24" font-family="'DejaVu Sans', sans-serif" font-weight="bold">T</text>
<text transform="matrix(0.1479 0 0 0.0799 544.53 892.36)" font-size="100" fill="#f9a51b" font-family="'DejaVu Sans', sans-serif" font-weight="bold">G</text>
<text transform="matrix(0.1349 0 0 0.2793 545.20 886.58)" font-size="100" fill="#108040" font-family="'DejaVu Sans', sans-serif" font-weight="bold">A</text>
<text transform="matrix(0.1535 0 0 0.0483 555.93 900.05)" font-size="100" fill="#ec1c24" font-family="'DejaVu Sans', sans-serif" font-weight="bold">T</text>
<text transform="matrix(0.1663 0 0 0.0576 555.18 896.60)" font-size="100" fill="#3553ac" font-family="'DejaVu Sans', sans-serif" font-weight="bold">C</text>
<text transform="matrix(0.1349 0 0 0.1291 555.94 892.47)" font-size="100" fill="#108040" font-family="'DejaVu Sans', sans-serif" font-weight="bold">A</text>
<text transform="matrix(0.1479 0 0 0.4250 555.27 882.61)" font-size="100" fill="#f9a51b" font-family="'DejaVu Sans', sans-serif" font-weight="bold">G</text>
<text transform="matrix(0.1663 0 0 0.0242 565.92 900.02)" font-size="100" fill="#3553ac" font-family="'DejaVu Sans', sans-serif" font-weight="bold">C</text>
<text transform="matrix(0.1535 0 0 0.0483 566.67 898.37)" font-size="100" fill="#ec1c24" font-family="'DejaVu Sans', sans-serif" font-weight="bold">T</text>
<text transform="matrix(0.1349 0 0 0.1291 566.68 895.00)" font-size="100" fill="#108040" font-family="'DejaVu Sans', sans-serif" font-weight="bold">A</text>
<text transform="matrix(0.1479 0 0 0.2358 566.01 885.40)" font-size="100" fill="#f9a51b" font-family="'DejaVu Sans', sans-serif" font-weight="bold">G</text>
<text transform="matrix(0.1663 0 0 0.0242 576.66 900.02)" font-size="100" fill="#3553ac" font-family="'DejaVu Sans', sans-serif" font-weight="bold">C</text>
<text transform="matrix(0.1535 0 0 0.0367 577.41 898.37)" font-size="100" fill="#ec1c24" font-family="'DejaVu Sans', sans-serif" font-weight="bold">T</text>
<text transform="matrix(0.1479 0 0 0.0688 576.75 895.74)" font-size="100" fill="#f9a51b" font-family="'DejaVu Sans', sans-serif" font-weight="bold">G</text>
<text transform="matrix(0.1349 0 0 0.1291 577.42 890.79)" font-size="100" fill="#108040" font-family="'DejaVu Sans', sans-serif" font-weight="bold">A</text>
<text transform="matrix(0.1535 0 0 0.0367 588.15 900.05)" font-size="100" fill="#ec1c24" font-family="'DejaVu Sans', sans-serif" font-weight="bold">T</text>
<text transform="matrix(0.1663 0 0 0.0354 587.40 897.47)" font-size="100" fill="#3553ac" font-family="'DejaVu Sans', sans-serif" font-weight="bold">C</text>
<text transform="matrix(0.1349 0 0 0.1407 588.16 895.00)" font-size="100" fill="#108040" font-family="'DejaVu Sans', sans-serif" font-weight="bold">A</text>
<text transform="matrix(0.1479 0 0 0.1912 587.49 884.62)" font-size="100" fill="#f9a51b" font-family="'DejaVu Sans', sans-serif" font-weight="bold">G</text>
<text x="205.17" y="903" font-size="9.4" font-family="'DejaVu Sans', sans-serif">0.00</text>
<path d="M230.4 899.6h3.5" stroke="#222" stroke-width="0.8"/>
<text x="205.17" y="881.95" font-size="9.4" font-family="'DejaVu Sans', sans-serif">0.25</text>
<path d="M230.4 878.55h3.5" stroke="#222" stroke-width="0.8"/>
<text x="205.17" y="860.9" font-size="9.4" font-family="'DejaVu Sans', sans-serif">0.50</text>
<path d="M230.4 857.5h3.5" stroke="#222" stroke-width="0.8"/>
<text x="205.17" y="839.85" font-size="9.4" font-family="'DejaVu Sans', sans-serif">0.75</text>
<path d="M230.4 836.45h3.5" stroke="#222" stroke-width="0.8"/>
<text x="205.17" y="818.8" font-size="9.4" font-family="'DejaVu Sans', sans-serif">1.00</text>
<path d="M230.4 815.4h3.5" stroke="#222" stroke-width="0.8"/>
<text x="205.17" y="797.75" font-size="9.4" font-family="'DejaVu Sans', sans-serif">1.25</text>
<path d="M230.4 794.35h3.5" stroke="#222" stroke-width="0.8"/>
<path d="M238.96 900.7v3M249.7 900.7v3M260.44 900.7v3M271.18 900.7v3M281.92 900.7v3M292.66 900.7v3M303.4 900.7v3M314.14 900.7v3M324.88 900.7v3M335.62 900.7v3M346.36 900.7v3M357.1 900.7v3M367.84 900.7v3M378.58 900.7v3M389.32 900.7v3M400.06 900.7v3M410.8 900.7v3M421.54 900.7v3M432.28 900.7v3M443.02 900.7v3M453.76 900.7v3M464.5 900.7v3M475.24 900.7v3M485.98 900.7v3M496.72 900.7v3M507.46 900.7v3M518.2 900.7v3M528.94 900.7v3M539.68 900.7v3M550.42 900.7v3M561.16 900.7v3M571.9 900.7v3M582.64 900.7v3M593.38 900.7v3" stroke="#222" stroke-width="0.8" fill="none"/>
<text x="243.72" y="913.5" font-size="9.4" font-family="'DejaVu Sans', sans-serif">30</text>
<text x="254.46" y="913.5" font-size="9.4" font-family="'DejaVu Sans', sans-serif">29</text>
<text x="265.2" y="913.5" font-size="9.4" font-family="'DejaVu Sans', sans-serif">28</text>
<text x="275.94" y="913.5" font-size="9.4" font-family="'DejaVu Sans', sans-serif">27</text>
<text x="286.68" y="913.5" font-size="9.4" font-family="'DejaVu Sans', sans-serif">26</text>
<text x="301.7" y="913.5" font-size="9.4" font-family="'DejaVu Sans', sans-serif">-</text>
<text x="308.16" y="913.5" font-size="9.4" font-family="'DejaVu Sans', sans-serif">25</text>
<text x="318.9" y="913.5" font-size="9.4" font-family="'DejaVu Sans', sans-serif">24</text>
<text x="329.64" y="913.5" font-size="9.4" font-family="'DejaVu Sans', sans-serif">23</text>
<text x="340.38" y="913.5" font-size="9.4" font-family="'DejaVu Sans', sans-serif">22</text>
<text x="351.12" y="913.5" font-size="9.4" font-family="'DejaVu Sans', sans-serif">21</text>
<text x="366.14" y="913.5" font-size="9.4" font-family="'DejaVu Sans', sans-serif">-</text>
<text x="376.88" y="913.5" font-size="9.4" font-family="'DejaVu Sans', sans-serif">-</text>
<text x="383.34" y="913.5" font-size="9.4" font-family="'DejaVu Sans', sans-serif">20</text>
<text x="394.08" y="913.5" font-size="9.4" font-family="'DejaVu Sans', sans-serif">19</text>
<text x="404.82" y="913.5" font-size="9.4" font-family="'DejaVu Sans', sans-serif">18</text>
<text x="415.56" y="913.5" font-size="9.4" font-family="'DejaVu Sans', sans-serif">17</text>
<text x="426.3" y="913.5" font-size="9.4" font-family="'DejaVu Sans', sans-serif">16</text>
<text x="437.04" y="913.5" font-size="9.4" font-family="'DejaVu Sans', sans-serif">15</text>
<text x="447.78" y="913.5" font-size="9.4" font-family="'DejaVu Sans', sans-serif">14</text>
<text x="458.52" y="913.5" font-size="9.4" font-family="'DejaVu Sans', sans-serif">13</text>
<text x="469.26" y="913.5" font-size="9.4" font-family="'DejaVu Sans', sans-serif">12</text>
<text x="480" y="913.5" font-size="9.4" font-family="'DejaVu Sans', sans-serif">11</text>
<text x="490.74" y="913.5" font-size="9.4" font-family="'DejaVu Sans', sans-serif">10</text>
<text x="504.47" y="913.5" font-size="9.4" font-family="'DejaVu Sans', sans-serif">9</text>
<text x="515.21" y="913.5" font-size="9.4" font-family="'DejaVu Sans', sans-serif">8</text>
<text x="525.95" y="913.5" font-size="9.4" font-family="'DejaVu Sans', sans-serif">7</text>
<text x="536.69" y="913.5" font-size="9.4" font-family="'DejaVu Sans', sans-serif">6</text>
<text x="547.43" y="913.5" font-size="9.4" font-family="'DejaVu Sans', sans-serif">5</text>
<text x="558.17" y="913.5" font-size="9.4" font-family="'DejaVu Sans', sans-serif">4</text>
<text x="568.91" y="913.5" font-size="9.4" font-family="'DejaVu Sans', sans-serif">3</text>
<text x="579.65" y="913.5" font-size="9.4" font-family="'DejaVu Sans', sans-serif">2</text>
<text x="590.39" y="913.5" font-size="9.4" font-family="'DejaVu Sans', sans-serif">1</text>
<text x="237.26" y="913.5" font-size="9.4" font-family="'DejaVu Sans', sans-serif">-</text>
<text transform="matrix(0.1249 0 0 0.0347 309.90 1077.35)" font-size="100" fill="#ec1c24" font-family="'DejaVu Sans', sans-serif" font-weight="bold">T</text>
<text transform="matrix(0.1203 0 0 0.0439 309.37 1074.91)" font-size="100" fill="#f9a51b" font-family="'DejaVu Sans', sans-serif" font-weight="bold">G</text>
<text transform="matrix(0.1098 0 0 0.1000 309.91 1071.80)" font-size="100" fill="#108040" font-family="'DejaVu Sans', sans-serif" font-weight="bold">A</text>
<text transform="matrix(0.1353 0 0 0.1068 309.29 1064.51)" font-size="100" fill="#3553ac" font-family="'DejaVu Sans', sans-serif" font-weight="bold">C</text>
<text transform="matrix(0.1353 0 0 0.0649 318.03 1077.26)" font-size="100" fill="#3553ac" font-family="'DejaVu Sans', sans-serif" font-weight="bold">C</text>
<text transform="matrix(0.1249 0 0 0.0673 318.64 1072.59)" font-size="100" fill="#ec1c24" font-family="'DejaVu Sans', sans-serif" font-weight="bold">T</text>
<text transform="matrix(0.1203 0 0 0.0859 318.11 1067.71)" font-size="100" fill="#f9a51b" font-family="'DejaVu Sans', sans-serif" font-weight="bold">G</text>
<text transform="matrix(0.1098 0 0 0.6765 318.65 1061.49)" font-size="100" fill="#108040" font-family="'DejaVu Sans', sans-serif" font-weight="bold">A</text>
<text transform="matrix(0.1203 0 0 0.0649 326.85 1077.26)" font-size="100" fill="#f9a51b" font-family="'DejaVu Sans', sans-serif" font-weight="bold">G</text>
<text transform="matrix(0.1249 0 0 0.0782 327.38 1072.59)" font-size="100" fill="#ec1c24" font-family="'DejaVu Sans', sans-serif" font-weight="bold">T</text>
<text transform="matrix(0.1353 0 0 0.0754 326.77 1066.93)" font-size="100" fill="#3553ac" font-family="'DejaVu Sans', sans-serif" font-weight="bold">C</text>
<text transform="matrix(0.1098 0 0 0.8505 327.39 1061.49)" font-size="100" fill="#108040" font-family="'DejaVu Sans', sans-serif" font-weight="bold">A</text>
<text transform="matrix(0.1249 0 0 0.0564 336.12 1077.35)" font-size="100" fill="#ec1c24" font-family="'DejaVu Sans', sans-serif" font-weight="bold">T</text>
<text transform="matrix(0.1353 0 0 0.0439 335.51 1073.32)" font-size="100" fill="#3553ac" font-family="'DejaVu Sans', sans-serif" font-weight="bold">C</text>
<text transform="matrix(0.1098 0 0 0.0782 336.13 1070.21)" font-size="100" fill="#108040" font-family="'DejaVu Sans', sans-serif" font-weight="bold">A</text>
<text transform="matrix(0.1203 0 0 1.1763 335.59 1063.00)" font-size="100" fill="#f9a51b" font-family="'DejaVu Sans', sans-serif" font-weight="bold">G</text>
<text transform="matrix(0.1353 0 0 0.0439 344.25 1077.29)" font-size="100" fill="#3553ac" font-family="'DejaVu Sans', sans-serif" font-weight="bold">C</text>
<text transform="matrix(0.1249 0 0 0.0673 344.86 1074.18)" font-size="100" fill="#ec1c24" font-family="'DejaVu Sans', sans-serif" font-weight="bold">T</text>
<text transform="matrix(0.1098 0 0 0.1000 344.87 1069.42)" font-size="100" fill="#108040" font-family="'DejaVu Sans', sans-serif" font-weight="bold">A</text>
<text transform="matrix(0.1203 0 0 0.9980 344.33 1060.87)" font-size="100" fill="#f9a51b" font-family="'DejaVu Sans', sans-serif" font-weight="bold">G</text>
<text transform="matrix(0.1353 0 0 0.0334 352.99 1077.30)" font-size="100" fill="#3553ac" font-family="'DejaVu Sans', sans-serif" font-weight="bold">C</text>
<text transform="matrix(0.1203 0 0 0.0334 353.07 1074.92)" font-size="100" fill="#f9a51b" font-family="'DejaVu Sans', sans-serif" font-weight="bold">G</text>
<text transform="matrix(0.1249 0 0 0.0782 353.60 1072.59)" font-size="100" fill="#ec1c24" font-family="'DejaVu Sans', sans-serif" font-weight="bold">T</text>
<text transform="matrix(0.1098 0 0 1.4923 353.61 1067.04)" font-size="100" fill="#108040" font-family="'DejaVu Sans', sans-serif" font-weight="bold">A</text>
<text transform="matrix(0.1203 0 0 0.0334 361.81 1077.30)" font-size="100" fill="#f9a51b" font-family="'DejaVu Sans', sans-serif" font-weight="bold">G</text>
<text transform="matrix(0.1353 0 0 0.0230 361.73 1074.94)" font-size="100" fill="#3553ac" font-family="'DejaVu Sans', sans-serif" font-weight="bold">C</text>
<text transform="matrix(0.1249 0 0 0.0347 362.34 1073.39)" font-size="100" fill="#ec1c24" font-family="'DejaVu Sans', sans-serif" font-weight="bold">T</text>
<text transform="matrix(0.1098 0 0 0.0673 362.35 1071.01)" font-size="100" fill="#108040" font-family="'DejaVu Sans', sans-serif" font-weight="bold">A</text>
<text transform="matrix(0.1353 0 0 0.0544 370.47 1077.27)" font-size="100" fill="#3553ac" font-family="'DejaVu Sans', sans-serif" font-weight="bold">C</text>
<text transform="matrix(0.1249 0 0 0.0782 371.08 1073.39)" font-size="100" fill="#ec1c24" font-family="'DejaVu Sans', sans-serif" font-weight="bold">T</text>
<text transform="matrix(0.1098 0 0 0.0891 371.09 1067.83)" font-size="100" fill="#108040" font-family="'DejaVu Sans', sans-serif" font-weight="bold">A</text>
<text transform="matrix(0.1203 0 0 0.7359 370.55 1060.45)" font-size="100" fill="#f9a51b" font-family="'DejaVu Sans', sans-serif" font-weight="bold">G</text>
<text transform="matrix(0.1203 0 0 0.0544 379.29 1077.27)" font-size="100" fill="#f9a51b" font-family="'DejaVu Sans', sans-serif" font-weight="bold">G</text>
<text transform="matrix(0.1353 0 0 0.0544 379.21 1073.31)" font-size="100" fill="#3553ac" font-family="'DejaVu Sans', sans-serif" font-weight="bold">C</text>
<text transform="matrix(0.1098 0 0 0.1108 379.83 1069.42)" font-size="100" fill="#108040" font-family="'DejaVu Sans', sans-serif" font-weight="bold">A</text>
<text transform="matrix(0.1249 0 0 0.7309 379.82 1061.49)" font-size="100" fill="#ec1c24" font-family="'DejaVu Sans', sans-serif" font-weight="bold">T</text>
<text transform="matrix(0.1249 0 0 0.0347 388.56 1077.35)" font-size="100" fill="#ec1c24" font-family="'DejaVu Sans', sans-serif" font-weight="bold">T</text>
<text transform="matrix(0.1203 0 0 0.0230 388.03 1074.94)" font-size="100" fill="#f9a51b" font-family="'DejaVu Sans', sans-serif" font-weight="bold">G</text>
<text transform="matrix(0.1353 0 0 0.0439 387.95 1073.32)" font-size="100" fill="#3553ac" font-family="'DejaVu Sans', sans-serif" font-weight="bold">C</text>
<text transform="matrix(0.1098 0 0 0.0782 388.57 1070.21)" font-size="100" fill="#108040" font-family="'DejaVu Sans', sans-serif" font-weight="bold">A</text>
<text transform="matrix(0.1098 0 0 0.0456 397.31 1077.35)" font-size="100" fill="#108040" font-family="'DejaVu Sans', sans-serif" font-weight="bold">A</text>
<text transform="matrix(0.1249 0 0 0.0673 397.30 1074.18)" font-size="100" fill="#ec1c24" font-family="'DejaVu Sans', sans-serif" font-weight="bold">T</text>
<text transform="matrix(0.1353 0 0 0.0544 396.69 1069.34)" font-size="100" fill="#3553ac" font-family="'DejaVu Sans', sans-serif" font-weight="bold">C</text>
<text transform="matrix(0.1203 0 0 0.2012 396.77 1065.17)" font-size="100" fill="#f9a51b" font-family="'DejaVu Sans', sans-serif" font-weight="bold">G</text>
<text transform="matrix(0.1098 0 0 0.0673 406.05 1077.35)" font-size="100" fill="#108040" font-family="'DejaVu Sans', sans-serif" font-weight="bold">A</text>
<text transform="matrix(0.1249 0 0 0.0564 406.04 1072.59)" font-size="100" fill="#ec1c24" font-family="'DejaVu Sans', sans-serif" font-weight="bold">T</text>
<text transform="matrix(0.1353 0 0 0.0649 405.43 1068.54)" font-size="100" fill="#3553ac" font-family="'DejaVu Sans', sans-serif" font-weight="bold">C</text>
<text transform="matrix(0.1203 0 0 1.0819 405.51 1062.34)" font-size="100" fill="#f9a51b" font-family="'DejaVu Sans', sans-serif" font-weight="bold">G</text>
<text transform="matrix(0.1249 0 0 0.0564 414.78 1077.35)" font-size="100" fill="#ec1c24" font-family="'DejaVu Sans', sans-serif" font-weight="bold">T</text>
<text transform="matrix(0.1353 0 0 0.0859 414.17 1073.26)" font-size="100" fill="#3553ac" font-family="'DejaVu Sans', sans-serif" font-weight="bold">C</text>
<text transform="matrix(0.1203 0 0 0.0754 414.25 1066.93)" font-size="100" fill="#f9a51b" font-family="'DejaVu Sans', sans-serif" font-weight="bold">G</text>
<text transform="matrix(0.1098 0 0 0.7635 414.79 1061.49)" font-size="100" fill="#108040" font-family="'DejaVu Sans', sans-serif" font-weight="bold">A</text>
<text transform="matrix(0.1203 0 0 0.0334 422.99 1077.30)" font-size="100" fill="#f9a51b" font-family="'DejaVu Sans', sans-serif" font-weight="bold">G</text>
<text transform="matrix(0.1098 0 0 0.0564 423.53 1074.97)" font-size="100" fill="#108040" font-family="'DejaVu Sans', sans-serif" font-weight="bold">A</text>
<text transform="matrix(0.1249 0 0 0.1543 423.52 1071.01)" font-size="100" fill="#ec1c24" font-family="'DejaVu Sans', sans-serif" font-weight="bold">T</text>
<text transform="matrix(0.1353 0 0 0.2956 422.91 1059.49)" font-size="100" fill="#3553ac" font-family="'DejaVu Sans', sans-serif" font-weight="bold">C</text>
<text transform="matrix(0.1353 0 0 0.0334 431.65 1077.30)" font-size="100" fill="#3553ac" font-family="'DejaVu Sans', sans-serif" font-weight="bold">C</text>
<text transform="matrix(0.1249 0 0 0.0456 432.26 1074.97)" font-size="100" fill="#ec1c24" font-family="'DejaVu Sans', sans-serif" font-weight="bold">T</text>
<text transform="matrix(0.1203 0 0 0.0544 431.73 1071.72)" font-size="100" fill="#f9a51b" font-family="'DejaVu Sans', sans-serif" font-weight="bold">G</text>
<text transform="matrix(0.1098 0 0 1.4814 432.27 1067.83)" font-size="100" fill="#108040" font-family="'DejaVu Sans', sans-serif" font-weight="bold">A</text>
<text transform="matrix(0.1249 0 0 0.0564 441.00 1077.35)" font-size="100" fill="#ec1c24" font-family="'DejaVu Sans', sans-serif" font-weight="bold">T</text>
<text transform="matrix(0.1203 0 0 0.0439 440.47 1073.32)" font-size="100" fill="#f9a51b" font-family="'DejaVu Sans', sans-serif" font-weight="bold">G</text>
<text transform="matrix(0.1353 0 0 0.1173 440.39 1070.05)" font-size="100" fill="#3553ac" font-family="'DejaVu Sans', sans-serif" font-weight="bold">C</text>
<text transform="matrix(0.1098 0 0 0.3501 441.01 1061.49)" font-size="100" fill="#108040" font-family="'DejaVu Sans', sans-serif" font-weight="bold">A</text>
<text transform="matrix(0.1249 0 0 0.0782 449.74 1077.35)" font-size="100" fill="#ec1c24" font-family="'DejaVu Sans', sans-serif" font-weight="bold">T</text>
<text transform="matrix(0.1353 0 0 0.0649 449.13 1071.71)" font-size="100" fill="#3553ac" font-family="'DejaVu Sans', sans-serif" font-weight="bold">C</text>
<text transform="matrix(0.1203 0 0 0.0754 449.21 1066.93)" font-size="100" fill="#f9a51b" font-family="'DejaVu Sans', sans-serif" font-weight="bold">G</text>
<text transform="matrix(0.1098 0 0 0.6765 449.75 1061.49)" font-size="100" fill="#108040" font-family="'DejaVu Sans', sans-serif" font-weight="bold">A</text>
<text transform="matrix(0.1203 0 0 0.0544 457.95 1077.27)" font-size="100" fill="#f9a51b" font-family="'DejaVu Sans', sans-serif" font-weight="bold">G</text>
<text transform="matrix(0.1249 0 0 0.0891 458.48 1073.39)" font-size="100" fill="#ec1c24" font-family="'DejaVu Sans', sans-serif" font-weight="bold">T</text>
<text transform="matrix(0.1353 0 0 0.0754 457.87 1066.93)" font-size="100" fill="#3553ac" font-family="'DejaVu Sans', sans-serif" font-weight="bold">C</text>
<text transform="matrix(0.1098 0 0 0.7853 458.49 1061.49)" font-size="100" fill="#108040" font-family="'DejaVu Sans', sans-serif" font-weight="bold">A</text>
<text transform="matrix(0.1203 0 0 0.0334 466.69 1077.30)" font-size="100" fill="#f9a51b" font-family="'DejaVu Sans', sans-serif" font-weight="bold">G</text>
<text transform="matrix(0.1249 0 0 0.0347 467.22 1074.97)" font-size="100" fill="#ec1c24" font-family="'DejaVu Sans', sans-serif" font-weight="bold">T</text>
<text transform="matrix(0.1353 0 0 0.1697 466.61 1072.35)" font-size="100" fill="#3553ac" font-family="'DejaVu Sans', sans-serif" font-weight="bold">C</text>
<text transform="matrix(0.1098 0 0 0.2305 467.23 1059.90)" font-size="100" fill="#108040" font-family="'DejaVu Sans', sans-serif" font-weight="bold">A</text>
<text transform="matrix(0.1249 0 0 0.0564 475.96 1077.35)" font-size="100" fill="#ec1c24" font-family="'DejaVu Sans', sans-serif" font-weight="bold">T</text>
<text transform="matrix(0.1353 0 0 0.0544 475.35 1073.31)" font-size="100" fill="#3553ac" font-family="'DejaVu Sans', sans-serif" font-weight="bold">C</text>
<text transform="matrix(0.1203 0 0 0.0649 475.43 1069.33)" font-size="100" fill="#f9a51b" font-family="'DejaVu Sans', sans-serif" font-weight="bold">G</text>
<text transform="matrix(0.1098 0 0 0.2849 475.97 1064.66)" font-size="100" fill="#108040" font-family="'DejaVu Sans', sans-serif" font-weight="bold">A</text>
<text transform="matrix(0.1249 0 0 0.0673 484.70 1077.35)" font-size="100" fill="#ec1c24" font-family="'DejaVu Sans', sans-serif" font-weight="bold">T</text>
<text transform="matrix(0.1203 0 0 0.0649 484.17 1072.50)" font-size="100" fill="#f9a51b" font-family="'DejaVu Sans', sans-serif" font-weight="bold">G</text>
<text transform="matrix(0.1353 0 0 0.0859 484.09 1067.71)" font-size="100" fill="#3553ac" font-family="'DejaVu Sans', sans-serif" font-weight="bold">C</text>
<text transform="matrix(0.1098 0 0 0.4372 484.71 1061.49)" font-size="100" fill="#108040" font-family="'DejaVu Sans', sans-serif" font-weight="bold">A</text>
<text transform="matrix(0.1098 0 0 0.0347 493.45 1077.35)" font-size="100" fill="#108040" font-family="'DejaVu Sans', sans-serif" font-weight="bold">A</text>
<text transform="matrix(0.1353 0 0 0.0439 492.83 1074.91)" font-size="100" fill="#3553ac" font-family="'DejaVu Sans', sans-serif" font-weight="bold">C</text>
<text transform="matrix(0.1249 0 0 0.0891 493.44 1071.80)" font-size="100" fill="#ec1c24" font-family="'DejaVu Sans', sans-serif" font-weight="bold">T</text>
<text transform="matrix(0.1203 0 0 0.1593 492.91 1065.23)" font-size="100" fill="#f9a51b" font-family="'DejaVu Sans', sans-serif" font-weight="bold">G</text>
<text transform="matrix(0.1353 0 0 0.0334 501.57 1077.30)" font-size="100" fill="#3553ac" font-family="'DejaVu Sans', sans-serif" font-weight="bold">C</text>
<text transform="matrix(0.1098 0 0 0.0782 502.19 1074.97)" font-size="100" fill="#108040" font-family="'DejaVu Sans', sans-serif" font-weight="bold">A</text>
<text transform="matrix(0.1249 0 0 0.1108 502.18 1069.42)" font-size="100" fill="#ec1c24" font-family="'DejaVu Sans', sans-serif" font-weight="bold">T</text>
<text transform="matrix(0.1203 0 0 0.3480 501.65 1061.00)" font-size="100" fill="#f9a51b" font-family="'DejaVu Sans', sans-serif" font-weight="bold">G</text>
<text transform="matrix(0.1353 0 0 0.0334 510.31 1077.30)" font-size="100" fill="#3553ac" font-family="'DejaVu Sans', sans-serif" font-weight="bold">C</text>
<text transform="matrix(0.1249 0 0 0.0782 510.92 1074.97)" font-size="100" fill="#ec1c24" font-family="'DejaVu Sans', sans-serif" font-weight="bold">T</text>
<text transform="matrix(0.1098 0 0 0.1108 510.93 1069.42)" font-size="100" fill="#108040" font-family="'DejaVu Sans', sans-serif" font-weight="bold">A</text>
<text transform="matrix(0.1203 0 0 0.3480 510.39 1061.00)" font-size="100" fill="#f9a51b" font-family="'DejaVu Sans', sans-serif" font-weight="bold">G</text>
<text transform="matrix(0.1203 0 0 0.0334 519.13 1077.30)" font-size="100" fill="#f9a51b" font-family="'DejaVu Sans', sans-serif" font-weight="bold">G</text>
<text transform="matrix(0.1249 0 0 0.0456 519.66 1074.97)" font-size="100" fill="#ec1c24" font-family="'DejaVu Sans', sans-serif" font-weight="bold">T</text>
<text transform="matrix(0.1353 0 0 0.0544 519.05 1071.72)" font-size="100" fill="#3553ac" font-family="'DejaVu Sans', sans-serif" font-weight="bold">C</text>
<text transform="matrix(0.1098 0 0 0.1108 519.67 1067.83)" font-size="100" fill="#108040" font-family="'DejaVu Sans', sans-serif" font-weight="bold">A</text>
<text transform="matrix(0.1353 0 0 0.0334 527.79 1077.30)" font-size="100" fill="#3553ac" font-family="'DejaVu Sans', sans-serif" font-weight="bold">C</text>
<text transform="matrix(0.1249 0 0 0.0347 528.40 1074.97)" font-size="100" fill="#ec1c24" font-family="'DejaVu Sans', sans-serif" font-weight="bold">T</text>
<text transform="matrix(0.1098 0 0 0.0564 528.41 1072.59)" font-size="100" fill="#108040" font-family="'DejaVu Sans', sans-serif" font-weight="bold">A</text>
<text transform="matrix(0.1203 0 0 1.4593 527.87 1066.56)" font-size="100" fill="#f9a51b" font-family="'DejaVu Sans', sans-serif" font-weight="bold">G</text>
<text transform="matrix(0.1249 0 0 0.0456 537.14 1077.35)" font-size="100" fill="#ec1c24" font-family="'DejaVu Sans', sans-serif" font-weight="bold">T</text>
<text transform="matrix(0.1353 0 0 0.0334 536.53 1074.13)" font-size="100" fill="#3553ac" font-family="'DejaVu Sans', sans-serif" font-weight="bold">C</text>
<text transform="matrix(0.1203 0 0 0.0334 536.61 1071.75)" font-size="100" fill="#f9a51b" font-family="'DejaVu Sans', sans-serif" font-weight="bold">G</text>
<text transform="matrix(0.1098 0 0 1.5793 537.15 1069.42)" font-size="100" fill="#108040" font-family="'DejaVu Sans', sans-serif" font-weight="bold">A</text>
<text transform="matrix(0.1249 0 0 0.0564 545.88 1077.35)" font-size="100" fill="#ec1c24" font-family="'DejaVu Sans', sans-serif" font-weight="bold">T</text>
<text transform="matrix(0.1353 0 0 0.0439 545.27 1073.32)" font-size="100" fill="#3553ac" font-family="'DejaVu Sans', sans-serif" font-weight="bold">C</text>
<text transform="matrix(0.1098 0 0 0.0782 545.89 1070.21)" font-size="100" fill="#108040" font-family="'DejaVu Sans', sans-serif" font-weight="bold">A</text>
<text transform="matrix(0.1203 0 0 1.1763 545.35 1063.00)" font-size="100" fill="#f9a51b" font-family="'DejaVu Sans', sans-serif" font-weight="bold">G</text>
<text transform="matrix(0.1353 0 0 0.0334 554.01 1077.30)" font-size="100" fill="#3553ac" font-family="'DejaVu Sans', sans-serif" font-weight="bold">C</text>
<text transform="matrix(0.1249 0 0 0.0673 554.62 1074.97)" font-size="100" fill="#ec1c24" font-family="'DejaVu Sans', sans-serif" font-weight="bold">T</text>
<text transform="matrix(0.1098 0 0 0.1108 554.63 1070.21)" font-size="100" fill="#108040" font-family="'DejaVu Sans', sans-serif" font-weight="bold">A</text>
<text transform="matrix(0.1203 0 0 0.9980 554.09 1060.87)" font-size="100" fill="#f9a51b" font-family="'DejaVu Sans', sans-serif" font-weight="bold">G</text>
<text transform="matrix(0.1353 0 0 0.0334 562.75 1077.30)" font-size="100" fill="#3553ac" font-family="'DejaVu Sans', sans-serif" font-weight="bold">C</text>
<text transform="matrix(0.1203 0 0 0.0334 562.83 1074.92)" font-size="100" fill="#f9a51b" font-family="'DejaVu Sans', sans-serif" font-weight="bold">G</text>
<text transform="matrix(0.1249 0 0 0.0782 563.36 1072.59)" font-size="100" fill="#ec1c24" font-family="'DejaVu Sans', sans-serif" font-weight="bold">T</text>
<text transform="matrix(0.1098 0 0 1.4923 563.37 1067.04)" font-size="100" fill="#108040" font-family="'DejaVu Sans', sans-serif" font-weight="bold">A</text>
<text transform="matrix(0.1353 0 0 0.0230 571.49 1077.32)" font-size="100" fill="#3553ac" font-family="'DejaVu Sans', sans-serif" font-weight="bold">C</text>
<text transform="matrix(0.1249 0 0 0.0238 572.10 1075.76)" font-size="100" fill="#ec1c24" font-family="'DejaVu Sans', sans-serif" font-weight="bold">T</text>
<text transform="matrix(0.1098 0 0 0.0564 572.11 1074.18)" font-size="100" fill="#108040" font-family="'DejaVu Sans', sans-serif" font-weight="bold">A</text>
<text transform="matrix(0.1203 0 0 0.0649 571.57 1070.12)" font-size="100" fill="#f9a51b" font-family="'DejaVu Sans', sans-serif" font-weight="bold">G</text>
<text transform="matrix(0.1203 0 0 0.0230 580.31 1077.32)" font-size="100" fill="#f9a51b" font-family="'DejaVu Sans', sans-serif" font-weight="bold">G</text>
<text transform="matrix(0.1098 0 0 0.0456 580.85 1075.76)" font-size="100" fill="#108040" font-family="'DejaVu Sans', sans-serif" font-weight="bold">A</text>
<text transform="matrix(0.1249 0 0 0.0564 580.84 1072.59)" font-size="100" fill="#ec1c24" font-family="'DejaVu Sans', sans-serif" font-weight="bold">T</text>
<text transform="matrix(0.1353 0 0 0.1173 580.23 1068.46)" font-size="100" fill="#3553ac" font-family="'DejaVu Sans', sans-serif" font-weight="bold">C</text>
<text transform="matrix(0.1203 0 0 0.0230 589.05 1077.32)" font-size="100" fill="#f9a51b" font-family="'DejaVu Sans', sans-serif" font-weight="bold">G</text>
<text transform="matrix(0.1249 0 0 0.0347 589.58 1075.76)" font-size="100" fill="#ec1c24" font-family="'DejaVu Sans', sans-serif" font-weight="bold">T</text>
<text transform="matrix(0.1098 0 0 0.0347 589.59 1073.39)" font-size="100" fill="#108040" font-family="'DejaVu Sans', sans-serif" font-weight="bold">A</text>
<text transform="matrix(0.1353 0 0 0.0544 588.97 1070.93)" font-size="100" fill="#3553ac" font-family="'DejaVu Sans', sans-serif" font-weight="bold">C</text>
<text x="207.95" y="1080.3" font-size="9.4" font-family="'DejaVu Sans', sans-serif">0.0</text>
<path d="M227.2 1076.9h3.5" stroke="#222" stroke-width="0.8"/>
<text x="207.95" y="1040.65" font-size="9.4" font-family="'DejaVu Sans', sans-serif">0.5</text>
<path d="M227.2 1037.25h3.5" stroke="#222" stroke-width="0.8"/>
<text x="207.95" y="1001" font-size="9.4" font-family="'DejaVu Sans', sans-serif">1.0</text>
<path d="M227.2 997.6h3.5" stroke="#222" stroke-width="0.8"/>
<text x="207.95" y="961.35" font-size="9.4" font-family="'DejaVu Sans', sans-serif">1.5</text>
<path d="M227.2 957.95h3.5" stroke="#222" stroke-width="0.8"/>
<path d="M235.5 1078v3M244.24 1078v3M252.98 1078v3M261.72 1078v3M270.46 1078v3M279.2 1078v3M287.94 1078v3M296.68 1078v3M305.42 1078v3M314.16 1078v3M322.9 1078v3M331.64 1078v3M340.38 1078v3M349.12 1078v3M357.86 1078v3M366.6 1078v3M375.34 1078v3M384.08 1078v3M392.82 1078v3M401.56 1078v3M410.3 1078v3M419.04 1078v3M427.78 1078v3M436.52 1078v3M445.26 1078v3M454 1078v3M462.74 1078v3M471.48 1078v3M480.22 1078v3M488.96 1078v3M497.7 1078v3M506.44 1078v3M515.18 1078v3M523.92 1078v3M532.66 1078v3M541.4 1078v3M550.14 1078v3M558.88 1078v3M567.62 1078v3M576.36 1078v3M585.1 1078v3M593.84 1078v3" stroke="#222" stroke-width="0.8" fill="none"/>
<text x="233.8" y="1090.8" font-size="9.4" font-family="'DejaVu Sans', sans-serif">-</text>
<text x="242.54" y="1090.8" font-size="9.4" font-family="'DejaVu Sans', sans-serif">-</text>
<text x="251.28" y="1090.8" font-size="9.4" font-family="'DejaVu Sans', sans-serif">-</text>
<text x="260.02" y="1090.8" font-size="9.4" font-family="'DejaVu Sans', sans-serif">-</text>
<text x="268.76" y="1090.8" font-size="9.4" font-family="'DejaVu Sans', sans-serif">-</text>
<text x="277.5" y="1090.8" font-size="9.4" font-family="'DejaVu Sans', sans-serif">-</text>
<text x="286.24" y="1090.8" font-size="9.4" font-family="'DejaVu Sans', sans-serif">-</text>
<text x="294.98" y="1090.8" font-size="9.4" font-family="'DejaVu Sans', sans-serif">-</text>
<text x="303.72" y="1090.8" font-size="9.4" font-family="'DejaVu Sans', sans-serif">-</text>
<text x="311.17" y="1090.8" font-size="9.4" font-family="'DejaVu Sans', sans-serif">1</text>
<text x="319.91" y="1090.8" font-size="9.4" font-family="'DejaVu Sans', sans-serif">2</text>
<text x="328.65" y="1090.8" font-size="9.4" font-family="'DejaVu Sans', sans-serif">3</text>
<text x="337.39" y="1090.8" font-size="9.4" font-family="'DejaVu Sans', sans-serif">4</text>
<text x="346.13" y="1090.8" font-size="9.4" font-family="'DejaVu Sans', sans-serif">5</text>
<text x="354.87" y="1090.8" font-size="9.4" font-family="'DejaVu Sans', sans-serif">6</text>
<text x="363.61" y="1090.8" font-size="9.4" font-family="'DejaVu Sans', sans-serif">7</text>
<text x="372.35" y="1090.8" font-size="9.4" font-family="'DejaVu Sans', sans-serif">8</text>
<text x="381.09" y="1090.8" font-size="9.4" font-family="'DejaVu Sans', sans-serif">9</text>
<text x="386.84" y="1090.8" font-size="9.4" font-family="'DejaVu Sans', sans-serif">10</text>
<text x="395.58" y="1090.8" font-size="9.4" font-family="'DejaVu Sans', sans-serif">11</text>
<text x="404.32" y="1090.8" font-size="9.4" font-family="'DejaVu Sans', sans-serif">12</text>
<text x="413.06" y="1090.8" font-size="9.4" font-family="'DejaVu Sans', sans-serif">13</text>
<text x="421.8" y="1090.8" font-size="9.4" font-family="'DejaVu Sans', sans-serif">14</text>
<text x="430.54" y="1090.8" font-size="9.4" font-family="'DejaVu Sans', sans-serif">15</text>
<text x="439.28" y="1090.8" font-size="9.4" font-family="'DejaVu Sans', sans-serif">16</text>
<text x="448.02" y="1090.8" font-size="9.4" font-family="'DejaVu Sans', sans-serif">17</text>
<text x="456.76" y="1090.8" font-size="9.4" font-family="'DejaVu Sans', sans-serif">18</text>
<text x="465.5" y="1090.8" font-size="9.4" font-family="'DejaVu Sans', sans-serif">19</text>
<text x="474.24" y="1090.8" font-size="9.4" font-family="'DejaVu Sans', sans-serif">20</text>
<text x="482.98" y="1090.8" font-size="9.4" font-family="'DejaVu Sans', sans-serif">21</text>
<text x="491.72" y="1090.8" font-size="9.4" font-family="'DejaVu Sans', sans-serif">22</text>
<text x="500.46" y="1090.8" font-size="9.4" font-family="'DejaVu Sans', sans-serif">23</text>
<text x="509.2" y="1090.8" font-size="9.4" font-family="'DejaVu Sans', sans-serif">24</text>
<text x="517.94" y="1090.8" font-size="9.4" font-family="'DejaVu Sans', sans-serif">25</text>
<text x="526.68" y="1090.8" font-size="9.4" font-family="'DejaVu Sans', sans-serif">26</text>
<text x="535.42" y="1090.8" font-size="9.4" font-family="'DejaVu Sans', sans-serif">27</text>
<text x="544.16" y="1090.8" font-size="9.4" font-family="'DejaVu Sans', sans-serif">28</text>
<text x="552.9" y="1090.8" font-size="9.4" font-family="'DejaVu Sans', sans-serif">29</text>
<text x="561.64" y="1090.8" font-size="9.4" font-family="'DejaVu Sans', sans-serif">30</text>
<text x="570.38" y="1090.8" font-size="9.4" font-family="'DejaVu Sans', sans-serif">31</text>
<text x="579.12" y="1090.8" font-size="9.4" font-family="'DejaVu Sans', sans-serif">32</text>
<text x="587.86" y="1090.8" font-size="9.4" font-family="'DejaVu Sans', sans-serif">33</text>
<text transform="matrix(0.1098 0 0 0.0302 231.25 1224.35)" font-size="100" fill="#108040" font-family="'DejaVu Sans', sans-serif" font-weight="bold">A</text>
<text transform="matrix(0.1203 0 0 0.0835 230.71 1222.18)" font-size="100" fill="#f9a51b" font-family="'DejaVu Sans', sans-serif" font-weight="bold">G</text>
<text transform="matrix(0.1249 0 0 0.0772 231.24 1216.13)" font-size="100" fill="#ec1c24" font-family="'DejaVu Sans', sans-serif" font-weight="bold">T</text>
<text transform="matrix(0.1353 0 0 0.5273 230.63 1209.90)" font-size="100" fill="#3553ac" font-family="'DejaVu Sans', sans-serif" font-weight="bold">C</text>
<text transform="matrix(0.1353 0 0 0.0382 239.37 1224.30)" font-size="100" fill="#3553ac" font-family="'DejaVu Sans', sans-serif" font-weight="bold">C</text>
<text transform="matrix(0.1249 0 0 0.0584 239.98 1221.61)" font-size="100" fill="#ec1c24" font-family="'DejaVu Sans', sans-serif" font-weight="bold">T</text>
<text transform="matrix(0.1203 0 0 0.0926 239.45 1217.37)" font-size="100" fill="#f9a51b" font-family="'DejaVu Sans', sans-serif" font-weight="bold">G</text>
<text transform="matrix(0.1098 0 0 0.5658 239.99 1210.65)" font-size="100" fill="#108040" font-family="'DejaVu Sans', sans-serif" font-weight="bold">A</text>
<text transform="matrix(0.1203 0 0 0.0292 248.19 1224.31)" font-size="100" fill="#f9a51b" font-family="'DejaVu Sans', sans-serif" font-weight="bold">G</text>
<text transform="matrix(0.1249 0 0 0.0490 248.72 1222.30)" font-size="100" fill="#ec1c24" font-family="'DejaVu Sans', sans-serif" font-weight="bold">T</text>
<text transform="matrix(0.1353 0 0 0.0382 248.11 1218.82)" font-size="100" fill="#3553ac" font-family="'DejaVu Sans', sans-serif" font-weight="bold">C</text>
<text transform="matrix(0.1098 0 0 0.1524 248.73 1216.13)" font-size="100" fill="#108040" font-family="'DejaVu Sans', sans-serif" font-weight="bold">A</text>
<text transform="matrix(0.1249 0 0 0.0302 257.46 1224.35)" font-size="100" fill="#ec1c24" font-family="'DejaVu Sans', sans-serif" font-weight="bold">T</text>
<text transform="matrix(0.1353 0 0 0.0473 256.85 1222.23)" font-size="100" fill="#3553ac" font-family="'DejaVu Sans', sans-serif" font-weight="bold">C</text>
<text transform="matrix(0.1098 0 0 0.1148 257.47 1218.87)" font-size="100" fill="#108040" font-family="'DejaVu Sans', sans-serif" font-weight="bold">A</text>
<text transform="matrix(0.1203 0 0 0.4367 256.93 1210.03)" font-size="100" fill="#f9a51b" font-family="'DejaVu Sans', sans-serif" font-weight="bold">G</text>
<text transform="matrix(0.1249 0 0 0.0302 266.20 1224.35)" font-size="100" fill="#ec1c24" font-family="'DejaVu Sans', sans-serif" font-weight="bold">T</text>
<text transform="matrix(0.1353 0 0 0.0473 265.59 1222.23)" font-size="100" fill="#3553ac" font-family="'DejaVu Sans', sans-serif" font-weight="bold">C</text>
<text transform="matrix(0.1098 0 0 0.1336 266.21 1218.87)" font-size="100" fill="#108040" font-family="'DejaVu Sans', sans-serif" font-weight="bold">A</text>
<text transform="matrix(0.1203 0 0 0.7084 265.67 1208.28)" font-size="100" fill="#f9a51b" font-family="'DejaVu Sans', sans-serif" font-weight="bold">G</text>
<text transform="matrix(0.1249 0 0 0.0302 274.94 1224.35)" font-size="100" fill="#ec1c24" font-family="'DejaVu Sans', sans-serif" font-weight="bold">T</text>
<text transform="matrix(0.1353 0 0 0.0654 274.33 1222.20)" font-size="100" fill="#3553ac" font-family="'DejaVu Sans', sans-serif" font-weight="bold">C</text>
<text transform="matrix(0.1203 0 0 0.0654 274.41 1217.41)" font-size="100" fill="#f9a51b" font-family="'DejaVu Sans', sans-serif" font-weight="bold">G</text>
<text transform="matrix(0.1098 0 0 0.9981 274.95 1212.71)" font-size="100" fill="#108040" font-family="'DejaVu Sans', sans-serif" font-weight="bold">A</text>
<text transform="matrix(0.1249 0 0 0.0209 283.68 1224.35)" font-size="100" fill="#ec1c24" font-family="'DejaVu Sans', sans-serif" font-weight="bold">T</text>
<text transform="matrix(0.1353 0 0 0.0292 283.07 1222.94)" font-size="100" fill="#3553ac" font-family="'DejaVu Sans', sans-serif" font-weight="bold">C</text>
<text transform="matrix(0.1203 0 0 0.2103 283.15 1220.63)" font-size="100" fill="#f9a51b" font-family="'DejaVu Sans', sans-serif" font-weight="bold">G</text>
<text transform="matrix(0.1098 0 0 0.4155 283.69 1205.17)" font-size="100" fill="#108040" font-family="'DejaVu Sans', sans-serif" font-weight="bold">A</text>
<text transform="matrix(0.1249 0 0 0.0302 292.42 1224.35)" font-size="100" fill="#ec1c24" font-family="'DejaVu Sans', sans-serif" font-weight="bold">T</text>
<text transform="matrix(0.1353 0 0 0.0473 291.81 1222.23)" font-size="100" fill="#3553ac" font-family="'DejaVu Sans', sans-serif" font-weight="bold">C</text>
<text transform="matrix(0.1203 0 0 0.0926 291.89 1218.74)" font-size="100" fill="#f9a51b" font-family="'DejaVu Sans', sans-serif" font-weight="bold">G</text>
<text transform="matrix(0.1098 0 0 0.9417 292.43 1212.02)" font-size="100" fill="#108040" font-family="'DejaVu Sans', sans-serif" font-weight="bold">A</text>
<text transform="matrix(0.1203 0 0 0.0292 300.63 1224.31)" font-size="100" fill="#f9a51b" font-family="'DejaVu Sans', sans-serif" font-weight="bold">G</text>
<text transform="matrix(0.1353 0 0 0.0473 300.55 1222.23)" font-size="100" fill="#3553ac" font-family="'DejaVu Sans', sans-serif" font-weight="bold">C</text>
<text transform="matrix(0.1098 0 0 0.1336 301.17 1218.87)" font-size="100" fill="#108040" font-family="'DejaVu Sans', sans-serif" font-weight="bold">A</text>
<text transform="matrix(0.1249 0 0 0.4531 301.16 1209.28)" font-size="100" fill="#ec1c24" font-family="'DejaVu Sans', sans-serif" font-weight="bold">T</text>
<text transform="matrix(0.1203 0 0 0.0382 309.37 1224.30)" font-size="100" fill="#f9a51b" font-family="'DejaVu Sans', sans-serif" font-weight="bold">G</text>
<text transform="matrix(0.1249 0 0 0.0772 309.90 1221.61)" font-size="100" fill="#ec1c24" font-family="'DejaVu Sans', sans-serif" font-weight="bold">T</text>
<text transform="matrix(0.1098 0 0 0.0772 309.91 1216.13)" font-size="100" fill="#108040" font-family="'DejaVu Sans', sans-serif" font-weight="bold">A</text>
<text transform="matrix(0.1353 0 0 0.7718 309.29 1209.56)" font-size="100" fill="#3553ac" font-family="'DejaVu Sans', sans-serif" font-weight="bold">C</text>
<text transform="matrix(0.1353 0 0 0.0292 318.03 1224.31)" font-size="100" fill="#3553ac" font-family="'DejaVu Sans', sans-serif" font-weight="bold">C</text>
<text transform="matrix(0.1203 0 0 0.0382 318.11 1222.24)" font-size="100" fill="#f9a51b" font-family="'DejaVu Sans', sans-serif" font-weight="bold">G</text>
<text transform="matrix(0.1098 0 0 1.5337 318.65 1219.56)" font-size="100" fill="#108040" font-family="'DejaVu Sans', sans-serif" font-weight="bold">A</text>
<text transform="matrix(0.1353 0 0 0.0201 326.77 1224.32)" font-size="100" fill="#3553ac" font-family="'DejaVu Sans', sans-serif" font-weight="bold">C</text>
<text transform="matrix(0.1203 0 0 0.0382 326.85 1222.93)" font-size="100" fill="#f9a51b" font-family="'DejaVu Sans', sans-serif" font-weight="bold">G</text>
<text transform="matrix(0.1098 0 0 1.6370 327.39 1220.24)" font-size="100" fill="#108040" font-family="'DejaVu Sans', sans-serif" font-weight="bold">A</text>
<text transform="matrix(0.1098 0 0 0.0396 336.13 1224.35)" font-size="100" fill="#108040" font-family="'DejaVu Sans', sans-serif" font-weight="bold">A</text>
<text transform="matrix(0.1249 0 0 0.0584 336.12 1221.61)" font-size="100" fill="#ec1c24" font-family="'DejaVu Sans', sans-serif" font-weight="bold">T</text>
<text transform="matrix(0.1203 0 0 1.3424 335.59 1215.60)" font-size="100" fill="#f9a51b" font-family="'DejaVu Sans', sans-serif" font-weight="bold">G</text>
<text transform="matrix(0.1098 0 0 0.1430 344.87 1224.35)" font-size="100" fill="#108040" font-family="'DejaVu Sans', sans-serif" font-weight="bold">A</text>
<text transform="matrix(0.1203 0 0 1.2518 344.33 1212.30)" font-size="100" fill="#f9a51b" font-family="'DejaVu Sans', sans-serif" font-weight="bold">G</text>
<text transform="matrix(0.1249 0 0 0.0396 353.60 1224.35)" font-size="100" fill="#ec1c24" font-family="'DejaVu Sans', sans-serif" font-weight="bold">T</text>
<text transform="matrix(0.1203 0 0 0.0563 353.07 1221.53)" font-size="100" fill="#f9a51b" font-family="'DejaVu Sans', sans-serif" font-weight="bold">G</text>
<text transform="matrix(0.1098 0 0 1.4115 353.61 1217.50)" font-size="100" fill="#108040" font-family="'DejaVu Sans', sans-serif" font-weight="bold">A</text>
<text transform="matrix(0.1203 0 0 0.0563 361.81 1224.27)" font-size="100" fill="#f9a51b" font-family="'DejaVu Sans', sans-serif" font-weight="bold">G</text>
<text transform="matrix(0.1249 0 0 0.2088 362.34 1220.24)" font-size="100" fill="#ec1c24" font-family="'DejaVu Sans', sans-serif" font-weight="bold">T</text>
<text transform="matrix(0.1353 0 0 0.2284 361.73 1204.85)" font-size="100" fill="#3553ac" font-family="'DejaVu Sans', sans-serif" font-weight="bold">C</text>
<text transform="matrix(0.1353 0 0 0.0201 370.47 1224.32)" font-size="100" fill="#3553ac" font-family="'DejaVu Sans', sans-serif" font-weight="bold">C</text>
<text transform="matrix(0.1098 0 0 0.1900 371.09 1222.98)" font-size="100" fill="#108040" font-family="'DejaVu Sans', sans-serif" font-weight="bold">A</text>
<text transform="matrix(0.1203 0 0 0.6812 370.55 1208.32)" font-size="100" fill="#f9a51b" font-family="'DejaVu Sans', sans-serif" font-weight="bold">G</text>
<text transform="matrix(0.1203 0 0 0.0292 379.29 1224.31)" font-size="100" fill="#f9a51b" font-family="'DejaVu Sans', sans-serif" font-weight="bold">G</text>
<text transform="matrix(0.1098 0 0 0.0396 379.83 1222.30)" font-size="100" fill="#108040" font-family="'DejaVu Sans', sans-serif" font-weight="bold">A</text>
<text transform="matrix(0.1249 0 0 0.1242 379.82 1219.56)" font-size="100" fill="#ec1c24" font-family="'DejaVu Sans', sans-serif" font-weight="bold">T</text>
<text transform="matrix(0.1353 0 0 0.1197 379.21 1210.48)" font-size="100" fill="#3553ac" font-family="'DejaVu Sans', sans-serif" font-weight="bold">C</text>
<text transform="matrix(0.1353 0 0 0.0292 396.69 1224.31)" font-size="100" fill="#3553ac" font-family="'DejaVu Sans', sans-serif" font-weight="bold">C</text>
<text transform="matrix(0.1249 0 0 0.0302 397.30 1222.30)" font-size="100" fill="#ec1c24" font-family="'DejaVu Sans', sans-serif" font-weight="bold">T</text>
<text transform="matrix(0.1098 0 0 0.1712 397.31 1220.24)" font-size="100" fill="#108040" font-family="'DejaVu Sans', sans-serif" font-weight="bold">A</text>
<text transform="matrix(0.1203 0 0 0.2646 396.77 1207.54)" font-size="100" fill="#f9a51b" font-family="'DejaVu Sans', sans-serif" font-weight="bold">G</text>
<text transform="matrix(0.1098 0 0 0.0396 406.05 1224.35)" font-size="100" fill="#108040" font-family="'DejaVu Sans', sans-serif" font-weight="bold">A</text>
<text transform="matrix(0.1249 0 0 0.0396 406.04 1221.61)" font-size="100" fill="#ec1c24" font-family="'DejaVu Sans', sans-serif" font-weight="bold">T</text>
<text transform="matrix(0.1203 0 0 1.3786 405.51 1216.92)" font-size="100" fill="#f9a51b" font-family="'DejaVu Sans', sans-serif" font-weight="bold">G</text>
<text transform="matrix(0.1249 0 0 0.0302 414.78 1224.35)" font-size="100" fill="#ec1c24" font-family="'DejaVu Sans', sans-serif" font-weight="bold">T</text>
<text transform="matrix(0.1203 0 0 0.0563 414.25 1222.22)" font-size="100" fill="#f9a51b" font-family="'DejaVu Sans', sans-serif" font-weight="bold">G</text>
<text transform="matrix(0.1353 0 0 0.0744 414.17 1218.08)" font-size="100" fill="#3553ac" font-family="'DejaVu Sans', sans-serif" font-weight="bold">C</text>
<text transform="matrix(0.1098 0 0 0.9887 414.79 1212.71)" font-size="100" fill="#108040" font-family="'DejaVu Sans', sans-serif" font-weight="bold">A</text>
<text transform="matrix(0.1098 0 0 0.0302 423.53 1224.35)" font-size="100" fill="#108040" font-family="'DejaVu Sans', sans-serif" font-weight="bold">A</text>
<text transform="matrix(0.1203 0 0 0.0473 422.99 1222.23)" font-size="100" fill="#f9a51b" font-family="'DejaVu Sans', sans-serif" font-weight="bold">G</text>
<text transform="matrix(0.1249 0 0 0.1148 423.52 1218.87)" font-size="100" fill="#ec1c24" font-family="'DejaVu Sans', sans-serif" font-weight="bold">T</text>
<text transform="matrix(0.1353 0 0 0.8895 422.91 1209.39)" font-size="100" fill="#3553ac" font-family="'DejaVu Sans', sans-serif" font-weight="bold">C</text>
<text transform="matrix(0.1203 0 0 0.0292 431.73 1224.31)" font-size="100" fill="#f9a51b" font-family="'DejaVu Sans', sans-serif" font-weight="bold">G</text>
<text transform="matrix(0.1353 0 0 0.0382 431.65 1222.24)" font-size="100" fill="#3553ac" font-family="'DejaVu Sans', sans-serif" font-weight="bold">C</text>
<text transform="matrix(0.1249 0 0 0.1054 432.26 1219.56)" font-size="100" fill="#ec1c24" font-family="'DejaVu Sans', sans-serif" font-weight="bold">T</text>
<text transform="matrix(0.1098 0 0 0.9793 432.27 1212.02)" font-size="100" fill="#108040" font-family="'DejaVu Sans', sans-serif" font-weight="bold">A</text>
<text transform="matrix(0.1098 0 0 0.0396 441.01 1224.35)" font-size="100" fill="#108040" font-family="'DejaVu Sans', sans-serif" font-weight="bold">A</text>
<text transform="matrix(0.1249 0 0 0.0396 441.00 1221.61)" font-size="100" fill="#ec1c24" font-family="'DejaVu Sans', sans-serif" font-weight="bold">T</text>
<text transform="matrix(0.1203 0 0 0.0926 440.47 1218.74)" font-size="100" fill="#f9a51b" font-family="'DejaVu Sans', sans-serif" font-weight="bold">G</text>
<text transform="matrix(0.1353 0 0 0.9258 440.39 1210.71)" font-size="100" fill="#3553ac" font-family="'DejaVu Sans', sans-serif" font-weight="bold">C</text>
<text transform="matrix(0.1353 0 0 0.0292 457.87 1224.31)" font-size="100" fill="#3553ac" font-family="'DejaVu Sans', sans-serif" font-weight="bold">C</text>
<text transform="matrix(0.1203 0 0 0.0654 457.95 1222.20)" font-size="100" fill="#f9a51b" font-family="'DejaVu Sans', sans-serif" font-weight="bold">G</text>
<text transform="matrix(0.1249 0 0 0.0772 458.48 1217.50)" font-size="100" fill="#ec1c24" font-family="'DejaVu Sans', sans-serif" font-weight="bold">T</text>
<text transform="matrix(0.1098 0 0 0.9135 458.49 1212.02)" font-size="100" fill="#108040" font-family="'DejaVu Sans', sans-serif" font-weight="bold">A</text>
<text transform="matrix(0.1203 0 0 0.0382 466.69 1224.30)" font-size="100" fill="#f9a51b" font-family="'DejaVu Sans', sans-serif" font-weight="bold">G</text>
<text transform="matrix(0.1098 0 0 0.0772 467.23 1221.61)" font-size="100" fill="#108040" font-family="'DejaVu Sans', sans-serif" font-weight="bold">A</text>
<text transform="matrix(0.1249 0 0 0.0772 467.22 1216.13)" font-size="100" fill="#ec1c24" font-family="'DejaVu Sans', sans-serif" font-weight="bold">T</text>
<text transform="matrix(0.1353 0 0 0.4548 466.61 1210.01)" font-size="100" fill="#3553ac" font-family="'DejaVu Sans', sans-serif" font-weight="bold">C</text>
<text transform="matrix(0.1249 0 0 0.0302 475.96 1224.35)" font-size="100" fill="#ec1c24" font-family="'DejaVu Sans', sans-serif" font-weight="bold">T</text>
<text transform="matrix(0.1203 0 0 0.0473 475.43 1222.23)" font-size="100" fill="#f9a51b" font-family="'DejaVu Sans', sans-serif" font-weight="bold">G</text>
<text transform="matrix(0.1353 0 0 0.1107 475.35 1218.71)" font-size="100" fill="#3553ac" font-family="'DejaVu Sans', sans-serif" font-weight="bold">C</text>
<text transform="matrix(0.1098 0 0 0.3403 475.97 1210.65)" font-size="100" fill="#108040" font-family="'DejaVu Sans', sans-serif" font-weight="bold">A</text>
<text transform="matrix(0.1249 0 0 0.0396 484.70 1224.35)" font-size="100" fill="#ec1c24" font-family="'DejaVu Sans', sans-serif" font-weight="bold">T</text>
<text transform="matrix(0.1353 0 0 0.0473 484.09 1221.54)" font-size="100" fill="#3553ac" font-family="'DejaVu Sans', sans-serif" font-weight="bold">C</text>
<text transform="matrix(0.1203 0 0 0.0926 484.17 1218.05)" font-size="100" fill="#f9a51b" font-family="'DejaVu Sans', sans-serif" font-weight="bold">G</text>
<text transform="matrix(0.1098 0 0 0.8383 484.71 1211.34)" font-size="100" fill="#108040" font-family="'DejaVu Sans', sans-serif" font-weight="bold">A</text>
<text transform="matrix(0.1249 0 0 0.0209 537.14 1224.35)" font-size="100" fill="#ec1c24" font-family="'DejaVu Sans', sans-serif" font-weight="bold">T</text>
<text transform="matrix(0.1353 0 0 0.0292 536.53 1222.94)" font-size="100" fill="#3553ac" font-family="'DejaVu Sans', sans-serif" font-weight="bold">C</text>
<text transform="matrix(0.1203 0 0 0.1922 536.61 1220.65)" font-size="100" fill="#f9a51b" font-family="'DejaVu Sans', sans-serif" font-weight="bold">G</text>
<text transform="matrix(0.1098 0 0 0.4343 537.15 1206.54)" font-size="100" fill="#108040" font-family="'DejaVu Sans', sans-serif" font-weight="bold">A</text>
<text transform="matrix(0.1098 0 0 0.0396 545.89 1224.35)" font-size="100" fill="#108040" font-family="'DejaVu Sans', sans-serif" font-weight="bold">A</text>
<text transform="matrix(0.1353 0 0 0.0563 545.27 1221.53)" font-size="100" fill="#3553ac" font-family="'DejaVu Sans', sans-serif" font-weight="bold">C</text>
<text transform="matrix(0.1249 0 0 0.0584 545.88 1217.50)" font-size="100" fill="#ec1c24" font-family="'DejaVu Sans', sans-serif" font-weight="bold">T</text>
<text transform="matrix(0.1203 0 0 1.0344 545.35 1211.93)" font-size="100" fill="#f9a51b" font-family="'DejaVu Sans', sans-serif" font-weight="bold">G</text>
<text x="207.95" y="1227.3" font-size="9.4" font-family="'DejaVu Sans', sans-serif">0.0</text>
<path d="M227.2 1223.9h3.5" stroke="#222" stroke-width="0.8"/>
<text x="207.95" y="1193.05" font-size="9.4" font-family="'DejaVu Sans', sans-serif">0.5</text>
<path d="M227.2 1189.65h3.5" stroke="#222" stroke-width="0.8"/>
<text x="207.95" y="1158.8" font-size="9.4" font-family="'DejaVu Sans', sans-serif">1.0</text>
<path d="M227.2 1155.4h3.5" stroke="#222" stroke-width="0.8"/>
<text x="207.95" y="1124.55" font-size="9.4" font-family="'DejaVu Sans', sans-serif">1.5</text>
<path d="M227.2 1121.15h3.5" stroke="#222" stroke-width="0.8"/>
<path d="M235.5 1225v3M244.24 1225v3M252.98 1225v3M261.72 1225v3M270.46 1225v3M279.2 1225v3M287.94 1225v3M296.68 1225v3M305.42 1225v3M314.16 1225v3M322.9 1225v3M331.64 1225v3M340.38 1225v3M349.12 1225v3M357.86 1225v3M366.6 1225v3M375.34 1225v3M384.08 1225v3M392.82 1225v3M401.56 1225v3M410.3 1225v3M419.04 1225v3M427.78 1225v3M436.52 1225v3M445.26 1225v3M454 1225v3M462.74 1225v3M471.48 1225v3M480.22 1225v3M488.96 1225v3M497.7 1225v3M506.44 1225v3M515.18 1225v3M523.92 1225v3M532.66 1225v3M541.4 1225v3M550.14 1225v3M558.88 1225v3M567.62 1225v3M576.36 1225v3M585.1 1225v3M593.84 1225v3" stroke="#222" stroke-width="0.8" fill="none"/>
<text x="232.51" y="1237.8" font-size="9.4" font-family="'DejaVu Sans', sans-serif">1</text>
<text x="241.25" y="1237.8" font-size="9.4" font-family="'DejaVu Sans', sans-serif">2</text>
<text x="249.99" y="1237.8" font-size="9.4" font-family="'DejaVu Sans', sans-serif">3</text>
<text x="258.73" y="1237.8" font-size="9.4" font-family="'DejaVu Sans', sans-serif">4</text>
<text x="267.47" y="1237.8" font-size="9.4" font-family="'DejaVu Sans', sans-serif">5</text>
<text x="276.21" y="1237.8" font-size="9.4" font-family="'DejaVu Sans', sans-serif">6</text>
<text x="284.95" y="1237.8" font-size="9.4" font-family="'DejaVu Sans', sans-serif">7</text>
<text x="293.69" y="1237.8" font-size="9.4" font-family="'DejaVu Sans', sans-serif">8</text>
<text x="302.43" y="1237.8" font-size="9.4" font-family="'DejaVu Sans', sans-serif">9</text>
<text x="308.18" y="1237.8" font-size="9.4" font-family="'DejaVu Sans', sans-serif">10</text>
<text x="316.92" y="1237.8" font-size="9.4" font-family="'DejaVu Sans', sans-serif">11</text>
<text x="325.66" y="1237.8" font-size="9.4" font-family="'DejaVu Sans', sans-serif">12</text>
<text x="334.4" y="1237.8" font-size="9.4" font-family="'DejaVu Sans', sans-serif">13</text>
<text x="343.14" y="1237.8" font-size="9.4" font-family="'DejaVu Sans', sans-serif">14</text>
<text x="351.88" y="1237.8" font-size="9.4" font-family="'DejaVu Sans', sans-serif">15</text>
<text x="360.62" y="1237.8" font-size="9.4" font-family="'DejaVu Sans', sans-serif">16</text>
<text x="369.36" y="1237.8" font-size="9.4" font-family="'DejaVu Sans', sans-serif">17</text>
<text x="378.1" y="1237.8" font-size="9.4" font-family="'DejaVu Sans', sans-serif">18</text>
<text x="391.12" y="1237.8" font-size="9.4" font-family="'DejaVu Sans', sans-serif">-</text>
<text x="395.58" y="1237.8" font-size="9.4" font-family="'DejaVu Sans', sans-serif">19</text>
<text x="404.32" y="1237.8" font-size="9.4" font-family="'DejaVu Sans', sans-serif">20</text>
<text x="413.06" y="1237.8" font-size="9.4" font-family="'DejaVu Sans', sans-serif">21</text>
<text x="421.8" y="1237.8" font-size="9.4" font-family="'DejaVu Sans', sans-serif">22</text>
<text x="430.54" y="1237.8" font-size="9.4" font-family="'DejaVu Sans', sans-serif">23</text>
<text x="439.28" y="1237.8" font-size="9.4" font-family="'DejaVu Sans', sans-serif">24</text>
<text x="452.3" y="1237.8" font-size="9.4" font-family="'DejaVu Sans', sans-serif">-</text>
<text x="456.76" y="1237.8" font-size="9.4" font-family="'DejaVu Sans', sans-serif">25</text>
<text x="465.5" y="1237.8" font-size="9.4" font-family="'DejaVu Sans', sans-serif">26</text>
<text x="474.24" y="1237.8" font-size="9.4" font-family="'DejaVu Sans', sans-serif">27</text>
<text x="482.98" y="1237.8" font-size="9.4" font-family="'DejaVu Sans', sans-serif">28</text>
<text x="496" y="1237.8" font-size="9.4" font-family="'DejaVu Sans', sans-serif">-</text>
<text x="504.74" y="1237.8" font-size="9.4" font-family="'DejaVu Sans', sans-serif">-</text>
<text x="513.48" y="1237.8" font-size="9.4" font-family="'DejaVu Sans', sans-serif">-</text>
<text x="522.22" y="1237.8" font-size="9.4" font-family="'DejaVu Sans', sans-serif">-</text>
<text x="530.96" y="1237.8" font-size="9.4" font-family="'DejaVu Sans', sans-serif">-</text>
<text x="535.42" y="1237.8" font-size="9.4" font-family="'DejaVu Sans', sans-serif">29</text>
<text x="544.16" y="1237.8" font-size="9.4" font-family="'DejaVu Sans', sans-serif">30</text>
<text x="557.18" y="1237.8" font-size="9.4" font-family="'DejaVu Sans', sans-serif">-</text>
<text x="565.92" y="1237.8" font-size="9.4" font-family="'DejaVu Sans', sans-serif">-</text>
<text x="574.66" y="1237.8" font-size="9.4" font-family="'DejaVu Sans', sans-serif">-</text>
<text x="583.4" y="1237.8" font-size="9.4" font-family="'DejaVu Sans', sans-serif">-</text>
<text x="592.14" y="1237.8" font-size="9.4" font-family="'DejaVu Sans', sans-serif">-</text>
<svg x="781.3" y="926.8" width="417.6" height="306.7" viewBox="781.3 926.8 417.6 306.7" overflow="hidden">
<path d="M800.2 1056.8L802.1 1021.6L804.0 1058.3L805.9 1062.5L807.8 1020.3L809.7 1060.9L811.6 1066.8L813.5 1018.1L815.4 1070.7L817.3 1083.6L819.2 1015.5L821.1 1074.6L823.0 1079.6L825.0 1018.5L826.9 1073.6L828.8 1085.3L830.7 1016.4L832.6 1072.1L834.5 1082.9L836.4 1022.3L838.3 1075.6L840.2 1086.4L842.1 1032.7L844.0 1077.9L845.9 1085.1L847.8 1046.7L849.7 1078.9L851.6 1086.4L853.5 1046.3L855.4 1081.1L857.3 1087.3L859.2 1048.2L861.1 1085.6L863.0 1089.1L864.9 1053.3L866.8 1085.4L868.7 1090.9L870.6 1057.7L872.6 1091.2L874.5 1095.5L876.4 1055.2L878.3 1090.6L880.2 1094.4L882.1 1059.0L884.0 1091.0L885.9 1096.3L887.8 1059.5L889.7 1091.4L891.6 1096.1L893.5 1063.1L895.4 1097.9L897.3 1103.9L899.2 1077.2L901.1 1103.5L903.0 1111.9L904.9 1097.8L906.8 1112.9L908.7 1116.8L910.6 1105.5L912.5 1122.3L914.4 1125.4L916.3 1117.9L918.2 1127.0L920.2 1132.2L922.1 1118.8L924.0 1137.9L925.9 1136.0L927.8 1113.5L929.7 1147.3L931.6 1147.1L933.5 1120.1L935.4 1161.6L937.3 1168.0L939.2 1148.9L941.1 1167.2L943.0 1178.1L944.9 1154.3L946.8 1179.3L948.7 1177.8L950.6 1161.0L952.5 1177.2L954.4 1181.3L956.3 1166.9L958.2 1183.5L960.1 1193.7L962.0 1179.0L963.9 1193.8L965.8 1202.1L967.8 1186.7L969.7 1202.0L971.6 1204.9L973.5 1195.4L975.4 1209.2L977.3 1208.3L979.2 1202.7L981.1 1210.3L983.0 1213.1L984.9 1210.8L986.8 1215.8L988.7 1217.1L990.6 1212.7L992.5 1214.2L994.4 1212.7L996.3 1195.6L998.2 1202.9L1000.1 1205.5L1002.0 1185.4L1003.9 1196.7L1005.8 1200.1L1007.7 1177.8L1009.6 1187.0L1011.5 1190.9L1013.4 1165.1L1015.4 1188.7L1017.3 1185.6L1019.2 1152.9L1021.1 1182.6L1023.0 1176.8L1024.9 1137.9L1026.8 1166.2L1028.7 1155.9L1030.6 1120.7L1032.5 1137.9L1034.4 1142.5L1036.3 1103.8L1038.2 1128.0L1040.1 1138.3L1042.0 1101.2L1043.9 1119.6L1045.8 1118.0L1047.7 1093.1L1049.6 1116.9L1051.5 1116.9L1053.4 1089.5L1055.3 1112.1L1057.2 1113.7L1059.1 1086.2L1061.0 1103.9L1063.0 1107.4L1064.9 1083.5L1066.8 1096.9L1068.7 1104.7L1070.6 1077.0L1072.5 1094.2L1074.4 1100.4L1076.3 1074.6L1078.2 1090.4L1080.1 1099.2L1082.0 1069.5L1083.9 1091.8L1085.8 1091.5L1087.7 1067.6L1089.6 1091.4L1091.5 1094.0L1093.4 1062.0L1095.3 1088.6L1097.2 1087.0L1099.1 1071.1L1101.0 1088.0L1102.9 1083.2L1104.8 1050.4L1106.7 1048.0L1108.6 1051.6L1110.6 1027.1L1112.5 1103.9L1114.4 1027.1L1116.3 1014.7L1118.2 1029.6L1120.1 1028.3L1122.0 1019.6L1123.9 1045.9L1125.8 1026.8L1127.7 1016.5L1129.6 1014.7L1131.5 989.9L1133.4 995.3L1135.3 984.9L1137.2 1000.7L1139.1 985.2L1141.0 992.4L1142.9 980.5L1144.8 996.3L1146.7 991.2L1148.6 1000.3L1150.5 996.3L1152.4 1001.7L1154.3 991.4L1156.2 981.2L1158.2 986.4L1160.1 1024.6L1162.0 997.3L1163.9 1027.5L1165.8 1035.3L1167.7 1051.9L1169.6 977.5L1171.5 989.9L1173.4 1017.2L1175.3 940.3L1177.2 1007.2L1179.1 1002.3" stroke="#e81c23" stroke-width="1.75" fill="none" stroke-linejoin="round" stroke-linecap="square"/>
<path d="M800.2 1103.1L802.1 1091.9L804.0 1099.0L805.9 1103.6L807.8 1092.9L809.7 1101.7L811.6 1105.4L813.5 1095.3L815.4 1103.2L817.3 1107.5L819.2 1099.4L821.1 1106.9L823.0 1112.0L825.0 1100.0L826.9 1108.5L828.8 1113.8L830.7 1102.0L832.6 1110.9L834.5 1116.4L836.4 1105.2L838.3 1113.9L840.2 1117.6L842.1 1108.0L844.0 1116.4L845.9 1119.7L847.8 1110.7L849.7 1116.4L851.6 1123.0L853.5 1112.8L855.4 1118.5L857.3 1124.2L859.2 1113.2L861.1 1122.8L863.0 1126.9L864.9 1116.9L866.8 1122.8L868.7 1129.2L870.6 1118.6L872.6 1126.3L874.5 1129.2L876.4 1122.6L878.3 1126.1L880.2 1130.5L882.1 1123.5L884.0 1129.4L885.9 1131.8L887.8 1126.9L889.7 1132.0L891.6 1136.1L893.5 1131.1L895.4 1136.5L897.3 1139.1L899.2 1132.8L901.1 1139.1L903.0 1144.7L904.9 1138.5L906.8 1143.0L908.7 1147.5L910.6 1139.1L912.5 1145.2L914.4 1148.6L916.3 1143.3L918.2 1149.7L920.2 1152.9L922.1 1146.8L924.0 1153.3L925.9 1157.3L927.8 1149.4L929.7 1157.0L931.6 1161.7L933.5 1156.0L935.4 1161.2L937.3 1165.8L939.2 1161.1L941.1 1169.4L943.0 1173.1L944.9 1167.4L946.8 1174.7L948.7 1179.2L950.6 1175.2L952.5 1179.9L954.4 1186.6L956.3 1179.7L958.2 1186.2L960.1 1191.9L962.0 1184.9L963.9 1193.0L965.8 1198.6L967.8 1192.6L969.7 1199.1L971.6 1202.0L973.5 1199.8L975.4 1206.1L977.3 1210.1L979.2 1208.7L981.1 1212.8L983.0 1213.8L984.9 1212.1L986.8 1215.2L988.7 1219.6L990.6 1215.5L992.5 1216.0L994.4 1216.4L996.3 1210.7L998.2 1212.5L1000.1 1212.8L1002.0 1207.3L1003.9 1207.1L1005.8 1205.7L1007.7 1198.8L1009.6 1199.4L1011.5 1199.6L1013.4 1192.6L1015.4 1195.2L1017.3 1195.6L1019.2 1186.2L1021.1 1188.9L1023.0 1190.4L1024.9 1180.0L1026.8 1184.1L1028.7 1183.6L1030.6 1175.8L1032.5 1177.9L1034.4 1177.1L1036.3 1166.7L1038.2 1170.0L1040.1 1170.1L1042.0 1160.7L1043.9 1160.8L1045.8 1163.1L1047.7 1154.3L1049.6 1158.5L1051.5 1158.9L1053.4 1151.1L1055.3 1153.4L1057.2 1154.6L1059.1 1145.5L1061.0 1151.2L1063.0 1153.2L1064.9 1142.6L1066.8 1147.4L1068.7 1149.7L1070.6 1140.7L1072.5 1144.1L1074.4 1147.6L1076.3 1138.4L1078.2 1141.5L1080.1 1144.2L1082.0 1134.9L1083.9 1140.3L1085.8 1142.4L1087.7 1132.4L1089.6 1136.5L1091.5 1138.0L1093.4 1131.0L1095.3 1134.6L1097.2 1136.1L1099.1 1126.8L1101.0 1131.1L1102.9 1134.0L1104.8 1124.9L1106.7 1128.0L1108.6 1132.5L1110.6 1120.2L1112.5 1126.7L1114.4 1129.3L1116.3 1117.2L1118.2 1124.6L1120.1 1127.1L1122.0 1117.3L1123.9 1122.3L1125.8 1127.2L1127.7 1115.0L1129.6 1120.7L1131.5 1124.4L1133.4 1113.9L1135.3 1118.8L1137.2 1119.7L1139.1 1115.9L1141.0 1118.1L1142.9 1118.8L1144.8 1114.8L1146.7 1116.8L1148.6 1119.2L1150.5 1116.2L1152.4 1116.6L1154.3 1119.0L1156.2 1115.0L1158.2 1117.7L1160.1 1118.0L1162.0 1113.9L1163.9 1116.4L1165.8 1120.2L1167.7 1108.7L1169.6 1116.5L1171.5 1118.8L1173.4 1106.6L1175.3 1113.7L1177.2 1118.5L1179.1 1104.7" stroke="#fba41d" stroke-width="1.75" fill="none" stroke-linejoin="round" stroke-linecap="square"/>
</svg>
<rect x="787.7" y="932.6" width="162.2" height="37" rx="2.3" fill="#fff" fill-opacity="0.8" stroke="#ccc" stroke-opacity="0.8" stroke-width="1"/>
<path d="M791.9 940.7h23.4" stroke="#e81c23" stroke-width="1.75"/>
<text x="824.7" y="944.8" font-size="11.7" font-family="'DejaVu Sans', sans-serif" fill="#111">DNAse within peaks</text>
<path d="M791.9 958.6h23.4" stroke="#fba41d" stroke-width="1.75"/>
<text x="824.7" y="962.7" font-size="11.7" font-family="'DejaVu Sans', sans-serif" fill="#111">DNAse genome wide</text>
<rect x="781.3" y="926.8" width="417.6" height="306.7" fill="none" stroke="#000" stroke-width="0.95"/>
<text x="784.13" y="1251.1" font-size="11.7" font-family="'DejaVu Sans', sans-serif" fill="#111">−100</text>
<text x="835.45" y="1251.1" font-size="11.7" font-family="'DejaVu Sans', sans-serif" fill="#111">−75</text>
<text x="883.05" y="1251.1" font-size="11.7" font-family="'DejaVu Sans', sans-serif" fill="#111">−50</text>
<text x="930.65" y="1251.1" font-size="11.7" font-family="'DejaVu Sans', sans-serif" fill="#111">−25</text>
<text x="986.88" y="1251.1" font-size="11.7" font-family="'DejaVu Sans', sans-serif" fill="#111">0</text>
<text x="1030.76" y="1251.1" font-size="11.7" font-family="'DejaVu Sans', sans-serif" fill="#111">25</text>
<text x="1078.36" y="1251.1" font-size="11.7" font-family="'DejaVu Sans', sans-serif" fill="#111">50</text>
<text x="1125.96" y="1251.1" font-size="11.7" font-family="'DejaVu Sans', sans-serif" fill="#111">75</text>
<text x="1169.83" y="1251.1" font-size="11.7" font-family="'DejaVu Sans', sans-serif" fill="#111">100</text>
<text x="747.05" y="1229.8" font-size="11.7" font-family="'DejaVu Sans', sans-serif" fill="#111">0.00</text>
<text x="747.05" y="1180.22" font-size="11.7" font-family="'DejaVu Sans', sans-serif" fill="#111">0.02</text>
<text x="747.05" y="1130.64" font-size="11.7" font-family="'DejaVu Sans', sans-serif" fill="#111">0.04</text>
<text x="747.05" y="1081.06" font-size="11.7" font-family="'DejaVu Sans', sans-serif" fill="#111">0.06</text>
<text x="747.05" y="1031.48" font-size="11.7" font-family="'DejaVu Sans', sans-serif" fill="#111">0.08</text>
<text x="747.05" y="981.9" font-size="11.7" font-family="'DejaVu Sans', sans-serif" fill="#111">0.10</text>
<text x="747.05" y="932.32" font-size="11.7" font-family="'DejaVu Sans', sans-serif" fill="#111">0.12</text>
<path d="M800.2 1233.5v4.1M847.8 1233.5v4.1M895.4 1233.5v4.1M943 1233.5v4.1M990.6 1233.5v4.1M1038.2 1233.5v4.1M1085.8 1233.5v4.1M1133.4 1233.5v4.1M1181 1233.5v4.1M781.3 1225.4h-4.1M781.3 1175.82h-4.1M781.3 1126.24h-4.1M781.3 1076.66h-4.1M781.3 1027.08h-4.1M781.3 977.5h-4.1M781.3 927.92h-4.1" stroke="#000" stroke-width="0.95" fill="none"/>
<text x="918.15" y="1266.7" font-size="11.7" font-family="'DejaVu Sans', sans-serif" fill="#111">position relative to motif</text>
<text transform="translate(739.2 1080.15) rotate(-90)" x="-57.85" y="0" font-size="11.7" font-family="'DejaVu Sans', sans-serif" fill="#111">average DNA signal</text>
<svg x="1318.5" y="927.4" width="417" height="306.6" viewBox="1318.5 927.4 417 306.6" overflow="hidden">
<path d="M1336.9 973.7L1338.8 1138.2L1340.7 1138.2L1342.6 1088.8L1344.5 1072.4L1346.4 1023.0L1348.3 1039.5L1350.2 1006.6L1352.1 940.8L1354.0 1138.2L1355.9 1023.0L1357.8 1154.6L1359.7 1204.0L1361.7 1171.1L1363.6 1121.7L1365.5 1105.3L1367.4 1138.2L1369.3 1072.4L1371.2 1055.9L1373.1 1154.6L1375.0 1154.6L1376.9 1138.2L1378.8 1072.4L1380.7 1154.6L1382.6 1072.4L1384.5 1121.7L1386.4 973.7L1388.3 1088.8L1390.2 1023.0L1392.1 1138.2L1394.0 1154.6L1395.9 1088.8L1397.8 1023.0L1399.7 1138.2L1401.6 1039.5L1403.5 1121.7L1405.4 1039.5L1407.3 1154.6L1409.3 1121.7L1411.2 1121.7L1413.1 1039.5L1415.0 1105.3L1416.9 1138.2L1418.8 1072.4L1420.7 1088.8L1422.6 1154.6L1424.5 1187.5L1426.4 1105.3L1428.3 1072.4L1430.2 1138.2L1432.1 1138.2L1434.0 1154.6L1435.9 1088.8L1437.8 1072.4L1439.7 1121.7L1441.6 1088.8L1443.5 1072.4L1445.4 1055.9L1447.3 1171.1L1449.2 1171.1L1451.1 1121.7L1453.0 1072.4L1454.9 1006.6L1456.9 1055.9L1458.8 1088.8L1460.7 1088.8L1462.6 1055.9L1464.5 1105.3L1466.4 1121.7L1468.3 1105.3L1470.2 1121.7L1472.1 1154.6L1474.0 1220.4L1475.9 1171.1L1477.8 1088.8L1479.7 1006.6L1481.6 1138.2L1483.5 1088.8L1485.4 1154.6L1487.3 1171.1L1489.2 1138.2L1491.1 1204.0L1493.0 1088.8L1494.9 1138.2L1496.8 973.7L1498.7 1088.8L1500.6 1154.6L1502.5 1138.2L1504.5 1121.7L1506.4 1187.5L1508.3 1039.5L1510.2 1171.1L1512.1 1187.5L1514.0 1204.0L1515.9 1171.1L1517.8 1088.8L1519.7 1187.5L1521.6 1138.2L1523.5 1154.6L1525.4 1171.1L1527.3 1187.5L1529.2 1154.6L1531.1 1138.2L1533.0 1154.6L1534.9 1138.2L1536.8 1154.6L1538.7 1171.1L1540.6 1105.3L1542.5 1138.2L1544.4 1121.7L1546.3 1171.1L1548.2 1220.4L1550.1 1171.1L1552.1 1154.6L1554.0 1204.0L1555.9 1154.6L1557.8 1105.3L1559.7 1138.2L1561.6 1121.7L1563.5 1171.1L1565.4 1204.0L1567.3 1204.0L1569.2 1171.1L1571.1 1220.4L1573.0 1072.4L1574.9 1154.6L1576.8 1204.0L1578.7 1187.5L1580.6 1105.3L1582.5 1154.6L1584.4 1138.2L1586.3 1023.0L1588.2 1187.5L1590.1 1187.5L1592.0 1121.7L1593.9 1154.6L1595.8 1220.4L1597.7 1187.5L1599.7 1138.2L1601.6 1204.0L1603.5 1187.5L1605.4 1154.6L1607.3 1154.6L1609.2 1204.0L1611.1 1171.1L1613.0 1187.5L1614.9 1154.6L1616.8 1171.1L1618.7 1138.2L1620.6 1187.5L1622.5 1171.1L1624.4 1187.5L1626.3 1105.3L1628.2 1187.5L1630.1 1138.2L1632.0 1187.5L1633.9 1154.6L1635.8 1171.1L1637.7 1105.3L1639.6 1154.6L1641.5 1187.5L1643.4 1138.2L1645.3 1154.6L1647.3 1187.5L1649.2 1055.9L1651.1 1088.8L1653.0 1171.1L1654.9 1187.5L1656.8 1138.2L1658.7 1072.4L1660.6 1039.5L1662.5 1006.6L1664.4 1204.0L1666.3 1187.5L1668.2 1105.3L1670.1 1154.6L1672.0 1072.4L1673.9 973.7L1675.8 1072.4L1677.7 940.8L1679.6 1171.1L1681.5 1154.6L1683.4 1187.5L1685.3 1023.0L1687.2 1055.9L1689.1 1023.0L1691.0 1055.9L1692.9 1121.7L1694.9 1154.6L1696.8 1154.6L1698.7 1187.5L1700.6 1105.3L1702.5 1220.4L1704.4 1072.4L1706.3 1006.6L1708.2 1187.5L1710.1 1023.0L1712.0 940.8L1713.9 1023.0L1715.8 1039.5" stroke="#e81c23" stroke-width="1.75" fill="none" stroke-linejoin="round" stroke-linecap="square"/>
<path d="M1336.9 1154.5L1338.8 1150.3L1340.7 1150.8L1342.6 1150.1L1344.5 1153.6L1346.4 1149.5L1348.3 1149.3L1350.2 1150.2L1352.1 1149.4L1354.0 1152.2L1355.9 1151.3L1357.8 1151.3L1359.7 1148.6L1361.7 1149.2L1363.6 1152.2L1365.5 1150.2L1367.4 1150.1L1369.3 1153.0L1371.2 1149.2L1373.1 1152.7L1375.0 1153.3L1376.9 1152.7L1378.8 1153.1L1380.7 1150.0L1382.6 1153.0L1384.5 1152.4L1386.4 1149.5L1388.3 1153.4L1390.2 1151.5L1392.1 1150.3L1394.0 1152.0L1395.9 1153.0L1397.8 1151.3L1399.7 1150.7L1401.6 1151.7L1403.5 1148.8L1405.4 1148.0L1407.3 1148.8L1409.3 1150.0L1411.2 1148.8L1413.1 1145.9L1415.0 1149.6L1416.9 1148.2L1418.8 1148.3L1420.7 1148.0L1422.6 1149.3L1424.5 1148.2L1426.4 1147.6L1428.3 1147.8L1430.2 1149.3L1432.1 1149.1L1434.0 1148.3L1435.9 1148.3L1437.8 1147.3L1439.7 1147.9L1441.6 1151.2L1443.5 1147.6L1445.4 1150.4L1447.3 1149.6L1449.2 1149.9L1451.1 1149.3L1453.0 1149.6L1454.9 1151.1L1456.9 1149.5L1458.8 1147.1L1460.7 1146.5L1462.6 1149.0L1464.5 1150.7L1466.4 1155.3L1468.3 1157.4L1470.2 1158.1L1472.1 1156.9L1474.0 1155.1L1475.9 1149.8L1477.8 1151.9L1479.7 1156.8L1481.6 1160.5L1483.5 1163.2L1485.4 1165.4L1487.3 1167.5L1489.2 1161.7L1491.1 1155.8L1493.0 1151.6L1494.9 1153.1L1496.8 1151.5L1498.7 1148.6L1500.6 1151.4L1502.5 1155.1L1504.5 1159.3L1506.4 1154.8L1508.3 1152.1L1510.2 1166.5L1512.1 1179.8L1514.0 1180.7L1515.9 1178.8L1517.8 1172.2L1519.7 1163.2L1521.6 1167.9L1523.5 1175.0L1525.4 1148.7L1527.3 1168.0L1529.2 1155.0L1531.1 1141.7L1533.0 1147.9L1534.9 1148.5L1536.8 1150.5L1538.7 1141.8L1540.6 1131.0L1542.5 1140.1L1544.4 1143.0L1546.3 1151.0L1548.2 1158.0L1550.1 1161.1L1552.1 1160.3L1554.0 1158.5L1555.9 1150.8L1557.8 1144.8L1559.7 1140.1L1561.6 1145.0L1563.5 1150.3L1565.4 1147.2L1567.3 1141.1L1569.2 1144.5L1571.1 1146.1L1573.0 1144.9L1574.9 1147.9L1576.8 1150.1L1578.7 1150.3L1580.6 1154.6L1582.5 1152.6L1584.4 1155.9L1586.3 1149.5L1588.2 1143.8L1590.1 1139.3L1592.0 1134.8L1593.9 1138.9L1595.8 1144.8L1597.7 1147.1L1599.7 1148.3L1601.6 1149.4L1603.5 1145.3L1605.4 1146.3L1607.3 1145.4L1609.2 1144.2L1611.1 1146.9L1613.0 1145.1L1614.9 1145.6L1616.8 1140.9L1618.7 1138.3L1620.6 1138.5L1622.5 1142.6L1624.4 1142.1L1626.3 1140.8L1628.2 1143.6L1630.1 1142.8L1632.0 1145.1L1633.9 1142.0L1635.8 1145.1L1637.7 1141.5L1639.6 1141.1L1641.5 1140.2L1643.4 1142.8L1645.3 1141.8L1647.3 1142.2L1649.2 1142.6L1651.1 1141.4L1653.0 1144.6L1654.9 1140.6L1656.8 1140.2L1658.7 1142.9L1660.6 1142.1L1662.5 1139.0L1664.4 1139.9L1666.3 1144.3L1668.2 1145.9L1670.1 1144.0L1672.0 1140.6L1673.9 1141.5L1675.8 1139.8L1677.7 1138.1L1679.6 1140.2L1681.5 1138.7L1683.4 1141.0L1685.3 1144.0L1687.2 1145.3L1689.1 1146.5L1691.0 1142.4L1692.9 1144.6L1694.9 1142.7L1696.8 1145.1L1698.7 1143.5L1700.6 1142.8L1702.5 1144.2L1704.4 1143.8L1706.3 1145.4L1708.2 1144.1L1710.1 1141.1L1712.0 1142.5L1713.9 1142.5L1715.8 1141.9" stroke="#fba41d" stroke-width="1.75" fill="none" stroke-linejoin="round" stroke-linecap="square"/>
</svg>
<rect x="1445.6" y="933.4" width="162.8" height="37.6" rx="2.3" fill="#fff" fill-opacity="0.8" stroke="#ccc" stroke-opacity="0.8" stroke-width="1"/>
<path d="M1449.8 941.5h23.4" stroke="#e81c23" stroke-width="1.75"/>
<text x="1482.6" y="945.6" font-size="11.7" font-family="'DejaVu Sans', sans-serif" fill="#111">DNAse within peaks</text>
<path d="M1449.8 959.4h23.4" stroke="#fba41d" stroke-width="1.75"/>
<text x="1482.6" y="963.5" font-size="11.7" font-family="'DejaVu Sans', sans-serif" fill="#111">DNAse genome wide</text>
<rect x="1318.5" y="927.4" width="417" height="306.6" fill="none" stroke="#000" stroke-width="0.95"/>
<text x="1320.83" y="1251.6" font-size="11.7" font-family="'DejaVu Sans', sans-serif" fill="#111">−100</text>
<text x="1372.15" y="1251.6" font-size="11.7" font-family="'DejaVu Sans', sans-serif" fill="#111">−75</text>
<text x="1419.75" y="1251.6" font-size="11.7" font-family="'DejaVu Sans', sans-serif" fill="#111">−50</text>
<text x="1467.35" y="1251.6" font-size="11.7" font-family="'DejaVu Sans', sans-serif" fill="#111">−25</text>
<text x="1523.58" y="1251.6" font-size="11.7" font-family="'DejaVu Sans', sans-serif" fill="#111">0</text>
<text x="1567.46" y="1251.6" font-size="11.7" font-family="'DejaVu Sans', sans-serif" fill="#111">25</text>
<text x="1615.06" y="1251.6" font-size="11.7" font-family="'DejaVu Sans', sans-serif" fill="#111">50</text>
<text x="1662.66" y="1251.6" font-size="11.7" font-family="'DejaVu Sans', sans-serif" fill="#111">75</text>
<text x="1706.53" y="1251.6" font-size="11.7" font-family="'DejaVu Sans', sans-serif" fill="#111">100</text>
<text x="1284.25" y="1224.8" font-size="11.7" font-family="'DejaVu Sans', sans-serif" fill="#111">0.00</text>
<text x="1284.25" y="1175.46" font-size="11.7" font-family="'DejaVu Sans', sans-serif" fill="#111">0.02</text>
<text x="1284.25" y="1126.12" font-size="11.7" font-family="'DejaVu Sans', sans-serif" fill="#111">0.04</text>
<text x="1284.25" y="1076.78" font-size="11.7" font-family="'DejaVu Sans', sans-serif" fill="#111">0.06</text>
<text x="1284.25" y="1027.44" font-size="11.7" font-family="'DejaVu Sans', sans-serif" fill="#111">0.08</text>
<text x="1284.25" y="978.1" font-size="11.7" font-family="'DejaVu Sans', sans-serif" fill="#111">0.10</text>
<path d="M1336.9 1234v4.1M1384.5 1234v4.1M1432.1 1234v4.1M1479.7 1234v4.1M1527.3 1234v4.1M1574.9 1234v4.1M1622.5 1234v4.1M1670.1 1234v4.1M1717.7 1234v4.1M1318.5 1220.4h-4.1M1318.5 1171.06h-4.1M1318.5 1121.72h-4.1M1318.5 1072.38h-4.1M1318.5 1023.04h-4.1M1318.5 973.7h-4.1" stroke="#000" stroke-width="0.95" fill="none"/>
<text x="1455.05" y="1267.2" font-size="11.7" font-family="'DejaVu Sans', sans-serif" fill="#111">position relative to motif</text>
<text transform="translate(1276.1 1080.7) rotate(-90)" x="-57.85" y="0" font-size="11.7" font-family="'DejaVu Sans', sans-serif" fill="#111">average DNA signal</text>
<svg x="782.2" y="1342.6" width="417.6" height="306.7" viewBox="782.2 1342.6 417.6 306.7" overflow="hidden">
<path d="M801.4 1366.0L805.1 1377.8L808.9 1377.3L812.7 1376.8L816.5 1385.7L820.3 1386.6L824.1 1378.8L827.9 1385.7L831.7 1388.6L835.5 1375.9L839.3 1380.8L843.1 1385.7L846.8 1375.9L850.6 1374.4L854.4 1379.3L858.2 1373.4L862.0 1373.9L865.8 1379.8L869.6 1372.9L873.4 1372.4L877.2 1380.8L881.0 1386.6L884.8 1383.7L888.5 1386.6L892.3 1389.6L896.1 1391.6L899.9 1393.5L903.7 1394.0L907.5 1394.5L911.3 1397.4L915.1 1396.5L918.9 1391.6L922.7 1398.4L926.5 1392.0L930.2 1385.7L934.0 1394.5L937.8 1388.1L941.6 1381.7L945.4 1393.5L949.2 1387.6L953.0 1381.7L956.8 1393.5L960.6 1390.1L964.4 1386.6L968.2 1400.4L971.9 1397.9L975.7 1395.5L979.5 1407.7L983.3 1406.8L987.1 1403.3L990.9 1417.5L994.7 1410.2L998.5 1408.7L1002.3 1422.9L1006.1 1417.5L1009.9 1416.1L1013.6 1427.4L1017.4 1424.9L1021.2 1424.9L1025.0 1432.3L1028.8 1431.3L1032.6 1422.9L1036.4 1432.8L1040.2 1427.8L1044.0 1419.0L1047.8 1430.8L1051.6 1424.9L1055.3 1420.0L1059.1 1427.8L1062.9 1424.9L1066.7 1414.1L1070.5 1417.1L1074.3 1409.2L1078.1 1399.4L1081.9 1410.2L1085.7 1400.4L1089.5 1393.5L1093.3 1405.3L1097.0 1396.5L1100.8 1393.5L1104.6 1393.0L1108.4 1388.6L1112.2 1388.6L1116.0 1388.6L1119.8 1390.6L1123.6 1389.6L1127.4 1382.7L1131.2 1387.6L1135.0 1387.6L1138.7 1377.8L1142.5 1382.7L1146.3 1380.8L1150.1 1372.4L1153.9 1374.4L1157.7 1374.9L1161.5 1366.0L1165.3 1360.2L1169.1 1361.1L1172.9 1358.2L1176.7 1354.8L1180.5 1355.7" stroke="#2f4ba0" stroke-width="1.75" fill="none" stroke-linejoin="round" stroke-linecap="square"/>
<path d="M801.4 1496.1L805.1 1501.3L808.9 1503.1L812.7 1503.6L816.5 1504.4L820.3 1506.8L824.1 1508.7L827.9 1510.2L831.7 1511.1L835.5 1513.2L839.3 1512.9L843.1 1515.9L846.8 1516.9L850.6 1518.2L854.4 1519.7L858.2 1522.3L862.0 1525.6L865.8 1528.3L869.6 1531.8L873.4 1533.4L877.2 1538.2L881.0 1541.9L884.8 1544.3L888.5 1546.7L892.3 1550.2L896.1 1554.9L899.9 1558.0L903.7 1561.9L907.5 1565.0L911.3 1569.6L915.1 1572.2L918.9 1576.8L922.7 1580.3L926.5 1584.1L930.2 1585.5L934.0 1588.4L937.8 1592.4L941.6 1595.8L945.4 1600.5L949.2 1603.3L953.0 1607.3L956.8 1610.4L960.6 1612.8L964.4 1615.7L968.2 1617.9L971.9 1618.8L975.7 1620.7L979.5 1620.9L983.3 1623.6L987.1 1624.2L990.9 1624.5L994.7 1623.1L998.5 1628.0L1002.3 1629.6L1006.1 1629.9L1009.9 1632.2L1013.6 1633.1L1017.4 1633.8L1021.2 1635.2L1025.0 1633.4L1028.8 1632.2L1032.6 1631.6L1036.4 1632.1L1040.2 1627.0L1044.0 1627.0L1047.8 1627.2L1051.6 1622.7L1055.3 1622.2L1059.1 1619.8L1062.9 1613.7L1066.7 1606.1L1070.5 1598.5L1074.3 1592.1L1078.1 1587.0L1081.9 1581.7L1085.7 1577.2L1089.5 1572.9L1093.3 1566.6L1097.0 1562.5L1100.8 1558.5L1104.6 1552.8L1108.4 1549.0L1112.2 1544.4L1116.0 1539.3L1119.8 1535.6L1123.6 1530.2L1127.4 1527.2L1131.2 1523.2L1135.0 1519.2L1138.7 1515.8L1142.5 1511.3L1146.3 1509.8L1150.1 1506.3L1153.9 1501.9L1157.7 1499.8L1161.5 1499.3L1165.3 1495.2L1169.1 1492.3L1172.9 1490.0L1176.7 1487.0L1180.5 1484.2" stroke="#87ceeb" stroke-width="1.75" fill="none" stroke-linejoin="round" stroke-linecap="square"/>
<path d="M801.4 1409.2L805.1 1409.2L808.9 1449.4L812.7 1421.2L816.5 1417.5L820.3 1456.8L824.1 1427.8L827.9 1424.2L831.7 1464.1L835.5 1434.5L839.3 1430.8L843.1 1472.3L846.8 1441.1L850.6 1437.4L854.4 1480.5L858.2 1447.3L862.0 1443.3L865.8 1488.7L869.6 1452.9L873.4 1448.8L877.2 1498.5L881.0 1458.4L884.8 1454.3L888.5 1508.3L892.3 1465.9L896.1 1462.9L899.9 1518.1L903.7 1474.5L907.5 1471.5L911.3 1527.9L915.1 1481.1L918.9 1477.0L922.7 1537.7L926.5 1484.7L930.2 1478.9L934.0 1541.0L937.8 1484.7L941.6 1478.9L945.4 1544.3L949.2 1484.7L953.0 1478.9L956.8 1547.5L960.6 1484.7L964.4 1478.9L968.2 1550.0L971.9 1484.7L975.7 1478.9L979.5 1552.4L983.3 1484.7L987.1 1478.9L990.9 1550.0L994.7 1484.7L998.5 1478.9L1002.3 1549.2L1006.1 1484.7L1009.9 1478.9L1013.6 1548.3L1017.4 1486.0L1021.2 1481.3L1025.0 1547.5L1028.8 1489.7L1032.6 1483.8L1036.4 1547.5L1040.2 1489.7L1044.0 1483.8L1047.8 1547.5L1051.6 1489.2L1055.3 1482.8L1059.1 1540.2L1062.9 1487.7L1066.7 1481.3L1070.5 1527.9L1074.3 1481.1L1078.1 1472.1L1081.9 1513.2L1085.7 1472.5L1089.5 1464.1L1093.3 1503.4L1097.0 1465.1L1100.8 1456.8L1104.6 1493.6L1108.4 1457.8L1112.2 1449.4L1116.0 1483.8L1119.8 1450.4L1123.6 1442.1L1127.4 1474.0L1131.2 1443.1L1135.0 1434.7L1138.7 1466.6L1142.5 1435.7L1146.3 1427.4L1150.1 1459.2L1153.9 1428.3L1157.7 1420.0L1161.5 1451.9L1165.3 1421.0L1169.1 1412.6L1172.9 1444.5L1176.7 1413.6L1180.5 1405.3" stroke="#e81c23" stroke-width="1.75" fill="none" stroke-linejoin="round" stroke-linecap="square"/>
<path d="M801.4 1423.8L805.1 1425.2L808.9 1429.9L812.7 1431.7L816.5 1433.6L820.3 1437.6L824.1 1439.8L827.9 1446.0L831.7 1448.7L835.5 1450.2L839.3 1453.1L843.1 1459.7L846.8 1464.7L850.6 1469.2L854.4 1473.0L858.2 1479.7L862.0 1483.2L865.8 1487.3L869.6 1492.3L873.4 1499.5L877.2 1502.0L881.0 1509.4L884.8 1513.8L888.5 1519.0L892.3 1522.0L896.1 1527.9L899.9 1532.8L903.7 1536.5L907.5 1543.2L911.3 1546.4L915.1 1551.6L918.9 1556.5L922.7 1559.9L926.5 1565.6L930.2 1567.2L934.0 1571.8L937.8 1573.9L941.6 1579.1L945.4 1579.6L949.2 1584.5L953.0 1587.9L956.8 1589.0L960.6 1589.7L964.4 1592.1L968.2 1595.8L971.9 1596.6L975.7 1596.7L979.5 1597.2L983.3 1598.6L987.1 1598.5L990.9 1598.7L994.7 1599.4L998.5 1596.7L1002.3 1597.5L1006.1 1596.9L1009.9 1596.2L1013.6 1595.1L1017.4 1592.8L1021.2 1590.3L1025.0 1588.7L1028.8 1586.7L1032.6 1582.6L1036.4 1579.6L1040.2 1576.9L1044.0 1574.4L1047.8 1569.7L1051.6 1568.4L1055.3 1562.2L1059.1 1558.1L1062.9 1551.4L1066.7 1548.8L1070.5 1543.4L1074.3 1537.9L1078.1 1533.5L1081.9 1528.4L1085.7 1522.3L1089.5 1519.0L1093.3 1514.0L1097.0 1507.2L1100.8 1502.7L1104.6 1498.6L1108.4 1493.0L1112.2 1487.6L1116.0 1484.2L1119.8 1479.8L1123.6 1473.6L1127.4 1469.3L1131.2 1463.0L1135.0 1459.0L1138.7 1456.9L1142.5 1452.9L1146.3 1450.8L1150.1 1444.4L1153.9 1443.5L1157.7 1437.2L1161.5 1436.1L1165.3 1432.6L1169.1 1428.4L1172.9 1426.6L1176.7 1422.2L1180.5 1419.9" stroke="#fba41d" stroke-width="1.75" fill="none" stroke-linejoin="round" stroke-linecap="square"/>
</svg>
<rect x="788.3" y="1570.2" width="201.3" height="73" rx="2.3" fill="#fff" fill-opacity="0.8" stroke="#ccc" stroke-opacity="0.8" stroke-width="1"/>
<path d="M792.5 1580h23.4" stroke="#2f4ba0" stroke-width="1.75"/>
<text x="825.3" y="1584.1" font-size="11.7" font-family="'DejaVu Sans', sans-serif" fill="#111">phastCons100way in peaks</text>
<path d="M792.5 1597.55h23.4" stroke="#87ceeb" stroke-width="1.75"/>
<text x="825.3" y="1601.65" font-size="11.7" font-family="'DejaVu Sans', sans-serif" fill="#111">phastCons30way in peaks</text>
<path d="M792.5 1615.1h23.4" stroke="#e81c23" stroke-width="1.75"/>
<text x="825.3" y="1619.2" font-size="11.7" font-family="'DejaVu Sans', sans-serif" fill="#111">phastCons100way</text>
<path d="M792.5 1632.65h23.4" stroke="#fba41d" stroke-width="1.75"/>
<text x="825.3" y="1636.75" font-size="11.7" font-family="'DejaVu Sans', sans-serif" fill="#111">phastCons30way</text>
<rect x="782.2" y="1342.6" width="417.6" height="306.7" fill="none" stroke="#000" stroke-width="0.95"/>
<text x="826.91" y="1666.9" font-size="11.7" font-family="'DejaVu Sans', sans-serif" fill="#111">−40</text>
<text x="902.73" y="1666.9" font-size="11.7" font-family="'DejaVu Sans', sans-serif" fill="#111">−20</text>
<text x="987.18" y="1666.9" font-size="11.7" font-family="'DejaVu Sans', sans-serif" fill="#111">0</text>
<text x="1059.28" y="1666.9" font-size="11.7" font-family="'DejaVu Sans', sans-serif" fill="#111">20</text>
<text x="1135.1" y="1666.9" font-size="11.7" font-family="'DejaVu Sans', sans-serif" fill="#111">40</text>
<text x="747.95" y="1620.6" font-size="11.7" font-family="'DejaVu Sans', sans-serif" fill="#111">0.06</text>
<text x="747.95" y="1571.55" font-size="11.7" font-family="'DejaVu Sans', sans-serif" fill="#111">0.07</text>
<text x="747.95" y="1522.5" font-size="11.7" font-family="'DejaVu Sans', sans-serif" fill="#111">0.08</text>
<text x="747.95" y="1473.45" font-size="11.7" font-family="'DejaVu Sans', sans-serif" fill="#111">0.09</text>
<text x="747.95" y="1424.4" font-size="11.7" font-family="'DejaVu Sans', sans-serif" fill="#111">0.10</text>
<text x="747.95" y="1375.35" font-size="11.7" font-family="'DejaVu Sans', sans-serif" fill="#111">0.11</text>
<path d="M839.26 1649.3v4.1M915.08 1649.3v4.1M990.9 1649.3v4.1M1066.72 1649.3v4.1M1142.54 1649.3v4.1M782.2 1616.2h-4.1M782.2 1567.15h-4.1M782.2 1518.1h-4.1M782.2 1469.05h-4.1M782.2 1420h-4.1M782.2 1370.95h-4.1" stroke="#000" stroke-width="0.95" fill="none"/>
<text x="919.05" y="1682.5" font-size="11.7" font-family="'DejaVu Sans', sans-serif" fill="#111">position relative to motif</text>
<text transform="translate(739.8 1495.95) rotate(-90)" x="-55.39" y="0" font-size="11.7" font-family="'DejaVu Sans', sans-serif" fill="#111">conservation score</text>
<svg x="1318.5" y="1338.2" width="417" height="307" viewBox="1318.5 1338.2 417 307" overflow="hidden">
<path d="M1337.4 1500.9L1341.1 1495.4L1344.9 1489.8L1348.7 1480.5L1352.5 1468.6L1356.3 1480.5L1360.1 1487.9L1363.9 1498.3L1367.6 1496.1L1371.4 1490.5L1375.2 1499.1L1379.0 1506.5L1382.8 1513.9L1386.6 1521.3L1390.4 1536.2L1394.2 1560.3L1397.9 1557.7L1401.7 1539.9L1405.5 1541.8L1409.3 1541.8L1413.1 1543.6L1416.9 1549.2L1420.7 1560.3L1424.5 1565.9L1428.2 1588.9L1432.0 1595.6L1435.8 1597.5L1439.6 1600.1L1443.4 1600.5L1447.2 1606.8L1451.0 1614.9L1454.7 1622.4L1458.5 1624.2L1462.3 1623.5L1466.1 1617.9L1469.9 1613.1L1473.7 1604.9L1477.5 1597.5L1481.3 1590.1L1485.0 1587.5L1488.8 1561.5L1492.6 1560.3L1496.4 1564.1L1500.2 1567.4L1504.0 1558.5L1507.8 1555.9L1511.6 1555.5L1515.3 1556.6L1519.1 1577.1L1522.9 1601.2L1526.7 1624.6L1530.5 1630.9L1534.3 1629.1L1538.1 1619.8L1541.8 1603.1L1545.6 1600.5L1549.4 1572.6L1553.2 1565.9L1557.0 1558.5L1560.8 1552.5L1564.6 1568.9L1568.4 1562.2L1572.1 1554.0L1575.9 1546.6L1579.7 1541.8L1583.5 1541.8L1587.3 1539.9L1591.1 1532.5L1594.9 1528.8L1598.7 1520.6L1602.4 1518.8L1606.2 1515.8L1610.0 1532.5L1613.8 1530.3L1617.6 1529.5L1621.4 1530.3L1625.2 1530.3L1628.9 1526.5L1632.7 1524.3L1636.5 1522.1L1640.3 1517.6L1644.1 1506.5L1647.9 1499.1L1651.7 1493.5L1655.5 1489.8L1659.2 1487.2L1663.0 1485.7L1666.8 1491.6L1670.6 1481.6L1674.4 1487.9L1678.2 1489.0L1682.0 1490.9L1685.8 1497.2L1689.5 1510.2L1693.3 1511.3L1697.1 1500.9L1700.9 1489.8L1704.7 1479.8L1708.5 1476.0L1712.3 1478.6L1716.0 1476.0" stroke="#2f4ba0" stroke-width="1.75" fill="none" stroke-linejoin="round" stroke-linecap="square"/>
<path d="M1337.4 1462.7L1341.1 1459.0L1344.9 1457.1L1348.7 1457.5L1352.5 1457.8L1356.3 1458.2L1360.1 1463.8L1363.9 1469.4L1367.6 1473.1L1371.4 1476.8L1375.2 1487.9L1379.0 1502.8L1382.8 1521.3L1386.6 1538.1L1390.4 1551.1L1394.2 1562.9L1397.9 1565.9L1401.7 1562.2L1405.5 1560.3L1409.3 1559.2L1413.1 1564.1L1416.9 1569.6L1420.7 1574.1L1424.5 1577.1L1428.2 1578.2L1432.0 1579.3L1435.8 1578.9L1439.6 1573.3L1443.4 1570.4L1447.2 1572.6L1451.0 1580.0L1454.7 1587.5L1458.5 1593.8L1462.3 1591.2L1466.1 1584.5L1469.9 1578.9L1473.7 1573.3L1477.5 1569.6L1481.3 1554.8L1485.0 1543.6L1488.8 1535.5L1492.6 1533.2L1496.4 1531.7L1500.2 1534.3L1504.0 1538.1L1507.8 1541.8L1511.6 1547.3L1515.3 1554.8L1519.1 1567.8L1522.9 1580.8L1526.7 1599.3L1530.5 1630.9L1534.3 1617.9L1538.1 1599.3L1541.8 1584.5L1545.6 1573.3L1549.4 1558.5L1553.2 1547.3L1557.0 1536.2L1560.8 1531.7L1564.6 1528.8L1568.4 1521.3L1572.1 1513.9L1575.9 1506.5L1579.7 1497.2L1583.5 1489.8L1587.3 1478.6L1591.1 1465.6L1594.9 1454.5L1598.7 1445.2L1602.4 1435.9L1606.2 1424.8L1610.0 1413.6L1613.8 1402.5L1617.6 1395.1L1621.4 1394.0L1625.2 1391.4L1628.9 1388.8L1632.7 1389.9L1636.5 1389.5L1640.3 1386.9L1644.1 1378.4L1647.9 1372.0L1651.7 1365.4L1655.5 1359.8L1659.2 1352.4L1663.0 1352.4L1666.8 1356.1L1670.6 1365.4L1674.4 1374.6L1678.2 1378.4L1682.0 1385.8L1685.8 1391.4L1689.5 1396.9L1693.3 1398.8L1697.1 1398.8L1700.9 1389.5L1704.7 1383.9L1708.5 1381.0L1712.3 1378.4L1716.0 1376.5" stroke="#87ceeb" stroke-width="1.75" fill="none" stroke-linejoin="round" stroke-linecap="square"/>
<path d="M1337.4 1458.2L1341.1 1456.7L1344.9 1459.3L1348.7 1456.4L1352.5 1453.8L1356.3 1457.5L1360.1 1456.7L1363.9 1455.6L1367.6 1458.2L1371.4 1455.6L1375.2 1455.2L1379.0 1457.8L1382.8 1454.5L1386.6 1451.9L1390.4 1456.0L1394.2 1455.6L1397.9 1454.9L1401.7 1456.7L1405.5 1454.1L1409.3 1452.3L1413.1 1457.5L1416.9 1456.7L1420.7 1457.8L1424.5 1461.9L1428.2 1457.8L1432.0 1459.3L1435.8 1465.6L1439.6 1464.9L1443.4 1466.4L1447.2 1469.7L1451.0 1468.6L1454.7 1466.8L1458.5 1473.4L1462.3 1473.1L1466.1 1474.6L1469.9 1482.4L1473.7 1476.0L1477.5 1472.3L1481.3 1470.8L1485.0 1461.9L1488.8 1456.0L1492.6 1460.4L1496.4 1467.5L1500.2 1481.6L1504.0 1491.6L1507.8 1487.6L1511.6 1490.9L1515.3 1502.8L1519.1 1508.4L1522.9 1516.9L1526.7 1530.3L1530.5 1530.6L1534.3 1534.3L1538.1 1534.3L1541.8 1528.0L1545.6 1526.9L1549.4 1534.3L1553.2 1531.7L1557.0 1533.2L1560.8 1536.9L1564.6 1530.6L1568.4 1524.3L1572.1 1524.3L1575.9 1521.3L1579.7 1528.0L1583.5 1532.5L1587.3 1531.0L1591.1 1529.9L1594.9 1534.3L1598.7 1532.5L1602.4 1531.7L1606.2 1532.5L1610.0 1526.5L1613.8 1524.3L1617.6 1525.8L1621.4 1521.3L1625.2 1521.3L1628.9 1522.8L1632.7 1520.6L1636.5 1519.1L1640.3 1522.1L1644.1 1521.3L1647.9 1520.2L1651.7 1522.1L1655.5 1519.5L1659.2 1517.6L1663.0 1522.1L1666.8 1520.2L1670.6 1519.1L1674.4 1521.3L1678.2 1519.1L1682.0 1516.2L1685.8 1518.8L1689.5 1516.5L1693.3 1514.7L1697.1 1518.8L1700.9 1515.4L1704.7 1513.9L1708.5 1514.7L1712.3 1513.2L1716.0 1511.7" stroke="#e81c23" stroke-width="1.75" fill="none" stroke-linejoin="round" stroke-linecap="square"/>
<path d="M1337.4 1353.5L1341.1 1353.3L1344.9 1354.2L1348.7 1353.8L1352.5 1354.4L1356.3 1353.8L1360.1 1354.4L1363.9 1353.6L1367.6 1352.5L1371.4 1352.3L1375.2 1351.7L1379.0 1352.2L1382.8 1352.6L1386.6 1353.8L1390.4 1354.0L1394.2 1353.8L1397.9 1354.2L1401.7 1353.9L1405.5 1354.8L1409.3 1354.2L1413.1 1355.0L1416.9 1355.0L1420.7 1356.9L1424.5 1356.5L1428.2 1358.2L1432.0 1360.0L1435.8 1360.9L1439.6 1362.3L1443.4 1363.0L1447.2 1364.5L1451.0 1365.7L1454.7 1367.7L1458.5 1369.8L1462.3 1369.5L1466.1 1370.8L1469.9 1371.6L1473.7 1368.4L1477.5 1369.6L1481.3 1368.0L1485.0 1366.2L1488.8 1364.8L1492.6 1366.5L1496.4 1373.0L1500.2 1379.2L1504.0 1385.8L1507.8 1391.7L1511.6 1404.7L1515.3 1416.8L1519.1 1426.1L1522.9 1435.8L1526.7 1442.2L1530.5 1449.0L1534.3 1450.4L1538.1 1450.2L1541.8 1450.8L1545.6 1453.4L1549.4 1454.4L1553.2 1455.2L1557.0 1457.0L1560.8 1454.5L1564.6 1456.1L1568.4 1451.5L1572.1 1450.9L1575.9 1449.4L1579.7 1451.9L1583.5 1451.8L1587.3 1452.4L1591.1 1451.4L1594.9 1451.5L1598.7 1451.3L1602.4 1450.6L1606.2 1449.6L1610.0 1447.1L1613.8 1446.2L1617.6 1443.6L1621.4 1442.9L1625.2 1441.5L1628.9 1441.0L1632.7 1440.8L1636.5 1440.5L1640.3 1441.1L1644.1 1440.6L1647.9 1439.4L1651.7 1439.2L1655.5 1438.8L1659.2 1437.9L1663.0 1436.2L1666.8 1436.5L1670.6 1435.3L1674.4 1435.6L1678.2 1435.6L1682.0 1435.4L1685.8 1435.1L1689.5 1434.8L1693.3 1434.7L1697.1 1435.3L1700.9 1434.6L1704.7 1433.1L1708.5 1432.6L1712.3 1431.0L1716.0 1429.5" stroke="#fba41d" stroke-width="1.75" fill="none" stroke-linejoin="round" stroke-linecap="square"/>
</svg>
<rect x="1527.3" y="1566.4" width="202.1" height="72.4" rx="2.3" fill="#fff" fill-opacity="0.8" stroke="#ccc" stroke-opacity="0.8" stroke-width="1"/>
<path d="M1531.5 1576.2h23.4" stroke="#2f4ba0" stroke-width="1.75"/>
<text x="1564.3" y="1580.3" font-size="11.7" font-family="'DejaVu Sans', sans-serif" fill="#111">phastCons100way in peaks</text>
<path d="M1531.5 1593.75h23.4" stroke="#87ceeb" stroke-width="1.75"/>
<text x="1564.3" y="1597.85" font-size="11.7" font-family="'DejaVu Sans', sans-serif" fill="#111">phastCons30way in peaks</text>
<path d="M1531.5 1611.3h23.4" stroke="#e81c23" stroke-width="1.75"/>
<text x="1564.3" y="1615.4" font-size="11.7" font-family="'DejaVu Sans', sans-serif" fill="#111">phastCons100way</text>
<path d="M1531.5 1628.85h23.4" stroke="#fba41d" stroke-width="1.75"/>
<text x="1564.3" y="1632.95" font-size="11.7" font-family="'DejaVu Sans', sans-serif" fill="#111">phastCons30way</text>
<rect x="1318.5" y="1338.2" width="417" height="307" fill="none" stroke="#000" stroke-width="0.95"/>
<text x="1362.87" y="1662.8" font-size="11.7" font-family="'DejaVu Sans', sans-serif" fill="#111">−40</text>
<text x="1438.61" y="1662.8" font-size="11.7" font-family="'DejaVu Sans', sans-serif" fill="#111">−20</text>
<text x="1522.98" y="1662.8" font-size="11.7" font-family="'DejaVu Sans', sans-serif" fill="#111">0</text>
<text x="1595" y="1662.8" font-size="11.7" font-family="'DejaVu Sans', sans-serif" fill="#111">20</text>
<text x="1670.74" y="1662.8" font-size="11.7" font-family="'DejaVu Sans', sans-serif" fill="#111">40</text>
<text x="1284.25" y="1618.6" font-size="11.7" font-family="'DejaVu Sans', sans-serif" fill="#111">0.06</text>
<text x="1284.25" y="1581.46" font-size="11.7" font-family="'DejaVu Sans', sans-serif" fill="#111">0.07</text>
<text x="1284.25" y="1544.32" font-size="11.7" font-family="'DejaVu Sans', sans-serif" fill="#111">0.08</text>
<text x="1284.25" y="1507.18" font-size="11.7" font-family="'DejaVu Sans', sans-serif" fill="#111">0.09</text>
<text x="1284.25" y="1470.04" font-size="11.7" font-family="'DejaVu Sans', sans-serif" fill="#111">0.10</text>
<text x="1284.25" y="1432.9" font-size="11.7" font-family="'DejaVu Sans', sans-serif" fill="#111">0.11</text>
<text x="1284.25" y="1395.76" font-size="11.7" font-family="'DejaVu Sans', sans-serif" fill="#111">0.12</text>
<text x="1284.25" y="1358.62" font-size="11.7" font-family="'DejaVu Sans', sans-serif" fill="#111">0.13</text>
<path d="M1375.22 1645.2v4.1M1450.96 1645.2v4.1M1526.7 1645.2v4.1M1602.44 1645.2v4.1M1678.18 1645.2v4.1M1318.5 1614.2h-4.1M1318.5 1577.06h-4.1M1318.5 1539.92h-4.1M1318.5 1502.78h-4.1M1318.5 1465.64h-4.1M1318.5 1428.5h-4.1M1318.5 1391.36h-4.1M1318.5 1354.22h-4.1" stroke="#000" stroke-width="0.95" fill="none"/>
<text x="1455.05" y="1678.4" font-size="11.7" font-family="'DejaVu Sans', sans-serif" fill="#111">position relative to motif</text>
<text transform="translate(1276.1 1491.7) rotate(-90)" x="-55.39" y="0" font-size="11.7" font-family="'DejaVu Sans', sans-serif" fill="#111">conservation score</text>
<svg x="783.4" y="1758.4" width="417.6" height="306.9" viewBox="783.4 1758.4 417.6 306.9" overflow="hidden">
<path d="M801.6 1775.5L805.4 1825.8L809.2 1793.2L813.0 1783.6L816.8 1827.3L820.6 1795.0L824.4 1781.9L828.2 1828.5L832.0 1794.6L835.7 1778.9L839.5 1826.0L843.3 1798.6L847.1 1788.9L850.9 1827.4L854.7 1804.9L858.5 1794.9L862.3 1824.4L866.1 1806.7L869.9 1798.0L873.7 1826.5L877.5 1810.0L881.3 1803.3L885.1 1828.0L888.9 1815.6L892.7 1808.5L896.4 1831.6L900.2 1816.1L904.0 1803.1L907.8 1843.6L911.6 1818.8L915.4 1812.0L919.2 1837.0L923.0 1819.3L926.8 1809.9L930.6 1840.8L934.4 1823.0L938.2 1816.2L942.0 1841.9L945.8 1820.6L949.6 1812.2L953.4 1842.4L957.2 1824.3L960.9 1815.2L964.7 1848.3L968.5 1827.0L972.3 1816.0L976.1 1861.2L979.9 1833.5L983.7 1827.2L987.5 1848.0L991.3 1832.1L995.1 1826.6L998.9 1850.8L1002.7 1833.0L1006.5 1828.6L1010.3 1854.4L1014.1 1837.1L1017.9 1824.2L1021.7 1872.6L1025.4 1843.2L1029.2 1832.8L1033.0 1862.0L1036.8 1838.5L1040.6 1829.9L1044.4 1856.5L1048.2 1839.2L1052.0 1828.3L1055.8 1864.0L1059.6 1838.9L1063.4 1828.3L1067.2 1860.6L1071.0 1832.9L1074.8 1818.2L1078.6 1848.6L1082.4 1827.6L1086.1 1819.1L1089.9 1840.2L1093.7 1824.9L1097.5 1818.6L1101.3 1830.0L1105.1 1820.0L1108.9 1814.7L1112.7 1824.3L1116.5 1814.5L1120.3 1808.4L1124.1 1825.2L1127.9 1813.0L1131.7 1806.0L1135.5 1821.3L1139.3 1807.4L1143.1 1801.5L1146.9 1813.9L1150.6 1804.0L1154.4 1798.9L1158.2 1805.6L1162.0 1797.1L1165.8 1791.0L1169.6 1803.7L1173.4 1797.3L1177.2 1793.9L1181.0 1810.3" stroke="#2f4ba0" stroke-width="1.75" fill="none" stroke-linejoin="round" stroke-linecap="square"/>
<path d="M801.6 1842.5L805.4 1957.1L809.2 1895.5L813.0 1853.6L816.8 1950.1L820.6 1898.1L824.4 1856.2L828.2 1962.5L832.0 1903.5L835.7 1856.4L839.5 1963.5L843.3 1903.4L847.1 1854.3L850.9 1962.8L854.7 1906.7L858.5 1856.8L862.3 1977.9L866.1 1909.8L869.9 1854.9L873.7 1975.1L877.5 1912.7L881.3 1858.0L885.1 1981.8L888.9 1913.7L892.7 1855.3L896.4 1987.4L900.2 1918.2L904.0 1855.0L907.8 1998.5L911.6 1919.3L915.4 1857.2L919.2 2001.4L923.0 1923.7L926.8 1858.0L930.6 2012.8L934.4 1928.5L938.2 1861.9L942.0 2017.6L945.8 1932.3L949.6 1860.1L953.4 2027.4L957.2 1936.9L960.9 1861.7L964.7 2030.0L968.5 1939.3L972.3 1860.7L976.1 2042.2L979.9 1941.2L983.7 1858.3L987.5 2033.4L991.3 1936.9L995.1 1856.9L998.9 2028.6L1002.7 1936.5L1006.5 1859.7L1010.3 2036.7L1014.1 1942.0L1017.9 1862.2L1021.7 2052.4L1025.4 1944.3L1029.2 1861.8L1033.0 2025.7L1036.8 1936.0L1040.6 1861.6L1044.4 2023.0L1048.2 1934.1L1052.0 1859.7L1055.8 2019.3L1059.6 1931.5L1063.4 1862.1L1067.2 2010.2L1071.0 1927.3L1074.8 1859.6L1078.6 2003.8L1082.4 1919.5L1086.1 1856.8L1089.9 1988.5L1093.7 1917.4L1097.5 1856.2L1101.3 1983.9L1105.1 1911.4L1108.9 1855.9L1112.7 1977.0L1116.5 1906.9L1120.3 1854.2L1124.1 1973.2L1127.9 1905.6L1131.7 1849.3L1135.5 1966.7L1139.3 1897.9L1143.1 1847.9L1146.9 1951.5L1150.6 1893.6L1154.4 1847.6L1158.2 1952.6L1162.0 1894.3L1165.8 1847.3L1169.6 1952.7L1173.4 1894.7L1177.2 1847.5L1181.0 1942.3" stroke="#87ceeb" stroke-width="1.4" fill="none" stroke-linejoin="round" stroke-linecap="square"/>
<path d="M801.6 1771.3L805.4 1786.5L809.2 1839.3L813.0 1776.4L816.8 1790.4L820.6 1844.3L824.4 1781.6L828.2 1796.5L832.0 1849.0L835.7 1781.3L839.5 1797.6L843.3 1857.8L847.1 1787.4L850.9 1804.0L854.7 1861.7L858.5 1790.8L862.3 1809.9L866.1 1866.5L869.9 1792.3L873.7 1812.2L877.5 1874.4L881.3 1797.8L885.1 1815.3L888.9 1885.5L892.7 1801.1L896.4 1820.8L900.2 1893.3L904.0 1803.8L907.8 1828.7L911.6 1907.3L915.4 1809.8L919.2 1832.0L923.0 1921.2L926.8 1810.2L930.6 1831.1L934.4 1919.8L938.2 1803.2L942.0 1826.6L945.8 1928.7L949.6 1794.6L953.4 1826.3L957.2 1936.8L960.9 1800.1L964.7 1830.2L968.5 1948.7L972.3 1790.5L976.1 1827.0L979.9 1950.9L983.7 1789.9L987.5 1823.7L991.3 1950.9L995.1 1786.2L998.9 1822.6L1002.7 1951.7L1006.5 1786.7L1010.3 1823.5L1014.1 1947.8L1017.9 1789.3L1021.7 1825.1L1025.4 1937.4L1029.2 1796.1L1033.0 1827.4L1036.8 1935.5L1040.6 1796.1L1044.4 1829.6L1048.2 1934.1L1052.0 1802.6L1055.8 1829.2L1059.6 1919.8L1063.4 1806.6L1067.2 1829.3L1071.0 1903.4L1074.8 1803.0L1078.6 1823.7L1082.4 1892.6L1086.1 1800.3L1089.9 1818.5L1093.7 1886.7L1097.5 1797.6L1101.3 1815.8L1105.1 1878.8L1108.9 1795.1L1112.7 1811.9L1116.5 1868.8L1120.3 1788.7L1124.1 1807.0L1127.9 1868.3L1131.7 1787.8L1135.5 1804.2L1139.3 1859.9L1143.1 1786.6L1146.9 1799.2L1150.6 1855.0L1154.4 1782.4L1158.2 1795.2L1162.0 1846.7L1165.8 1778.6L1169.6 1792.2L1173.4 1841.5L1177.2 1775.9L1181.0 1789.1" stroke="#e81c23" stroke-width="1.75" fill="none" stroke-linejoin="round" stroke-linecap="square"/>
<path d="M801.6 1834.2L805.4 1862.8L809.2 1871.9L813.0 1839.3L816.8 1866.5L820.6 1878.9L824.4 1841.3L828.2 1872.5L832.0 1883.1L835.7 1842.2L839.5 1875.5L843.3 1889.2L847.1 1845.0L850.9 1880.5L854.7 1893.6L858.5 1847.0L862.3 1885.7L866.1 1902.0L869.9 1849.5L873.7 1892.5L877.5 1909.8L881.3 1851.8L885.1 1899.8L888.9 1917.3L892.7 1854.5L896.4 1906.6L900.2 1927.5L904.0 1855.5L907.8 1914.5L911.6 1937.6L915.4 1857.5L919.2 1925.2L923.0 1954.1L926.8 1854.9L930.6 1933.5L934.4 1962.2L938.2 1854.4L942.0 1938.8L945.8 1968.4L949.6 1848.3L953.4 1945.8L957.2 1982.6L960.9 1841.0L964.7 1949.6L968.5 1988.0L972.3 1830.5L976.1 1953.9L979.9 1997.9L983.7 1824.8L987.5 1951.9L991.3 1996.4L995.1 1820.9L998.9 1950.4L1002.7 1992.7L1006.5 1821.1L1010.3 1947.8L1014.1 1987.9L1017.9 1826.5L1021.7 1956.6L1025.4 1991.1L1029.2 1834.7L1033.0 1942.0L1036.8 1976.7L1040.6 1841.1L1044.4 1941.2L1048.2 1971.9L1052.0 1849.3L1055.8 1932.1L1059.6 1954.9L1063.4 1855.1L1067.2 1922.9L1071.0 1942.9L1074.8 1858.0L1078.6 1917.9L1082.4 1935.9L1086.1 1858.3L1089.9 1911.6L1093.7 1926.1L1097.5 1855.5L1101.3 1904.5L1105.1 1917.4L1108.9 1855.7L1112.7 1897.3L1116.5 1906.3L1120.3 1853.3L1124.1 1890.6L1127.9 1901.9L1131.7 1849.8L1135.5 1884.0L1139.3 1894.3L1143.1 1847.6L1146.9 1877.8L1150.6 1885.9L1154.4 1843.3L1158.2 1873.2L1162.0 1881.5L1165.8 1842.0L1169.6 1868.0L1173.4 1876.3L1177.2 1839.6L1181.0 1859.7" stroke="#fba41d" stroke-width="1.75" fill="none" stroke-linejoin="round" stroke-linecap="square"/>
</svg>
<rect x="789.1" y="1986.6" width="180.2" height="73" rx="2.3" fill="#fff" fill-opacity="0.8" stroke="#ccc" stroke-opacity="0.8" stroke-width="1"/>
<path d="M793.3 1996.4h23.4" stroke="#2f4ba0" stroke-width="1.75"/>
<text x="826.1" y="2000.5" font-size="11.7" font-family="'DejaVu Sans', sans-serif" fill="#111">phyloP100way in peaks</text>
<path d="M793.3 2013.95h23.4" stroke="#87ceeb" stroke-width="1.75"/>
<text x="826.1" y="2018.05" font-size="11.7" font-family="'DejaVu Sans', sans-serif" fill="#111">phyloP30way in peaks</text>
<path d="M793.3 2031.5h23.4" stroke="#e81c23" stroke-width="1.75"/>
<text x="826.1" y="2035.6" font-size="11.7" font-family="'DejaVu Sans', sans-serif" fill="#111">phyloP100way</text>
<path d="M793.3 2049.05h23.4" stroke="#fba41d" stroke-width="1.75"/>
<text x="826.1" y="2053.15" font-size="11.7" font-family="'DejaVu Sans', sans-serif" fill="#111">phyloP30way</text>
<rect x="783.4" y="1758.4" width="417.6" height="306.9" fill="none" stroke="#000" stroke-width="0.95"/>
<text x="827.19" y="2082.9" font-size="11.7" font-family="'DejaVu Sans', sans-serif" fill="#111">−40</text>
<text x="903.07" y="2082.9" font-size="11.7" font-family="'DejaVu Sans', sans-serif" fill="#111">−20</text>
<text x="987.58" y="2082.9" font-size="11.7" font-family="'DejaVu Sans', sans-serif" fill="#111">0</text>
<text x="1059.74" y="2082.9" font-size="11.7" font-family="'DejaVu Sans', sans-serif" fill="#111">20</text>
<text x="1135.62" y="2082.9" font-size="11.7" font-family="'DejaVu Sans', sans-serif" fill="#111">40</text>
<text x="756.59" y="1799" font-size="11.7" font-family="'DejaVu Sans', sans-serif" fill="#111">0.0</text>
<text x="746.79" y="1851.18" font-size="11.7" font-family="'DejaVu Sans', sans-serif" fill="#111">−0.1</text>
<text x="746.79" y="1903.36" font-size="11.7" font-family="'DejaVu Sans', sans-serif" fill="#111">−0.2</text>
<text x="746.79" y="1955.54" font-size="11.7" font-family="'DejaVu Sans', sans-serif" fill="#111">−0.3</text>
<text x="746.79" y="2007.72" font-size="11.7" font-family="'DejaVu Sans', sans-serif" fill="#111">−0.4</text>
<text x="746.79" y="2059.9" font-size="11.7" font-family="'DejaVu Sans', sans-serif" fill="#111">−0.5</text>
<path d="M839.54 2065.3v4.1M915.42 2065.3v4.1M991.3 2065.3v4.1M1067.18 2065.3v4.1M1143.06 2065.3v4.1M783.4 1794.6h-4.1M783.4 1846.78h-4.1M783.4 1898.96h-4.1M783.4 1951.14h-4.1M783.4 2003.32h-4.1M783.4 2055.5h-4.1" stroke="#000" stroke-width="0.95" fill="none"/>
<text x="920.25" y="2098.5" font-size="11.7" font-family="'DejaVu Sans', sans-serif" fill="#111">position relative to motif</text>
<text transform="translate(738.3 1911.85) rotate(-90)" x="-55.39" y="0" font-size="11.7" font-family="'DejaVu Sans', sans-serif" fill="#111">conservation score</text>
<svg x="1320.5" y="1756.3" width="417" height="307" viewBox="1320.5 1756.3 417 307" overflow="hidden">
<path d="M1339.5 1865.2L1343.3 1846.6L1347.1 1863.5L1350.9 1853.3L1354.7 1850.0L1358.5 1846.6L1362.2 1887.1L1366.0 1866.9L1369.8 1850.0L1373.6 1839.8L1377.4 1824.6L1381.2 1856.7L1384.9 1878.7L1388.7 1850.0L1392.5 1893.9L1396.3 1954.7L1400.1 1870.2L1403.9 1843.2L1407.6 1863.5L1411.4 1850.0L1415.2 1821.3L1419.0 1860.1L1422.8 1904.0L1426.6 1912.5L1430.3 1843.2L1434.1 1866.9L1437.9 1858.4L1441.7 1850.0L1445.5 1811.1L1449.3 1829.7L1453.0 1877.0L1456.8 1924.3L1460.6 1931.0L1464.4 1877.0L1468.2 1877.0L1472.0 1897.3L1475.7 1871.9L1479.5 1878.7L1483.3 1875.3L1487.1 1850.0L1490.9 1797.6L1494.7 1826.3L1498.4 1850.0L1502.2 1843.2L1506.0 1880.4L1509.8 1877.0L1513.6 1797.6L1517.4 1853.3L1521.1 1856.7L1524.9 1826.3L1528.7 2039.1L1532.5 2018.9L1536.3 1931.0L1540.0 1910.8L1543.8 1850.0L1547.6 1839.8L1551.4 1866.9L1555.2 1850.0L1559.0 1902.3L1562.7 1826.3L1566.5 1873.6L1570.3 1846.6L1574.1 1860.1L1577.9 1870.2L1581.7 1863.5L1585.4 1853.3L1589.2 1910.8L1593.0 1816.2L1596.8 1877.0L1600.6 1775.6L1604.4 1853.3L1608.1 1856.7L1611.9 1860.1L1615.7 1846.6L1619.5 1853.3L1623.3 1850.0L1627.1 1885.4L1630.8 1826.3L1634.6 1860.1L1638.4 1893.9L1642.2 1937.8L1646.0 1843.2L1649.8 1850.0L1653.5 1860.1L1657.3 1856.7L1661.1 1855.0L1664.9 1858.4L1668.7 1816.2L1672.5 1836.5L1676.2 1866.9L1680.0 1885.4L1683.8 1843.2L1687.6 1853.3L1691.4 1877.0L1695.2 1936.1L1698.9 1870.2L1702.7 1816.2L1706.5 1807.7L1710.3 1809.4L1714.1 1863.5L1717.9 1869.6" stroke="#2f4ba0" stroke-width="1.75" fill="none" stroke-linejoin="round" stroke-linecap="square"/>
<path d="M1339.5 1853.3L1343.3 1822.9L1347.1 1821.3L1350.9 1839.8L1354.7 1839.8L1358.5 1836.5L1362.2 1846.6L1366.0 1838.1L1369.8 1839.8L1373.6 1833.1L1377.4 1814.5L1381.2 1804.4L1384.9 1850.0L1388.7 1877.0L1392.5 1927.7L1396.3 1971.6L1400.1 1893.9L1403.9 1831.4L1407.6 1843.2L1411.4 1806.1L1415.2 1785.8L1419.0 1839.8L1422.8 1904.0L1426.6 1902.3L1430.3 1843.2L1434.1 1839.8L1437.9 1822.9L1441.7 1850.0L1445.5 1806.1L1449.3 1826.3L1453.0 1887.1L1456.8 1937.8L1460.6 1941.2L1464.4 1877.0L1468.2 1866.9L1472.0 1882.1L1475.7 1882.1L1479.5 1873.6L1483.3 1853.3L1487.1 1850.0L1490.9 1770.6L1494.7 1806.1L1498.4 1821.3L1502.2 1816.2L1506.0 1880.4L1509.8 1819.6L1513.6 1772.3L1517.4 1833.1L1521.1 1843.2L1524.9 1797.6L1528.7 2049.3L1532.5 2029.0L1536.3 1927.7L1540.0 1924.3L1543.8 1853.3L1547.6 1811.1L1551.4 1877.0L1555.2 1829.7L1559.0 1883.7L1562.7 1809.4L1566.5 1860.1L1570.3 1833.1L1574.1 1860.1L1577.9 1826.3L1581.7 1860.1L1585.4 1839.8L1589.2 1860.1L1593.0 1794.2L1596.8 1850.0L1600.6 1819.6L1604.4 1843.2L1608.1 1888.8L1611.9 1833.1L1615.7 1802.7L1619.5 1831.4L1623.3 1822.9L1627.1 1839.8L1630.8 1799.3L1634.6 1866.9L1638.4 1900.6L1642.2 1956.4L1646.0 1829.7L1649.8 1822.9L1653.5 1826.3L1657.3 1824.6L1661.1 1797.6L1664.9 1807.7L1668.7 1804.4L1672.5 1819.6L1676.2 1861.8L1680.0 1836.5L1683.8 1809.4L1687.6 1853.3L1691.4 1883.7L1695.2 1937.8L1698.9 1870.2L1702.7 1809.4L1706.5 1809.4L1710.3 1804.4L1714.1 1834.8L1717.9 1836.5" stroke="#87ceeb" stroke-width="1.75" fill="none" stroke-linejoin="round" stroke-linecap="square"/>
<path d="M1339.5 1839.2L1343.3 1837.1L1347.1 1841.5L1350.9 1842.5L1354.7 1839.8L1358.5 1846.6L1362.2 1841.5L1366.0 1843.2L1369.8 1846.6L1373.6 1839.8L1377.4 1836.5L1381.2 1843.2L1384.9 1836.5L1388.7 1838.1L1392.5 1850.0L1396.3 1848.3L1400.1 1841.5L1403.9 1846.6L1407.6 1843.2L1411.4 1838.1L1415.2 1839.8L1419.0 1841.5L1422.8 1843.2L1426.6 1850.0L1430.3 1839.8L1434.1 1850.0L1437.9 1844.9L1441.7 1851.7L1445.5 1843.2L1449.3 1855.0L1453.0 1850.0L1456.8 1844.9L1460.6 1851.7L1464.4 1846.6L1468.2 1844.9L1472.0 1866.9L1475.7 1841.5L1479.5 1844.9L1483.3 1846.6L1487.1 1841.5L1490.9 1812.8L1494.7 1829.7L1498.4 1846.6L1502.2 1863.5L1506.0 1883.7L1509.8 1836.5L1513.6 1819.6L1517.4 1860.1L1521.1 1853.3L1524.9 1826.3L1528.7 1900.6L1532.5 1873.6L1536.3 1893.9L1540.0 1853.3L1543.8 1853.3L1547.6 1833.1L1551.4 1893.9L1555.2 1839.8L1559.0 1887.1L1562.7 1836.5L1566.5 1897.3L1570.3 1850.0L1574.1 1850.0L1577.9 1833.1L1581.7 1860.1L1585.4 1853.3L1589.2 1873.6L1593.0 1863.5L1596.8 1870.2L1600.6 1863.5L1604.4 1861.8L1608.1 1863.5L1611.9 1861.8L1615.7 1853.3L1619.5 1858.4L1623.3 1850.0L1627.1 1853.3L1630.8 1856.7L1634.6 1855.0L1638.4 1851.7L1642.2 1861.8L1646.0 1855.0L1649.8 1856.7L1653.5 1860.1L1657.3 1855.0L1661.1 1851.7L1664.9 1856.7L1668.7 1853.3L1672.5 1851.7L1676.2 1855.0L1680.0 1855.0L1683.8 1850.0L1687.6 1853.3L1691.4 1853.3L1695.2 1856.7L1698.9 1861.8L1702.7 1853.3L1706.5 1856.7L1710.3 1863.5L1714.1 1853.3L1717.9 1850.0" stroke="#e81c23" stroke-width="1.75" fill="none" stroke-linejoin="round" stroke-linecap="square"/>
<path d="M1339.5 1834.8L1343.3 1835.8L1347.1 1834.8L1350.9 1840.5L1354.7 1838.1L1358.5 1841.5L1362.2 1838.1L1366.0 1839.2L1369.8 1839.8L1373.6 1836.5L1377.4 1833.8L1381.2 1837.1L1384.9 1837.1L1388.7 1835.8L1392.5 1846.6L1396.3 1844.9L1400.1 1838.1L1403.9 1841.5L1407.6 1839.8L1411.4 1836.5L1415.2 1831.4L1419.0 1836.5L1422.8 1839.8L1426.6 1841.5L1430.3 1833.8L1434.1 1839.8L1437.9 1843.2L1441.7 1838.1L1445.5 1834.8L1449.3 1848.3L1453.0 1846.6L1456.8 1841.5L1460.6 1846.6L1464.4 1843.2L1468.2 1839.8L1472.0 1860.1L1475.7 1834.8L1479.5 1839.8L1483.3 1841.5L1487.1 1841.5L1490.9 1804.4L1494.7 1819.6L1498.4 1833.1L1502.2 1836.5L1506.0 1866.9L1509.8 1819.6L1513.6 1814.5L1517.4 1856.7L1521.1 1850.0L1524.9 1812.8L1528.7 1880.4L1532.5 1863.5L1536.3 1883.7L1540.0 1843.2L1543.8 1853.3L1547.6 1814.5L1551.4 1880.4L1555.2 1814.5L1559.0 1877.0L1562.7 1828.0L1566.5 1888.8L1570.3 1839.8L1574.1 1846.6L1577.9 1822.9L1581.7 1853.3L1585.4 1839.8L1589.2 1860.1L1593.0 1855.0L1596.8 1858.4L1600.6 1848.3L1604.4 1851.7L1608.1 1846.6L1611.9 1853.3L1615.7 1844.9L1619.5 1843.2L1623.3 1839.8L1627.1 1843.2L1630.8 1841.5L1634.6 1844.9L1638.4 1843.2L1642.2 1853.3L1646.0 1846.6L1649.8 1853.3L1653.5 1848.3L1657.3 1844.9L1661.1 1844.9L1664.9 1839.8L1668.7 1841.5L1672.5 1844.9L1676.2 1843.2L1680.0 1843.2L1683.8 1841.5L1687.6 1844.9L1691.4 1843.2L1695.2 1846.6L1698.9 1848.3L1702.7 1841.5L1706.5 1844.9L1710.3 1856.7L1714.1 1846.6L1717.9 1842.5" stroke="#fba41d" stroke-width="1.75" fill="none" stroke-linejoin="round" stroke-linecap="square"/>
</svg>
<rect x="1326.3" y="1984.5" width="180.1" height="73" rx="2.3" fill="#fff" fill-opacity="0.8" stroke="#ccc" stroke-opacity="0.8" stroke-width="1"/>
<path d="M1330.5 1994.3h23.4" stroke="#2f4ba0" stroke-width="1.75"/>
<text x="1363.3" y="1998.4" font-size="11.7" font-family="'DejaVu Sans', sans-serif" fill="#111">phyloP100way in peaks</text>
<path d="M1330.5 2011.85h23.4" stroke="#87ceeb" stroke-width="1.75"/>
<text x="1363.3" y="2015.95" font-size="11.7" font-family="'DejaVu Sans', sans-serif" fill="#111">phyloP30way in peaks</text>
<path d="M1330.5 2029.4h23.4" stroke="#e81c23" stroke-width="1.75"/>
<text x="1363.3" y="2033.5" font-size="11.7" font-family="'DejaVu Sans', sans-serif" fill="#111">phyloP100way</text>
<path d="M1330.5 2046.95h23.4" stroke="#fba41d" stroke-width="1.75"/>
<text x="1363.3" y="2051.05" font-size="11.7" font-family="'DejaVu Sans', sans-serif" fill="#111">phyloP30way</text>
<rect x="1320.5" y="1756.3" width="417" height="307" fill="none" stroke="#000" stroke-width="0.95"/>
<text x="1365.03" y="2080.9" font-size="11.7" font-family="'DejaVu Sans', sans-serif" fill="#111">−40</text>
<text x="1440.69" y="2080.9" font-size="11.7" font-family="'DejaVu Sans', sans-serif" fill="#111">−20</text>
<text x="1524.98" y="2080.9" font-size="11.7" font-family="'DejaVu Sans', sans-serif" fill="#111">0</text>
<text x="1596.92" y="2080.9" font-size="11.7" font-family="'DejaVu Sans', sans-serif" fill="#111">20</text>
<text x="1672.58" y="2080.9" font-size="11.7" font-family="'DejaVu Sans', sans-serif" fill="#111">40</text>
<text x="1293.69" y="1796.94" font-size="11.7" font-family="'DejaVu Sans', sans-serif" fill="#111">0.2</text>
<text x="1293.69" y="1864.5" font-size="11.7" font-family="'DejaVu Sans', sans-serif" fill="#111">0.0</text>
<text x="1283.89" y="1932.06" font-size="11.7" font-family="'DejaVu Sans', sans-serif" fill="#111">−0.2</text>
<text x="1283.89" y="1999.62" font-size="11.7" font-family="'DejaVu Sans', sans-serif" fill="#111">−0.4</text>
<text x="1283.89" y="2067.18" font-size="11.7" font-family="'DejaVu Sans', sans-serif" fill="#111">−0.6</text>
<path d="M1377.38 2063.3v4.1M1453.04 2063.3v4.1M1528.7 2063.3v4.1M1604.36 2063.3v4.1M1680.02 2063.3v4.1M1320.5 1792.54h-4.1M1320.5 1860.1h-4.1M1320.5 1927.66h-4.1M1320.5 1995.22h-4.1M1320.5 2062.78h-4.1" stroke="#000" stroke-width="0.95" fill="none"/>
<text x="1457.05" y="2096.5" font-size="11.7" font-family="'DejaVu Sans', sans-serif" fill="#111">position relative to motif</text>
<text transform="translate(1275.5 1909.8) rotate(-90)" x="-55.39" y="0" font-size="11.7" font-family="'DejaVu Sans', sans-serif" fill="#111">conservation score</text>
</svg>
</body></html>
